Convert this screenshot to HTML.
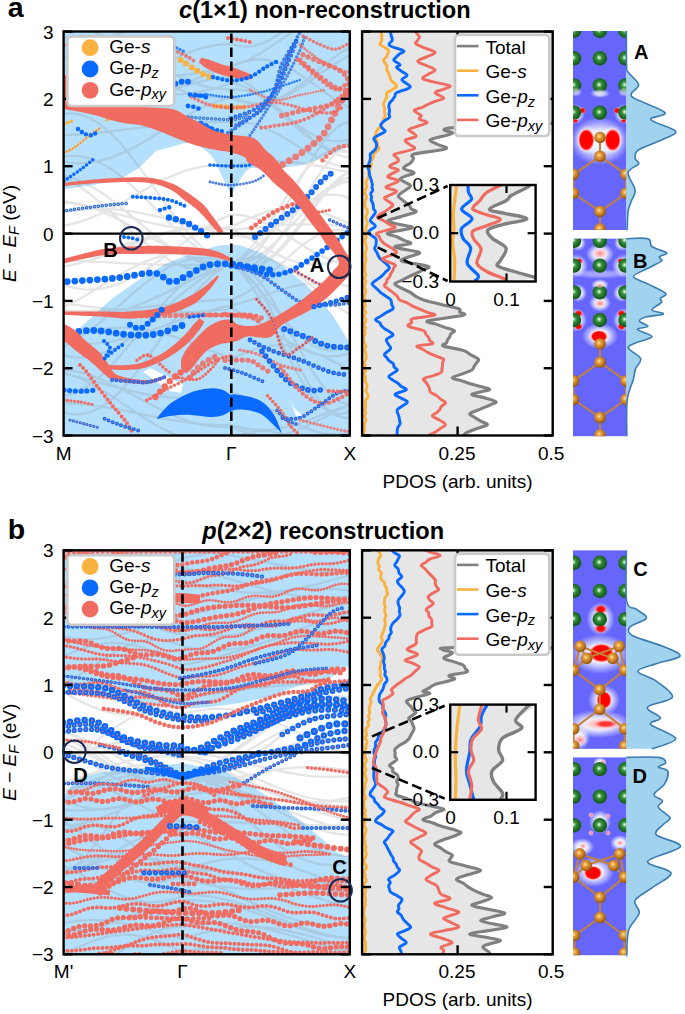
<!DOCTYPE html><html><head><meta charset="utf-8"><style>html,body{margin:0;padding:0;background:#fff;}body{width:685px;height:1014px;overflow:hidden;}svg{display:block;}</style></head><body><svg width="685" height="1014" viewBox="0 0 685 1014" font-family='"Liberation Sans", sans-serif'><defs><radialGradient id="gG" cx="0.45" cy="0.45" r="0.55"><stop offset="0" stop-color="#f0fff0"/><stop offset="0.18" stop-color="#8fd08f"/><stop offset="0.35" stop-color="#3a8f40"/><stop offset="0.7" stop-color="#1f6e25"/><stop offset="1" stop-color="#14531a"/></radialGradient><radialGradient id="gO" cx="0.42" cy="0.4" r="0.6"><stop offset="0" stop-color="#ffe6a8"/><stop offset="0.3" stop-color="#e8a23c"/><stop offset="0.75" stop-color="#b8701c"/><stop offset="1" stop-color="#8a5210"/></radialGradient><radialGradient id="gW"><stop offset="0" stop-color="#fff" stop-opacity="1"/><stop offset="0.45" stop-color="#fff" stop-opacity="0.85"/><stop offset="1" stop-color="#fff" stop-opacity="0"/></radialGradient><radialGradient id="gR"><stop offset="0" stop-color="#ff0000"/><stop offset="0.5" stop-color="#ff0a0a"/><stop offset="0.8" stop-color="#ff6060" stop-opacity="0.6"/><stop offset="1" stop-color="#ffb0b0" stop-opacity="0"/></radialGradient><radialGradient id="gR2"><stop offset="0" stop-color="#ff0000"/><stop offset="0.72" stop-color="#ff0505"/><stop offset="0.88" stop-color="#ffb0b0"/><stop offset="1" stop-color="#ffffff" stop-opacity="0"/></radialGradient><radialGradient id="gP"><stop offset="0" stop-color="#ff8080"/><stop offset="0.6" stop-color="#ffc0c0" stop-opacity="0.7"/><stop offset="1" stop-color="#ffe0e0" stop-opacity="0"/></radialGradient><clipPath id="clipBa"><rect x="63.6" y="31.5" width="286.2" height="404"/></clipPath><clipPath id="clipPa"><rect x="362.1" y="31.5" width="190.6" height="404"/></clipPath><clipPath id="clipBb"><rect x="63.6" y="550.3" width="286.2" height="404"/></clipPath><clipPath id="clipPb"><rect x="362.1" y="550.3" width="190.6" height="404"/></clipPath></defs><rect width="685" height="1014" fill="#fff"/><text x="7.8" y="16.6" font-size="28.5" font-weight="bold">a</text><text x="7.8" y="538.7" font-size="28.5" font-weight="bold">b</text><text x="179" y="17.5" font-size="23.6" font-weight="bold"><tspan font-style="italic">c</tspan>(1×1) non-reconstruction</text><text x="202.3" y="539.1" font-size="23.6" font-weight="bold"><tspan font-style="italic">p</tspan>(2×2) reconstruction</text><g clip-path="url(#clipBa)"><path d="M60,28 L353,28 L353,143 L340,150 L325,157 L302,165 L280,168 L262,168 L250,168 L245,172 L231,195 L214,159 L209,153 L195,143 L185,143 L165,148.5 L156,151 L139,168 L117,181 L86,186 L60,190Z" fill="#b4e0fe"/><path d="M60,347 L86.3,322 L112.5,298.3 L138.8,280 L165,264 L191.4,253.6 L217.6,245.8 L231,244.5 L240.7,245.5 L261.4,252.8 L282,265.2 L302.8,281.8 L319.4,298.3 L333.9,317 L346.3,337.7 L353,348 L353,440 L60,440Z" fill="#b4e0fe"/><path d="M143,372 L150,368 L183,384 L181,393 L170,391Z" fill="#fff"/><path d="M290,400 L294,408 L303,416 L296,416Z" fill="#fff"/><path d="M63,309.3 L70,311.1 L77,312.4 L84,313.3 L91,313.7 L98.1,313.6 L105.1,313.1 L112.1,312.2 L119.1,310.8 L126.1,309 L133.1,306.8 L140.1,304.3 L147.2,301.4 L154.2,298.3 L161.2,295.1 L168.2,291.6 L175.2,288.1 L182.2,284.6 L189.2,281.1 L196.2,277.7 L203.3,274.4 L210.3,271.4 L217.3,268.6 L224.3,266.1 L231.3,264 L236.2,267.2 L241.2,271.1 L246.1,275.5 L251.1,280.5 L256,285.8 L261,291.5 L265.9,297.4 L270.9,303.4 L275.8,309.4 L280.8,315.3 L285.7,321.1 L290.6,326.5 L295.6,331.6 L300.5,336.2 L305.5,340.3 L310.4,343.8 L315.4,346.5 L320.3,348.6 L325.3,349.9 L330.2,350.4 L335.2,350.2 L340.1,349.1 L345.1,347.3 L350,344.8 M63,346.8 L70,343.3 L77,339.3 L84,334.6 L91,329.4 L98.1,323.9 L105.1,318 L112.1,311.9 L119.1,305.7 L126.1,299.5 L133.1,293.3 L140.1,287.4 L147.2,281.8 L154.2,276.6 L161.2,271.9 L168.2,267.8 L175.2,264.3 L182.2,261.5 L189.2,259.5 L196.2,258.2 L203.3,257.8 L210.3,258.1 L217.3,259.3 L224.3,261.3 L231.3,264 L236.2,264.4 L241.2,265.9 L246.1,268.7 L251.1,272.5 L256,277.5 L261,283.3 L265.9,290.1 L270.9,297.6 L275.8,305.7 L280.8,314.4 L285.7,323.3 L290.6,332.5 L295.6,341.6 L300.5,350.7 L305.5,359.5 L310.4,367.8 L315.4,375.5 L320.3,382.6 L325.3,388.8 L330.2,394.1 L335.2,398.4 L340.1,401.5 L345.1,403.5 L350,404.4 M63,411.9 L70,413.9 L77,414.5 L84,413.9 L91,412 L98.1,408.8 L105.1,404.4 L112.1,398.8 L119.1,392.3 L126.1,384.8 L133.1,376.4 L140.1,367.5 L147.2,358 L154.2,348.2 L161.2,338.2 L168.2,328.2 L175.2,318.3 L182.2,308.8 L189.2,299.8 L196.2,291.5 L203.3,283.9 L210.3,277.3 L217.3,271.7 L224.3,267.2 L231.3,264 L236.2,261.7 L241.2,259.8 L246.1,258.5 L251.1,257.7 L256,257.4 L261,257.7 L265.9,258.5 L270.9,259.8 L275.8,261.6 L280.8,263.9 L285.7,266.6 L290.6,269.7 L295.6,273.2 L300.5,276.9 L305.5,280.8 L310.4,284.9 L315.4,289 L320.3,293.1 L325.3,297.2 L330.2,301.1 L335.2,304.9 L340.1,308.3 L345.1,311.4 L350,314.2 M63,260.1 L70,260.4 L77,260.7 L84,261.1 L91,261.5 L98.1,261.8 L105.1,262.2 L112.1,262.6 L119.1,263 L126.1,263.3 L133.1,263.7 L140.1,264 L147.2,264.2 L154.2,264.5 L161.2,264.7 L168.2,264.8 L175.2,264.9 L182.2,265 L189.2,265 L196.2,264.9 L203.3,264.8 L210.3,264.7 L217.3,264.5 L224.3,264.3 L231.3,264 L236.2,264.1 L241.2,263.5 L246.1,262.3 L251.1,260.3 L256,257.7 L261,254.5 L265.9,250.8 L270.9,246.5 L275.8,241.9 L280.8,236.9 L285.7,231.7 L290.6,226.4 L295.6,221 L300.5,215.6 L305.5,210.3 L310.4,205.2 L315.4,200.5 L320.3,196.1 L325.3,192.2 L330.2,188.8 L335.2,185.9 L340.1,183.7 L345.1,182.2 L350,181.4 M63,114.2 L70,113.4 L77,113.9 L84,115.7 L91,118.7 L98.1,123 L105.1,128.3 L112.1,134.8 L119.1,142.1 L126.1,150.2 L133.1,159.1 L140.1,168.4 L147.2,178.1 L154.2,187.9 L161.2,197.8 L168.2,207.6 L175.2,217 L182.2,225.9 L189.2,234.3 L196.2,241.8 L203.3,248.5 L210.3,254.1 L217.3,258.6 L224.3,261.9 L231.3,264 L236.2,266.3 L241.2,267.8 L246.1,268.4 L251.1,268.2 L256,267.1 L261,265.2 L265.9,262.4 L270.9,258.9 L275.8,254.7 L280.8,249.8 L285.7,244.4 L290.6,238.6 L295.6,232.4 L300.5,225.9 L305.5,219.3 L310.4,212.7 L315.4,206.1 L320.3,199.8 L325.3,193.7 L330.2,188.1 L335.2,183 L340.1,178.5 L345.1,174.6 L350,171.5 M63,355 L70,356.6 L77,357.3 L84,357.3 L91,356.4 L98.1,354.7 L105.1,352.2 L112.1,349 L119.1,345.1 L126.1,340.7 L133.1,335.6 L140.1,330.2 L147.2,324.4 L154.2,318.3 L161.2,312.1 L168.2,305.8 L175.2,299.6 L182.2,293.6 L189.2,287.8 L196.2,282.5 L203.3,277.5 L210.3,273.2 L217.3,269.4 L224.3,266.3 L231.3,264 L236.2,261.2 L241.2,257.4 L246.1,252.9 L251.1,247.5 L256,241.5 L261,234.9 L265.9,227.9 L270.9,220.5 L275.8,213 L280.8,205.3 L285.7,197.7 L290.6,190.3 L295.6,183.2 L300.5,176.5 L305.5,170.3 L310.4,164.9 L315.4,160.1 L320.3,156.2 L325.3,153.2 L330.2,151.1 L335.2,150 L340.1,149.9 L345.1,150.8 L350,152.7 M63,307.6 L70,304.1 L77,300.4 L84,296.4 L91,292.2 L98.1,287.9 L105.1,283.6 L112.1,279.3 L119.1,275.1 L126.1,271.1 L133.1,267.4 L140.1,263.9 L147.2,260.9 L154.2,258.2 L161.2,256.1 L168.2,254.4 L175.2,253.3 L182.2,252.8 L189.2,252.8 L196.2,253.3 L203.3,254.5 L210.3,256.1 L217.3,258.3 L224.3,260.9 L231.3,264 L236.2,265.9 L241.2,266.7 L246.1,266.5 L251.1,265.1 L256,262.7 L261,259.2 L265.9,254.8 L270.9,249.5 L275.8,243.4 L280.8,236.7 L285.7,229.3 L290.6,221.5 L295.6,213.3 L300.5,205 L305.5,196.7 L310.4,188.4 L315.4,180.4 L320.3,172.8 L325.3,165.7 L330.2,159.3 L335.2,153.6 L340.1,148.7 L345.1,144.8 L350,141.8 M63,177 L70,180.5 L77,184.8 L84,189.6 L91,194.9 L98.1,200.7 L105.1,206.8 L112.1,213.2 L119.1,219.7 L126.1,226.2 L133.1,232.6 L140.1,238.8 L147.2,244.6 L154.2,250.1 L161.2,255.1 L168.2,259.4 L175.2,263.1 L182.2,266.1 L189.2,268.3 L196.2,269.7 L203.3,270.2 L210.3,269.9 L217.3,268.8 L224.3,266.8 L231.3,264 L236.2,266 L241.2,267.2 L246.1,267.6 L251.1,267.1 L256,265.7 L261,263.6 L265.9,260.6 L270.9,256.9 L275.8,252.5 L280.8,247.6 L285.7,242.1 L290.6,236.2 L295.6,230 L300.5,223.5 L305.5,217 L310.4,210.5 L315.4,204.1 L320.3,197.9 L325.3,192 L330.2,186.6 L335.2,181.8 L340.1,177.5 L345.1,173.9 L350,171.1 M63,202.6 L70,203.1 L77,204.1 L84,205.7 L91,207.7 L98.1,210.1 L105.1,213 L112.1,216.1 L119.1,219.6 L126.1,223.3 L133.1,227.2 L140.1,231.2 L147.2,235.3 L154.2,239.2 L161.2,243.1 L168.2,246.9 L175.2,250.3 L182.2,253.5 L189.2,256.4 L196.2,258.8 L203.3,260.9 L210.3,262.4 L217.3,263.5 L224.3,264 L231.3,264 L236.2,265.8 L241.2,268.9 L246.1,273.2 L251.1,278.7 L256,285.3 L261,292.7 L265.9,301 L270.9,310 L275.8,319.5 L280.8,329.4 L285.7,339.5 L290.6,349.5 L295.6,359.5 L300.5,369.1 L305.5,378.2 L310.4,386.7 L315.4,394.4 L320.3,401.1 L325.3,406.9 L330.2,411.5 L335.2,414.9 L340.1,417 L345.1,417.8 L350,417.3 M63,175.5 L70,177.2 L77,179.5 L84,182.5 L91,186.2 L98.1,190.5 L105.1,195.2 L112.1,200.4 L119.1,205.9 L126.1,211.6 L133.1,217.5 L140.1,223.4 L147.2,229.3 L154.2,235 L161.2,240.4 L168.2,245.5 L175.2,250.1 L182.2,254.3 L189.2,257.8 L196.2,260.7 L203.3,262.8 L210.3,264.3 L217.3,265 L224.3,264.9 L231.3,264 L236.2,267.7 L241.2,272.5 L246.1,278.5 L251.1,285.5 L256,293.3 L261,302 L265.9,311.2 L270.9,320.8 L275.8,330.8 L280.8,340.8 L285.7,350.8 L290.6,360.6 L295.6,370 L300.5,378.8 L305.5,386.8 L310.4,394.1 L315.4,400.4 L320.3,405.6 L325.3,409.6 L330.2,412.4 L335.2,413.9 L340.1,414.1 L345.1,412.9 L350,410.5 M63,396 L70,394.5 L77,392 L84,388.3 L91,383.7 L98.1,378.1 L105.1,371.8 L112.1,364.7 L119.1,357 L126.1,348.8 L133.1,340.4 L140.1,331.7 L147.2,323.1 L154.2,314.5 L161.2,306.2 L168.2,298.3 L175.2,291 L182.2,284.3 L189.2,278.4 L196.2,273.4 L203.3,269.4 L210.3,266.4 L217.3,264.5 L224.3,263.7 L231.3,264 L236.2,261.5 L241.2,258.6 L246.1,255.1 L251.1,251.3 L256,247.1 L261,242.6 L265.9,238 L270.9,233.2 L275.8,228.4 L280.8,223.6 L285.7,219 L290.6,214.6 L295.6,210.5 L300.5,206.7 L305.5,203.4 L310.4,200.5 L315.4,198.1 L320.3,196.4 L325.3,195.2 L330.2,194.6 L335.2,194.7 L340.1,195.4 L345.1,196.7 L350,198.6 M63,156.6 L70,155.8 L77,155.9 L84,156.9 L91,158.9 L98.1,161.7 L105.1,165.3 L112.1,169.7 L119.1,174.9 L126.1,180.6 L133.1,186.8 L140.1,193.5 L147.2,200.4 L154.2,207.5 L161.2,214.6 L168.2,221.7 L175.2,228.6 L182.2,235.1 L189.2,241.3 L196.2,246.9 L203.3,251.8 L210.3,256.1 L217.3,259.6 L224.3,262.2 L231.3,264 L236.2,264.1 L241.2,262.9 L246.1,260.5 L251.1,257 L256,252.4 L261,246.8 L265.9,240.2 L270.9,232.8 L275.8,224.8 L280.8,216.2 L285.7,207.2 L290.6,197.9 L295.6,188.6 L300.5,179.3 L305.5,170.2 L310.4,161.6 L315.4,153.5 L320.3,146 L325.3,139.4 L330.2,133.6 L335.2,128.9 L340.1,125.3 L345.1,122.8 L350,121.5 M63,46.4 L70,45.3 L77,44 L84,42.5 L91,40.9 L98.1,39.2 L105.1,37.3 L112.1,35.5 L119.1,33.6 L126.1,31.7 L133.1,29.8 L140.1,28 L147.2,26.3 L154.2,24.7 L161.2,23.3 L168.2,22.1 L175.2,21.1 L182.2,20.3 L189.2,19.7 L196.2,19.4 L203.3,19.3 L210.3,19.5 L217.3,19.9 L224.3,20.6 L231.3,21.5 L236.2,23 L241.2,24.4 L246.1,25.5 L251.1,26.3 L256,26.9 L261,27.1 L265.9,27.1 L270.9,26.8 L275.8,26.2 L280.8,25.4 L285.7,24.2 L290.6,22.8 L295.6,21.3 L300.5,19.5 L305.5,17.5 L310.4,15.5 L315.4,13.3 L320.3,11.1 L325.3,8.9 L330.2,6.7 L335.2,4.5 L340.1,2.4 L345.1,0.5 L350,-1.2 M63,200.9 L70,202.1 L77,203.5 L84,205 L91,206.8 L98.1,208.6 L105.1,210.5 L112.1,212.5 L119.1,214.5 L126.1,216.5 L133.1,218.4 L140.1,220.3 L147.2,222 L154.2,223.6 L161.2,225.1 L168.2,226.3 L175.2,227.4 L182.2,228.2 L189.2,228.7 L196.2,229 L203.3,229.1 L210.3,228.9 L217.3,228.4 L224.3,227.7 L231.3,226.7 L236.2,224.4 L241.2,222.1 L246.1,219.8 L251.1,217.7 L256,215.7 L261,213.8 L265.9,212.1 L270.9,210.7 L275.8,209.5 L280.8,208.6 L285.7,208 L290.6,207.7 L295.6,207.7 L300.5,207.9 L305.5,208.5 L310.4,209.4 L315.4,210.5 L320.3,211.9 L325.3,213.6 L330.2,215.4 L335.2,217.4 L340.1,219.5 L345.1,221.8 L350,224.1 M63,372.5 L70,374.6 L77,377.2 L84,380.3 L91,383.9 L98.1,387.8 L105.1,392 L112.1,396.5 L119.1,401.1 L126.1,405.9 L133.1,410.6 L140.1,415.2 L147.2,419.7 L154.2,423.9 L161.2,427.9 L168.2,431.4 L175.2,434.5 L182.2,437.2 L189.2,439.3 L196.2,440.8 L203.3,441.7 L210.3,442 L217.3,441.7 L224.3,440.8 L231.3,439.3 L236.2,436.9 L241.2,434.9 L246.1,433.2 L251.1,432 L256,431.2 L261,430.8 L265.9,430.8 L270.9,431.3 L275.8,432.3 L280.8,433.6 L285.7,435.4 L290.6,437.5 L295.6,439.9 L300.5,442.7 L305.5,445.7 L310.4,448.8 L315.4,452.1 L320.3,455.5 L325.3,458.9 L330.2,462.3 L335.2,465.6 L340.1,468.7 L345.1,471.6 L350,474.3 M63,340 L70,337.5 L77,335.2 L84,333.2 L91,331.4 L98.1,330 L105.1,328.9 L112.1,328.1 L119.1,327.7 L126.1,327.6 L133.1,328 L140.1,328.7 L147.2,329.7 L154.2,331.1 L161.2,332.8 L168.2,334.8 L175.2,337 L182.2,339.5 L189.2,342.1 L196.2,344.8 L203.3,347.7 L210.3,350.5 L217.3,353.3 L224.3,356.1 L231.3,358.7 L236.2,356.4 L241.2,354.2 L246.1,352.2 L251.1,350.4 L256,348.8 L261,347.5 L265.9,346.5 L270.9,345.8 L275.8,345.4 L280.8,345.3 L285.7,345.5 L290.6,346.1 L295.6,347 L300.5,348.1 L305.5,349.6 L310.4,351.3 L315.4,353.2 L320.3,355.3 L325.3,357.5 L330.2,359.9 L335.2,362.4 L340.1,364.8 L345.1,367.3 L350,369.7 M63,161.5 L70,162.6 L77,163.1 L84,163 L91,162.4 L98.1,161.2 L105.1,159.4 L112.1,157.2 L119.1,154.4 L126.1,151.3 L133.1,147.8 L140.1,144 L147.2,139.9 L154.2,135.6 L161.2,131.3 L168.2,126.9 L175.2,122.6 L182.2,118.4 L189.2,114.4 L196.2,110.6 L203.3,107.2 L210.3,104.1 L217.3,101.5 L224.3,99.4 L231.3,97.8 L236.2,99.9 L241.2,101.5 L246.1,102.8 L251.1,103.5 L256,103.9 L261,103.7 L265.9,103.1 L270.9,102.1 L275.8,100.6 L280.8,98.7 L285.7,96.4 L290.6,93.7 L295.6,90.8 L300.5,87.7 L305.5,84.3 L310.4,80.8 L315.4,77.3 L320.3,73.7 L325.3,70.2 L330.2,66.7 L335.2,63.5 L340.1,60.5 L345.1,57.7 L350,55.3 M63,403.3 L70,403.5 L77,403.9 L84,404.5 L91,405.2 L98.1,406.1 L105.1,407.2 L112.1,408.3 L119.1,409.6 L126.1,410.9 L133.1,412.3 L140.1,413.7 L147.2,415.2 L154.2,416.6 L161.2,418 L168.2,419.3 L175.2,420.5 L182.2,421.6 L189.2,422.6 L196.2,423.4 L203.3,424.1 L210.3,424.6 L217.3,425 L224.3,425.1 L231.3,425.1 L236.2,426.4 L241.2,427.6 L246.1,428.5 L251.1,429.2 L256,429.7 L261,429.9 L265.9,429.8 L270.9,429.5 L275.8,429 L280.8,428.2 L285.7,427.2 L290.6,425.9 L295.6,424.5 L300.5,422.9 L305.5,421.2 L310.4,419.4 L315.4,417.5 L320.3,415.5 L325.3,413.6 L330.2,411.6 L335.2,409.7 L340.1,407.9 L345.1,406.3 L350,404.7 M63,101.2 L70,103 L77,104.4 L84,105.4 L91,106.1 L98.1,106.4 L105.1,106.3 L112.1,105.9 L119.1,105 L126.1,103.8 L133.1,102.2 L140.1,100.4 L147.2,98.2 L154.2,95.8 L161.2,93.2 L168.2,90.5 L175.2,87.6 L182.2,84.7 L189.2,81.7 L196.2,78.8 L203.3,76 L210.3,73.3 L217.3,70.8 L224.3,68.5 L231.3,66.5 L236.2,64.2 L241.2,62.4 L246.1,61 L251.1,60 L256,59.5 L261,59.5 L265.9,59.9 L270.9,60.8 L275.8,62.2 L280.8,64 L285.7,66.2 L290.6,68.7 L295.6,71.6 L300.5,74.8 L305.5,78.1 L310.4,81.6 L315.4,85.2 L320.3,88.9 L325.3,92.5 L330.2,96 L335.2,99.4 L340.1,102.6 L345.1,105.5 L350,108.1 M63,369.5 L70,370.3 L77,371.6 L84,373.3 L91,375.5 L98.1,378.1 L105.1,381 L112.1,384.2 L119.1,387.6 L126.1,391.2 L133.1,395 L140.1,398.7 L147.2,402.5 L154.2,406.2 L161.2,409.8 L168.2,413.1 L175.2,416.2 L182.2,419 L189.2,421.4 L196.2,423.5 L203.3,425.1 L210.3,426.2 L217.3,426.9 L224.3,427 L231.3,426.7 L236.2,428.8 L241.2,430.6 L246.1,432.2 L251.1,433.6 L256,434.6 L261,435.3 L265.9,435.6 L270.9,435.6 L275.8,435.3 L280.8,434.6 L285.7,433.6 L290.6,432.3 L295.6,430.7 L300.5,428.8 L305.5,426.7 L310.4,424.5 L315.4,422 L320.3,419.5 L325.3,416.9 L330.2,414.3 L335.2,411.6 L340.1,409.1 L345.1,406.7 L350,404.4 M63,225.6 L70,224.3 L77,222.6 L84,220.4 L91,217.8 L98.1,214.9 L105.1,211.6 L112.1,208 L119.1,204.2 L126.1,200.3 L133.1,196.3 L140.1,192.3 L147.2,188.4 L154.2,184.6 L161.2,180.9 L168.2,177.6 L175.2,174.5 L182.2,171.8 L189.2,169.6 L196.2,167.8 L203.3,166.4 L210.3,165.6 L217.3,165.3 L224.3,165.5 L231.3,166.2 L236.2,165.3 L241.2,164.4 L246.1,163.6 L251.1,162.9 L256,162.4 L261,161.9 L265.9,161.6 L270.9,161.4 L275.8,161.4 L280.8,161.4 L285.7,161.7 L290.6,162 L295.6,162.5 L300.5,163.1 L305.5,163.8 L310.4,164.6 L315.4,165.5 L320.3,166.4 L325.3,167.4 L330.2,168.4 L335.2,169.5 L340.1,170.5 L345.1,171.5 L350,172.5 M63,37.3 L70,38.5 L77,40.2 L84,42.4 L91,45 L98.1,48 L105.1,51.3 L112.1,54.8 L119.1,58.6 L126.1,62.5 L133.1,66.5 L140.1,70.4 L147.2,74.4 L154.2,78.1 L161.2,81.7 L168.2,85.1 L175.2,88.1 L182.2,90.8 L189.2,93 L196.2,94.8 L203.3,96.1 L210.3,97 L217.3,97.3 L224.3,97.1 L231.3,96.3 L236.2,98.7 L241.2,100.6 L246.1,102 L251.1,103 L256,103.3 L261,103.2 L265.9,102.5 L270.9,101.2 L275.8,99.5 L280.8,97.3 L285.7,94.6 L290.6,91.6 L295.6,88.2 L300.5,84.6 L305.5,80.7 L310.4,76.7 L315.4,72.5 L320.3,68.4 L325.3,64.3 L330.2,60.4 L335.2,56.6 L340.1,53.1 L345.1,50 L350,47.2 M63,26.3 L70,26.7 L77,27.7 L84,29.2 L91,31.2 L98.1,33.6 L105.1,36.5 L112.1,39.7 L119.1,43.2 L126.1,47 L133.1,51 L140.1,55.1 L147.2,59.2 L154.2,63.3 L161.2,67.3 L168.2,71.2 L175.2,74.8 L182.2,78.2 L189.2,81.2 L196.2,83.7 L203.3,85.9 L210.3,87.6 L217.3,88.7 L224.3,89.4 L231.3,89.5 L236.2,89.3 L241.2,89.6 L246.1,90.6 L251.1,92.1 L256,94.2 L261,96.8 L265.9,99.8 L270.9,103.2 L275.8,107 L280.8,111.1 L285.7,115.3 L290.6,119.8 L295.6,124.2 L300.5,128.7 L305.5,133.1 L310.4,137.3 L315.4,141.3 L320.3,145 L325.3,148.3 L330.2,151.1 L335.2,153.6 L340.1,155.5 L345.1,156.8 L350,157.6 M63,135.2 L70,134.9 L77,134.5 L84,134 L91,133.4 L98.1,132.8 L105.1,132 L112.1,131.2 L119.1,130.4 L126.1,129.5 L133.1,128.6 L140.1,127.7 L147.2,126.9 L154.2,126 L161.2,125.2 L168.2,124.5 L175.2,123.8 L182.2,123.2 L189.2,122.7 L196.2,122.3 L203.3,122 L210.3,121.9 L217.3,121.8 L224.3,121.9 L231.3,122.1 L236.2,121.8 L241.2,122 L246.1,122.6 L251.1,123.5 L256,124.9 L261,126.5 L265.9,128.5 L270.9,130.8 L275.8,133.3 L280.8,136 L285.7,138.8 L290.6,141.8 L295.6,144.8 L300.5,147.8 L305.5,150.7 L310.4,153.6 L315.4,156.3 L320.3,158.8 L325.3,161.1 L330.2,163.1 L335.2,164.8 L340.1,166.1 L345.1,167.1 L350,167.7 M63,102.2 L70,101.9 L77,101.1 L84,99.9 L91,98.2 L98.1,96 L105.1,93.5 L112.1,90.6 L119.1,87.4 L126.1,84 L133.1,80.4 L140.1,76.6 L147.2,72.8 L154.2,69 L161.2,65.3 L168.2,61.7 L175.2,58.3 L182.2,55.1 L189.2,52.3 L196.2,49.8 L203.3,47.7 L210.3,46.1 L217.3,44.9 L224.3,44.2 L231.3,44 L236.2,45.4 L241.2,46.3 L246.1,46.6 L251.1,46.3 L256,45.4 L261,43.9 L265.9,41.9 L270.9,39.3 L275.8,36.3 L280.8,32.8 L285.7,28.9 L290.6,24.8 L295.6,20.4 L300.5,15.9 L305.5,11.2 L310.4,6.6 L315.4,2.1 L320.3,-2.3 L325.3,-6.5 L330.2,-10.3 L335.2,-13.8 L340.1,-16.8 L345.1,-19.4 L350,-21.5 M63,108.6 L70,109.1 L77,109.4 L84,109.3 L91,109 L98.1,108.4 L105.1,107.5 L112.1,106.4 L119.1,105 L126.1,103.4 L133.1,101.6 L140.1,99.7 L147.2,97.6 L154.2,95.4 L161.2,93.2 L168.2,91 L175.2,88.8 L182.2,86.6 L189.2,84.6 L196.2,82.7 L203.3,80.9 L210.3,79.4 L217.3,78 L224.3,77 L231.3,76.1 L236.2,77.9 L241.2,80.2 L246.1,83 L251.1,86.1 L256,89.7 L261,93.5 L265.9,97.6 L270.9,101.9 L275.8,106.2 L280.8,110.6 L285.7,114.9 L290.6,119.2 L295.6,123.2 L300.5,126.9 L305.5,130.3 L310.4,133.4 L315.4,135.9 L320.3,138 L325.3,139.6 L330.2,140.7 L335.2,141.1 L340.1,141 L345.1,140.4 L350,139.1 M63,56.7 L70,58.5 L77,60.4 L84,62.3 L91,64.2 L98.1,66 L105.1,67.8 L112.1,69.4 L119.1,70.9 L126.1,72.3 L133.1,73.4 L140.1,74.3 L147.2,75.1 L154.2,75.5 L161.2,75.8 L168.2,75.8 L175.2,75.5 L182.2,75 L189.2,74.3 L196.2,73.3 L203.3,72.1 L210.3,70.8 L217.3,69.3 L224.3,67.6 L231.3,65.9 L236.2,64.6 L241.2,62.9 L246.1,60.8 L251.1,58.5 L256,55.8 L261,52.9 L265.9,49.7 L270.9,46.5 L275.8,43.1 L280.8,39.7 L285.7,36.4 L290.6,33.1 L295.6,30 L300.5,27 L305.5,24.3 L310.4,21.9 L315.4,19.8 L320.3,18.1 L325.3,16.8 L330.2,15.9 L335.2,15.5 L340.1,15.5 L345.1,15.9 L350,16.7 M63,284.8 L70,286.9 L77,288.5 L84,289.4 L91,289.6 L98.1,289.1 L105.1,288 L112.1,286.2 L119.1,283.8 L126.1,280.8 L133.1,277.2 L140.1,273.2 L147.2,268.8 L154.2,264.1 L161.2,259.2 L168.2,254 L175.2,248.8 L182.2,243.6 L189.2,238.6 L196.2,233.7 L203.3,229.1 L210.3,224.8 L217.3,221 L224.3,217.6 L231.3,214.9 L236.2,214.8 L241.2,215.2 L246.1,216 L251.1,217.2 L256,218.8 L261,220.8 L265.9,223 L270.9,225.6 L275.8,228.4 L280.8,231.3 L285.7,234.5 L290.6,237.7 L295.6,240.9 L300.5,244.1 L305.5,247.2 L310.4,250.2 L315.4,253.1 L320.3,255.6 L325.3,257.9 L330.2,259.9 L335.2,261.6 L340.1,262.9 L345.1,263.7 L350,264.2 M63,262 L70,260.8 L77,259.3 L84,257.6 L91,255.7 L98.1,253.6 L105.1,251.4 L112.1,249.1 L119.1,246.8 L126.1,244.4 L133.1,242.1 L140.1,239.8 L147.2,237.6 L154.2,235.6 L161.2,233.7 L168.2,232.1 L175.2,230.7 L182.2,229.6 L189.2,228.7 L196.2,228.1 L203.3,227.9 L210.3,227.9 L217.3,228.3 L224.3,229 L231.3,229.9 L236.2,229.4 L241.2,228.9 L246.1,228.3 L251.1,227.8 L256,227.3 L261,226.8 L265.9,226.3 L270.9,225.8 L275.8,225.4 L280.8,225.1 L285.7,224.8 L290.6,224.6 L295.6,224.4 L300.5,224.3 L305.5,224.3 L310.4,224.4 L315.4,224.5 L320.3,224.7 L325.3,224.9 L330.2,225.2 L335.2,225.6 L340.1,226 L345.1,226.5 L350,227 M63,65.8 L70,68.3 L77,70.8 L84,73.5 L91,76.1 L98.1,78.8 L105.1,81.3 L112.1,83.7 L119.1,86 L126.1,88.1 L133.1,89.9 L140.1,91.5 L147.2,92.8 L154.2,93.7 L161.2,94.4 L168.2,94.7 L175.2,94.6 L182.2,94.2 L189.2,93.5 L196.2,92.4 L203.3,91 L210.3,89.4 L217.3,87.5 L224.3,85.3 L231.3,83 L236.2,84 L241.2,85.5 L246.1,87.5 L251.1,90.1 L256,93.2 L261,96.6 L265.9,100.4 L270.9,104.5 L275.8,108.8 L280.8,113.2 L285.7,117.8 L290.6,122.3 L295.6,126.7 L300.5,130.9 L305.5,135 L310.4,138.7 L315.4,142 L320.3,144.9 L325.3,147.4 L330.2,149.3 L335.2,150.7 L340.1,151.5 L345.1,151.7 L350,151.4 M63,212.1 L70,211 L77,210.1 L84,209.5 L91,209.1 L98.1,208.9 L105.1,209 L112.1,209.3 L119.1,209.9 L126.1,210.7 L133.1,211.7 L140.1,212.9 L147.2,214.3 L154.2,215.8 L161.2,217.5 L168.2,219.3 L175.2,221.2 L182.2,223.1 L189.2,225 L196.2,226.8 L203.3,228.6 L210.3,230.4 L217.3,232 L224.3,233.4 L231.3,234.7 L236.2,235.9 L241.2,236.6 L246.1,236.8 L251.1,236.5 L256,235.6 L261,234.3 L265.9,232.4 L270.9,230.1 L275.8,227.4 L280.8,224.3 L285.7,220.9 L290.6,217.2 L295.6,213.4 L300.5,209.4 L305.5,205.4 L310.4,201.3 L315.4,197.4 L320.3,193.6 L325.3,190 L330.2,186.7 L335.2,183.7 L340.1,181.1 L345.1,178.9 L350,177.2 M63,373.6 L70,375.1 L77,376.7 L84,378.5 L91,380.4 L98.1,382.3 L105.1,384.2 L112.1,386.1 L119.1,387.9 L126.1,389.7 L133.1,391.4 L140.1,392.9 L147.2,394.3 L154.2,395.4 L161.2,396.4 L168.2,397.1 L175.2,397.6 L182.2,397.9 L189.2,397.9 L196.2,397.7 L203.3,397.2 L210.3,396.4 L217.3,395.5 L224.3,394.3 L231.3,393 L236.2,394.2 L241.2,395.7 L246.1,397.5 L251.1,399.6 L256,401.9 L261,404.3 L265.9,407 L270.9,409.7 L275.8,412.5 L280.8,415.3 L285.7,418.1 L290.6,420.8 L295.6,423.3 L300.5,425.7 L305.5,427.9 L310.4,429.7 L315.4,431.4 L320.3,432.7 L325.3,433.6 L330.2,434.2 L335.2,434.5 L340.1,434.4 L345.1,433.9 L350,433 M63,341.9 L70,342.8 L77,343.4 L84,343.6 L91,343.5 L98.1,343.1 L105.1,342.3 L112.1,341.3 L119.1,339.9 L126.1,338.2 L133.1,336.3 L140.1,334.2 L147.2,331.9 L154.2,329.4 L161.2,326.9 L168.2,324.3 L175.2,321.7 L182.2,319.1 L189.2,316.6 L196.2,314.3 L203.3,312.1 L210.3,310 L217.3,308.3 L224.3,306.8 L231.3,305.5 L236.2,304.3 L241.2,302.9 L246.1,301.4 L251.1,299.9 L256,298.2 L261,296.5 L265.9,294.8 L270.9,293.2 L275.8,291.5 L280.8,290 L285.7,288.5 L290.6,287.2 L295.6,286 L300.5,285 L305.5,284.2 L310.4,283.6 L315.4,283.2 L320.3,283 L325.3,283 L330.2,283.3 L335.2,283.8 L340.1,284.5 L345.1,285.3 L350,286.4 M63,266.6 L70,265.4 L77,263.8 L84,262 L91,260 L98.1,257.7 L105.1,255.2 L112.1,252.7 L119.1,250 L126.1,247.3 L133.1,244.6 L140.1,242 L147.2,239.5 L154.2,237.1 L161.2,234.9 L168.2,232.9 L175.2,231.1 L182.2,229.7 L189.2,228.5 L196.2,227.7 L203.3,227.3 L210.3,227.1 L217.3,227.4 L224.3,227.9 L231.3,228.8 L236.2,231.3 L241.2,233.9 L246.1,236.7 L251.1,239.5 L256,242.5 L261,245.4 L265.9,248.2 L270.9,251 L275.8,253.6 L280.8,256 L285.7,258.1 L290.6,260 L295.6,261.6 L300.5,262.9 L305.5,263.8 L310.4,264.3 L315.4,264.5 L320.3,264.3 L325.3,263.7 L330.2,262.7 L335.2,261.4 L340.1,259.7 L345.1,257.8 L350,255.6 M63,310.7 L70,310.9 L77,311 L84,310.9 L91,310.8 L98.1,310.6 L105.1,310.3 L112.1,309.9 L119.1,309.5 L126.1,308.9 L133.1,308.3 L140.1,307.6 L147.2,306.9 L154.2,306.1 L161.2,305.4 L168.2,304.6 L175.2,303.8 L182.2,303.1 L189.2,302.4 L196.2,301.7 L203.3,301.1 L210.3,300.5 L217.3,300 L224.3,299.7 L231.3,299.4 L236.2,297.8 L241.2,295.6 L246.1,292.9 L251.1,289.8 L256,286.2 L261,282.3 L265.9,278.1 L270.9,273.6 L275.8,269 L280.8,264.4 L285.7,259.8 L290.6,255.2 L295.6,250.8 L300.5,246.7 L305.5,242.9 L310.4,239.4 L315.4,236.5 L320.3,234 L325.3,232 L330.2,230.6 L335.2,229.8 L340.1,229.6 L345.1,230 L350,231 M63,303.6 L70,304.4 L77,305.2 L84,306.1 L91,306.9 L98.1,307.7 L105.1,308.5 L112.1,309.3 L119.1,310 L126.1,310.7 L133.1,311.2 L140.1,311.7 L147.2,312.1 L154.2,312.4 L161.2,312.6 L168.2,312.7 L175.2,312.6 L182.2,312.5 L189.2,312.2 L196.2,311.9 L203.3,311.4 L210.3,310.9 L217.3,310.2 L224.3,309.6 L231.3,308.8 L236.2,310.6 L241.2,312.6 L246.1,315 L251.1,317.7 L256,320.6 L261,323.7 L265.9,326.9 L270.9,330.2 L275.8,333.5 L280.8,336.7 L285.7,339.9 L290.6,342.9 L295.6,345.7 L300.5,348.2 L305.5,350.5 L310.4,352.4 L315.4,353.9 L320.3,355.1 L325.3,355.8 L330.2,356.1 L335.2,356 L340.1,355.5 L345.1,354.5 L350,353.1" fill="none" stroke="#8a8a8a" stroke-opacity="0.22" stroke-width="2.3" stroke-linejoin="round"/><path d="M180.6,59.9C183.3,61.7 191.7,67.6 196.6,70.5C201.5,73.4 207.7,76 209.9,77.1" fill="none" stroke="#f9b23f" stroke-width="6" stroke-linecap="round" stroke-dasharray="0 6.6"/><path d="M64,124L75,120" fill="none" stroke="#f9b23f" stroke-width="3.6" stroke-linecap="round" stroke-dasharray="0 3.96"/><path d="M107,120C110,119 119.5,115.7 125,114C130.5,112.3 137.5,110.7 140,110" fill="none" stroke="#f9b23f" stroke-width="3" stroke-linecap="round" stroke-dasharray="0 3.3"/><path d="M64,153C65.8,152 70.7,150 75,147C79.3,144 85.8,138.2 90,135C94.2,131.8 98.3,129.2 100,128" fill="none" stroke="#f9b23f" stroke-width="3" stroke-linecap="round" stroke-dasharray="0 3.3"/><path d="M64,153C65.8,152 70.7,150 75,147C79.3,144 85.8,138.2 90,135C94.2,131.8 98.3,129.2 100,128" fill="none" stroke="#f06b60" stroke-width="1.2" stroke-linecap="round" stroke-dasharray="0 3.3"/><path d="M64,181C66.7,179.2 74.8,173.8 80,170C85.2,166.2 92.5,160 95,158" fill="none" stroke="#0a6aff" stroke-width="3.6" stroke-linecap="round" stroke-dasharray="0 3.96"/><path d="M78,129C79.2,129.8 82.5,133 85,134C87.5,135 91,135.5 93,135C95,134.5 96.3,131.7 97,131" fill="none" stroke="#0a6aff" stroke-width="4.4" stroke-linecap="round" stroke-dasharray="0 4.84"/><path d="M198.9,62.2 L199.3,62.7 L200,63.4 L200.7,64 L201.7,64.8 L202.7,65.6 L203.8,66.4 L204.9,67.3 L206.1,68.1 L207.5,68.8 L208.9,69.5 L210.4,70.2 L212,70.9 L213.6,71.7 L215.2,72.4 L216.8,73.1 L218.4,73.7 L219.9,74.2 L221.4,74.7 L222.8,75.1 L224.2,75.4 L225.5,75.8 L226.9,76.1 L228.2,76.4 L229.7,76.8 L231.3,77.1 L233,77.5 L234.8,77.9 L236.6,78.3 L238.5,78.7 L240.3,79.1 L241.9,79.4 L243.5,79.7 L244.9,79.8 L246.3,79.8 L247.5,79.7 L248.6,79.6 L249.6,79.5 L250.5,79.3 L251.2,79.2 L251.7,79 L252.3,75 L251.7,74.7 L251.1,74.4 L250.3,74 L249.4,73.7 L248.5,73.3 L247.5,72.9 L246.4,72.4 L245.3,71.9 L244,71.5 L242.5,70.9 L240.9,70.3 L239.2,69.7 L237.4,69 L235.7,68.4 L233.9,67.8 L232.3,67.2 L230.8,66.8 L229.3,66.4 L227.9,66.1 L226.6,65.7 L225.4,65.4 L224.1,65.1 L222.9,64.7 L221.6,64.3 L220.3,63.8 L218.8,63.3 L217.2,62.8 L215.7,62.2 L214.1,61.6 L212.6,61 L211.2,60.4 L209.9,59.9 L208.6,59.6 L207.3,59.2 L206,58.9 L204.8,58.6 L203.7,58.3 L202.7,58 L201.9,57.9 L201.1,57.8Z" fill="#f06b60"/><path d="M213,77C216,77.6 224.8,80.5 231,80.5C237.2,80.5 244.2,79.2 250,77C255.8,74.8 261,69.8 266,67C271,64.2 277.7,61.2 280,60" fill="none" stroke="#0a6aff" stroke-width="4.4" stroke-linecap="round" stroke-dasharray="0 4.84"/><path d="M175,119C178.3,119.7 188.7,121.3 195,123C201.3,124.7 208,127.5 213,129C218,130.5 223,131.5 225,132" fill="none" stroke="#0a6aff" stroke-width="4.4" stroke-linecap="round" stroke-dasharray="0 4.84"/><path d="M215,106C217.7,106.2 225.7,106.8 231,107C236.3,107.2 244.3,107 247,107" fill="none" stroke="#f9b23f" stroke-width="5.2" stroke-linecap="round" stroke-dasharray="0 5.72"/><path d="M205,94C209.3,94.5 221.5,97.3 231,97C240.5,96.7 250.5,94.8 262,92C273.5,89.2 293.7,82 300,80" fill="none" stroke="#0a6aff" stroke-width="2.6" stroke-linecap="round" stroke-dasharray="0 2.86" stroke-opacity="0.8"/><path d="M210,165C213.5,165.2 224.3,166 231,166C237.7,166 244.3,166.3 250,165C255.7,163.7 262.5,159.2 265,158" fill="none" stroke="#0a6aff" stroke-width="3.6" stroke-linecap="round" stroke-dasharray="0 3.96"/><path d="M210,182C213.3,182.5 222.8,185.3 230,185.2C237.2,185.1 247.3,183.4 253.2,181.6C259.1,179.8 263.5,175.7 265.6,174.5" fill="none" stroke="#0a6aff" stroke-width="2.8" stroke-linecap="round" stroke-dasharray="0 3.08" stroke-opacity="0.9"/><path d="M210,182C213.3,182.5 222.8,185.3 230,185.2C237.2,185.1 247.3,183.4 253.2,181.6C259.1,179.8 263.5,175.7 265.6,174.5" fill="none" stroke="#f06b60" stroke-width="1.2" stroke-linecap="round" stroke-dasharray="0 3.08" stroke-opacity="0.9"/><path d="M228,133C231.7,130.5 244,122.2 250,118C256,113.8 259.8,112.6 264,107.6C268.2,102.6 272,95.3 275,88C278,80.7 278.3,72.2 282,64C285.7,55.8 294.5,43.2 297,39" fill="none" stroke="#0a6aff" stroke-width="4" stroke-linecap="round" stroke-dasharray="0 4.4" stroke-opacity="0.9"/><path d="M228,133C231.7,130.5 244,122.2 250,118C256,113.8 259.8,112.6 264,107.6C268.2,102.6 272,95.3 275,88C278,80.7 278.3,72.2 282,64C285.7,55.8 294.5,43.2 297,39" fill="none" stroke="#f06b60" stroke-width="1.6" stroke-linecap="round" stroke-dasharray="0 4.4" stroke-opacity="0.9"/><path d="M240,150C242.5,146.3 250,135.5 255,128C260,120.5 265,113 270,105C275,97 280,89.2 285,80C290,70.8 296.7,57.5 300,50C303.3,42.5 304.2,37.5 305,35" fill="none" stroke="#0a6aff" stroke-width="3.2" stroke-linecap="round" stroke-dasharray="0 3.52" stroke-opacity="0.8"/><path d="M240,150C242.5,146.3 250,135.5 255,128C260,120.5 265,113 270,105C275,97 280,89.2 285,80C290,70.8 296.7,57.5 300,50C303.3,42.5 304.2,37.5 305,35" fill="none" stroke="#f06b60" stroke-width="1.4" stroke-linecap="round" stroke-dasharray="0 3.52" stroke-opacity="0.8"/><path d="M228,38C230,38.3 236.3,39.3 240,40C243.7,40.7 248.3,41.7 250,42" fill="none" stroke="#f06b60" stroke-width="4" stroke-linecap="round" stroke-dasharray="0 4.4"/><path d="M300,60C303,62.5 311.8,70.3 318,75C324.2,79.7 332,85.5 337,88C342,90.5 346.2,89.7 348,90" fill="none" stroke="#f06b60" stroke-width="5" stroke-linecap="round" stroke-dasharray="0 5.5" stroke-opacity="0.85"/><path d="M348,90C346,91.7 341,96.2 336,100C331,103.8 324.5,109.3 318,113C311.5,116.7 303.3,120 297,122C290.7,124 286.2,124 280,125C273.8,126 263.3,127.5 260,128" fill="none" stroke="#f06b60" stroke-width="4" stroke-linecap="round" stroke-dasharray="0 4.4" stroke-opacity="0.85"/><path d="M276.3,168.3C280.4,165.8 294.1,158.1 301.2,153.2C308.3,148.3 314.8,142.8 319,138.9C323.2,135 323.7,134 326.2,130C328.7,126 331.4,120 334,115C336.6,110 339.5,104.2 342,100C344.5,95.8 347.8,91.7 349,90" fill="none" stroke="#f06b60" stroke-width="6.8" stroke-linecap="round" stroke-dasharray="0 7.48" stroke-opacity="0.85"/><path d="M322.6,160.3C325,158.2 332,150.2 336.9,147.8C341.8,145.4 349.5,146.3 352,146" fill="none" stroke="#f06b60" stroke-width="4.8" stroke-linecap="round" stroke-dasharray="0 5.28" stroke-opacity="0.85"/><path d="M300,45C303.3,47.5 313.3,55.8 320,60C326.7,64.2 335,68 340,70C345,72 348.3,71.7 350,72" fill="none" stroke="#f06b60" stroke-width="2.8" stroke-linecap="round" stroke-dasharray="0 3.08" stroke-opacity="0.8"/><path d="M250,90C254.2,91.7 266.7,99.2 275,100C283.3,100.8 291.7,96.7 300,95C308.3,93.3 320.8,90.8 325,90" fill="none" stroke="#f06b60" stroke-width="2.4" stroke-linecap="round" stroke-dasharray="0 2.64" stroke-opacity="0.8"/><path d="M175.3,83.8C177.1,83.3 183.3,80.9 186,81.1C188.7,81.3 190.4,84.4 191.3,85.1" fill="none" stroke="#0a6aff" stroke-width="6" stroke-linecap="round" stroke-dasharray="0 6.6"/><path d="M178,52C179.7,52.8 184.9,55.2 188,57C191.1,58.8 195.2,61.6 196.6,62.5" fill="none" stroke="#f06b60" stroke-width="4" stroke-linecap="round" stroke-dasharray="0 4.4" stroke-opacity="0.85"/><path d="M191.3,97C194.4,98.3 203.3,103.2 209.9,105C216.5,106.8 224.4,107.5 231,107.7C237.6,107.9 243,107.3 249.7,106.4C256.4,105.5 264.4,102.6 271,102.4C277.6,102.2 283.4,103.7 289.6,105C295.8,106.3 301.4,109.1 308,110.4C314.6,111.7 323.6,113.5 329.4,113C335.2,112.5 340.5,108.6 342.7,107.7" fill="none" stroke="#f06b60" stroke-width="3.6" stroke-linecap="round" stroke-dasharray="0 3.96" stroke-opacity="0.85"/><path d="M194,95.7L207,95.7" fill="none" stroke="#0a6aff" stroke-width="4" stroke-linecap="round" stroke-dasharray="0 4.4"/><path d="M236,125C239.2,123.2 249.3,118.5 255,114C260.7,109.5 265.8,104 270,98C274.2,92 276.7,85.7 280,78C283.3,70.3 286.7,59.7 290,52C293.3,44.3 298.3,35.3 300,32" fill="none" stroke="#0a6aff" stroke-width="3.6" stroke-linecap="round" stroke-dasharray="0 3.96" stroke-opacity="0.85"/><path d="M236,125C239.2,123.2 249.3,118.5 255,114C260.7,109.5 265.8,104 270,98C274.2,92 276.7,85.7 280,78C283.3,70.3 286.7,59.7 290,52C293.3,44.3 298.3,35.3 300,32" fill="none" stroke="#f06b60" stroke-width="1.4" stroke-linecap="round" stroke-dasharray="0 3.96" stroke-opacity="0.85"/><path d="M231,118.3C235.4,116.5 250.1,112.6 257.7,107.7C265.2,102.8 271.4,96.2 276.3,89.1C281.2,82 283.4,73.6 286.9,65.2C290.4,56.8 295.7,43 297.5,38.6" fill="none" stroke="#0a6aff" stroke-width="4.4" stroke-linecap="round" stroke-dasharray="0 4.84" stroke-opacity="0.9"/><path d="M231,118.3C235.4,116.5 250.1,112.6 257.7,107.7C265.2,102.8 271.4,96.2 276.3,89.1C281.2,82 283.4,73.6 286.9,65.2C290.4,56.8 295.7,43 297.5,38.6" fill="none" stroke="#f06b60" stroke-width="1.6" stroke-linecap="round" stroke-dasharray="0 4.84" stroke-opacity="0.9"/><path d="M297.5,59.9C300.6,62.5 309.8,70.9 316,75.8C322.2,80.7 329.6,87.8 334.7,89.1C339.8,90.4 344.7,84.7 346.7,83.8" fill="none" stroke="#f06b60" stroke-width="4.4" stroke-linecap="round" stroke-dasharray="0 4.84" stroke-opacity="0.85"/><path d="M302.8,36C305.5,37.3 313.5,41.8 318.8,44C324.1,46.2 329.8,49.3 334.7,49.3C339.6,49.3 345.8,44.9 348,44" fill="none" stroke="#f06b60" stroke-width="3.6" stroke-linecap="round" stroke-dasharray="0 3.96" stroke-opacity="0.85"/><path d="M281.6,115.7C285.1,114.8 294.8,112.2 302.8,110.4C310.8,108.6 322.3,107.2 329.4,105C336.5,102.8 342.2,101 345.3,97C348.4,93 348.9,85.5 348,81.1C347.1,76.7 344.4,73.6 340,70.5C335.6,67.4 327.6,65.2 321.4,62.5C315.2,59.9 305.9,55.9 302.8,54.6" fill="none" stroke="#f06b60" stroke-width="5.2" stroke-linecap="round" stroke-dasharray="0 5.72" stroke-opacity="0.85"/><path d="M64,45C68.3,45.5 80.7,46.3 90,48C99.3,49.7 110,52.7 120,55C130,57.3 140.8,60.2 150,62C159.2,63.8 170.8,65.3 175,66" fill="none" stroke="#f06b60" stroke-width="2.8" stroke-linecap="round" stroke-dasharray="0 3.08" stroke-opacity="0.8"/><path d="M150,40C153.3,40.8 164.2,43 170,45C175.8,47 182.5,50.8 185,52" fill="none" stroke="#0a6aff" stroke-width="3.2" stroke-linecap="round" stroke-dasharray="0 3.52" stroke-opacity="0.8"/><path d="M201,123C202.5,123.8 207.2,126.2 210,128C212.8,129.8 215.8,132.1 218,134C220.2,135.9 222.6,138.7 223.5,139.6" fill="none" stroke="#0a6aff" stroke-width="5.2" stroke-linecap="round" stroke-dasharray="0 5.72" stroke-opacity="0.9"/><path d="M188,117C190,117.2 195.5,117.7 200,118C204.5,118.3 209.8,118.8 215,119C220.2,119.2 226.5,119.8 231.5,119.5C236.5,119.2 241.9,118.2 245,117C248.1,115.8 249.2,112.8 250,112" fill="none" stroke="#0a6aff" stroke-width="3.6" stroke-linecap="round" stroke-dasharray="0 3.96" stroke-opacity="0.85"/><path d="M188,117C190,117.2 195.5,117.7 200,118C204.5,118.3 209.8,118.8 215,119C220.2,119.2 226.5,119.8 231.5,119.5C236.5,119.2 241.9,118.2 245,117C248.1,115.8 249.2,112.8 250,112" fill="none" stroke="#f9b23f" stroke-width="1.6" stroke-linecap="round" stroke-dasharray="0 3.96" stroke-opacity="0.85"/><path d="M190,94.6C191.7,94.8 197.1,95 200,95.5C202.9,96 206.2,97.4 207.5,97.8" fill="none" stroke="#0a6aff" stroke-width="4.8" stroke-linecap="round" stroke-dasharray="0 5.28"/><path d="M188,106C189,106.2 192.1,106.5 194,107C195.9,107.5 198.5,108.7 199.4,109" fill="none" stroke="#0a6aff" stroke-width="4.8" stroke-linecap="round" stroke-dasharray="0 5.28"/><path d="M60.2,186.5 L63.2,186.2 L67.3,185.8 L72,185.3 L77.4,184.8 L83.1,184.3 L88.9,183.7 L94.6,183.3 L100.1,183 L105.6,182.7 L111.5,182.5 L117.5,182.3 L123.5,182.1 L129.4,182 L135,182.1 L140.2,182.2 L144.8,182.5 L148.8,182.9 L152.4,183.5 L155.6,184.1 L158.5,184.9 L161.2,185.8 L163.8,186.7 L166.3,187.7 L168.8,188.8 L171.2,189.9 L173.3,191.2 L175.3,192.6 L177.2,194.1 L179.1,195.6 L181,197.2 L182.8,198.8 L184.7,200.3 L186.5,201.6 L188.3,202.8 L190,204.1 L191.6,205.3 L193.2,206.5 L194.7,207.7 L196,208.8 L197.3,210 L198.5,211 L199.5,212 L200.5,212.9 L201.4,213.9 L202.4,214.9 L203.3,216 L204.3,217.1 L205.3,218.2 L206.4,219.4 L207.4,220.6 L208.5,221.9 L209.6,223.1 L210.6,224.4 L211.7,225.6 L212.7,226.8 L213.7,227.9 L214.7,228.9 L215.7,229.9 L216.7,230.9 L217.6,231.8 L218.5,232.6 L219.3,233.3 L219.9,233.9 L220.5,234.3 L223.5,231.7 L223.2,231.1 L222.7,230.3 L222.1,229.5 L221.4,228.5 L220.7,227.4 L219.9,226.3 L219.1,225.2 L218.3,224.1 L217.5,223 L216.6,221.7 L215.7,220.5 L214.7,219.1 L213.7,217.8 L212.7,216.4 L211.7,215 L210.7,213.8 L209.8,212.6 L208.9,211.4 L208.1,210.3 L207.2,209.1 L206.2,207.9 L205.2,206.6 L204,205.3 L202.7,204 L201.2,202.8 L199.7,201.5 L198.1,200.2 L196.5,198.9 L194.8,197.7 L193,196.4 L191.2,195 L189.3,193.7 L187.4,192.5 L185.5,191.2 L183.4,189.8 L181.3,188.4 L179,187 L176.5,185.6 L173.9,184.3 L171.2,183.2 L168.5,182.2 L165.7,181.3 L162.9,180.4 L160,179.6 L156.7,178.9 L153.3,178.3 L149.4,177.8 L145.2,177.5 L140.4,177.3 L135,177.3 L129.3,177.4 L123.4,177.6 L117.3,177.9 L111.3,178.3 L105.4,178.6 L99.9,179 L94.3,179.5 L88.5,180 L82.7,180.7 L77,181.3 L71.7,182 L66.9,182.6 L62.9,183.1 L59.8,183.5Z" fill="#f06b60"/><path d="M63,211C69.2,210.2 89.2,207.3 100,206C110.8,204.7 123,203.8 127.6,203.3" fill="none" stroke="#0a6aff" stroke-width="3.6" stroke-linecap="round" stroke-dasharray="0 3.96"/><path d="M63,211C69.2,210.2 89.2,207.3 100,206C110.8,204.7 123,203.8 127.6,203.3" fill="none" stroke="#f9b23f" stroke-width="1.6" stroke-linecap="round" stroke-dasharray="0 3.96"/><path d="M132.8,196.8C138.4,197.2 157.8,197.9 166.4,199.4C175,200.9 181.4,204.7 184.4,205.8" fill="none" stroke="#0a6aff" stroke-width="4" stroke-linecap="round" stroke-dasharray="0 4.4"/><path d="M160,210L170,207" fill="none" stroke="#0a6aff" stroke-width="4.4" stroke-linecap="round" stroke-dasharray="0 4.84"/><path d="M169,217.5C171.7,218.2 180.3,220.1 185,222C189.7,223.9 193.6,226.7 197.4,229C201.2,231.3 206,234.5 207.7,235.6" fill="none" stroke="#0a6aff" stroke-width="6.4" stroke-linecap="round" stroke-dasharray="0 7.04"/><path d="M255,236.9C258.2,234.5 267.4,227.7 274.5,222.6C281.6,217.5 291.8,211.3 297.7,206.6C303.6,201.8 305.9,198.5 310,194.1C314.1,189.7 318.9,183.5 322.6,179.9C326.3,176.3 330.8,173.9 332.4,172.7" fill="none" stroke="#0a6aff" stroke-width="6" stroke-linecap="round" stroke-dasharray="0 6.6"/><path d="M255,236.9C258.2,234.5 267.4,227.7 274.5,222.6C281.6,217.5 291.8,211.3 297.7,206.6C303.6,201.8 305.9,198.5 310,194.1C314.1,189.7 318.9,183.5 322.6,179.9C326.3,176.3 330.8,173.9 332.4,172.7" fill="none" stroke="#f06b60" stroke-width="1.4" stroke-linecap="round" stroke-dasharray="0 6.6"/><path d="M251.4,228C255.2,225.3 266.2,216.4 274.5,211.9C282.8,207.4 296.8,203 301.2,201.2" fill="none" stroke="#f06b60" stroke-width="4.8" stroke-linecap="round" stroke-dasharray="0 5.28"/><path d="M315.5,212.8L329.7,210.1" fill="none" stroke="#f06b60" stroke-width="3.2" stroke-linecap="round" stroke-dasharray="0 3.52"/><path d="M329.7,220L352,229.7" fill="none" stroke="#0a6aff" stroke-width="3.6" stroke-linecap="round" stroke-dasharray="0 3.96"/><path d="M329.7,220L352,229.7" fill="none" stroke="#f06b60" stroke-width="1.6" stroke-linecap="round" stroke-dasharray="0 3.96"/><path d="M60.5,263.9 L64,263.2 L68.6,262.2 L74.2,260.9 L80.3,259.6 L86.7,258.2 L93.1,256.9 L99.1,255.8 L104.5,255 L109.3,254.5 L114.1,254.1 L118.7,253.9 L123.3,253.9 L127.7,253.9 L132,253.9 L136.1,254 L140.1,254 L143.7,253.9 L146.9,253.8 L149.8,253.7 L152.6,253.7 L155.5,253.7 L158.5,253.8 L161.9,253.9 L165.9,254 L170.5,254.1 L175.7,254.2 L181.4,254.4 L187.2,254.6 L192.9,254.9 L198.4,255.2 L203.3,255.5 L207.5,256 L211,256.4 L214.1,256.9 L216.9,257.5 L219.4,258.2 L221.7,258.9 L223.7,259.5 L225.6,260.1 L227.2,260.6 L228.5,261.1 L229.3,261.4 L229.8,261.6 L230.1,261.7 L230.3,261.9 L230.5,262.1 L230.9,262.4 L231.3,262.7 L232.7,261.3 L232.7,261.1 L232.8,260.9 L232.7,260.5 L232.4,259.9 L231.9,259.1 L231.2,258.4 L230.1,257.7 L228.8,257 L227.3,256.1 L225.6,255.2 L223.6,254.1 L221.3,253 L218.7,251.9 L215.7,250.9 L212.3,249.9 L208.5,249 L204.1,248.4 L199,247.9 L193.4,247.5 L187.6,247.1 L181.7,246.8 L176,246.5 L170.8,246.2 L166.1,246 L162.2,245.9 L158.7,245.8 L155.6,245.7 L152.6,245.7 L149.7,245.7 L146.7,245.8 L143.5,245.9 L139.9,246 L136,246.2 L131.8,246.4 L127.5,246.6 L123,246.9 L118.3,247.2 L113.5,247.7 L108.6,248.2 L103.5,249 L98,250.1 L92,251.5 L85.6,253 L79.2,254.7 L73.1,256.3 L67.5,257.8 L62.9,259.1 L59.5,260.1Z" fill="#f06b60"/><path d="M124,237C125.3,237.2 129.5,237.5 132,238C134.5,238.5 137.8,239.7 139,240" fill="none" stroke="#0a6aff" stroke-width="4" stroke-linecap="round" stroke-dasharray="0 4.4"/><path d="M60,282C69.1,281.4 99.1,279.7 114.7,278.2C130.3,276.7 143.9,272.4 153.4,273C162.9,273.6 165.9,281.6 171.5,282C177.1,282.4 181,278.4 187,275.6C193,272.8 200.4,267.2 207.7,265.3C215,263.4 223.9,263.7 231,264C238.1,264.3 243.5,266 250,267C256.5,268 266.7,269.5 270,270" fill="none" stroke="#0a6aff" stroke-width="6.8" stroke-linecap="round" stroke-dasharray="0 7.48"/><path d="M231,266C234.2,266.3 244.3,266.7 250,268C255.7,269.3 260,273 265,274C270,275 275,274.9 280,274C285,273.1 289.2,271.5 295,268.5C300.8,265.5 308.8,260.1 315,256C321.2,251.9 326.6,247.9 332,244C337.4,240.1 345,234.5 347.6,232.6" fill="none" stroke="#0a6aff" stroke-width="5.6" stroke-linecap="round" stroke-dasharray="0 6.16"/><path d="M295,271C298.3,272.8 309,278.8 315,282C321,285.2 328.3,288.7 331,290" fill="none" stroke="#f06b60" stroke-width="3.6" stroke-linecap="round" stroke-dasharray="0 3.96"/><path d="M295,271C298.3,272.8 309,278.8 315,282C321,285.2 328.3,288.7 331,290" fill="none" stroke="#0a6aff" stroke-width="1.6" stroke-linecap="round" stroke-dasharray="0 3.96"/><path d="M231,265C235.8,266.7 251.5,270.8 260,275C268.5,279.2 274.8,285.3 282,290C289.2,294.7 295,300.5 303,303C311,305.5 322.3,305 330,305C337.7,305 345.8,303.3 349,303" fill="none" stroke="#0a6aff" stroke-width="4" stroke-linecap="round" stroke-dasharray="0 4.4" stroke-opacity="0.9"/><path d="M231,265C235.8,266.7 251.5,270.8 260,275C268.5,279.2 274.8,285.3 282,290C289.2,294.7 295,300.5 303,303C311,305.5 322.3,305 330,305C337.7,305 345.8,303.3 349,303" fill="none" stroke="#f06b60" stroke-width="1.6" stroke-linecap="round" stroke-dasharray="0 4.4" stroke-opacity="0.9"/><path d="M60,314.5 L63.1,314.7 L67.4,314.9 L72.5,315.2 L78.1,315.4 L83.9,315.7 L89.7,316 L95.1,316.2 L99.9,316.5 L104.1,316.8 L107.9,317.1 L111.6,317.5 L115.1,317.8 L118.7,318.1 L122.3,318.4 L126.1,318.5 L130.2,318.5 L134.4,318.3 L138.9,318.1 L143.5,317.8 L148.1,317.3 L152.8,316.8 L157.4,316.2 L161.8,315.5 L165.9,314.7 L169.9,313.7 L173.8,312.5 L177.6,311.2 L181.1,309.8 L184.5,308.4 L187.7,307 L190.7,305.6 L193.4,304.3 L195.9,302.7 L198.1,301.1 L200,299.4 L201.7,297.8 L203.2,296.3 L204.6,294.9 L205.8,293.5 L207,292.3 L208.1,291.1 L209.2,290 L210.1,288.9 L210.9,287.9 L211.7,287 L212.4,286 L213.1,285.1 L213.8,284.1 L214.5,283.1 L215.3,282 L216.1,281 L216.8,279.9 L217.4,278.9 L218,278 L218.4,277.2 L218.8,276.6 L217.2,275.4 L216.7,275.8 L216,276.4 L215.3,277.2 L214.4,278 L213.6,278.9 L212.6,279.8 L211.7,280.6 L210.8,281.5 L209.9,282.2 L209.1,283 L208.2,283.7 L207.4,284.4 L206.4,285.2 L205.4,286 L204.3,286.8 L203,287.7 L201.6,288.7 L200.1,289.8 L198.5,290.9 L197,292 L195.3,293.1 L193.4,294.2 L191.4,295.3 L189.2,296.3 L186.7,297.7 L183.9,299.1 L181,300.6 L177.8,302 L174.6,303.4 L171.2,304.7 L167.7,305.9 L164.1,306.9 L160.3,307.8 L156.1,308.6 L151.8,309.3 L147.3,309.9 L142.8,310.4 L138.3,310.8 L134,311.2 L129.8,311.5 L126,311.7 L122.4,311.9 L119,311.9 L115.5,311.8 L111.9,311.7 L108.2,311.6 L104.3,311.5 L100.1,311.5 L95.3,311.5 L89.8,311.5 L84,311.5 L78.2,311.4 L72.6,311.4 L67.5,311.4 L63.2,311.5 L60,311.5Z" fill="#f06b60"/><path d="M130,316C136.7,315.9 158.3,315.7 170,315.5C181.7,315.3 189.8,315.1 200,315C210.2,314.9 222.7,315 231,315C239.3,315 244.8,314.7 250,315.2C255.2,315.7 260,317.5 262,318" fill="none" stroke="#f06b60" stroke-width="5.2" stroke-linecap="round" stroke-dasharray="0 5.72" stroke-opacity="0.85"/><path d="M198,315C203.5,315 220.7,314.8 231,315C241.3,315.2 255.2,315.8 260,316" fill="none" stroke="#f06b60" stroke-width="4.4" stroke-linecap="round" stroke-dasharray="0 4.84" stroke-opacity="0.8"/><path d="M64,333C69.2,332.6 84,330.2 95,330.5C106,330.8 119.8,334.3 130,334.9C140.2,335.5 147.5,335.6 156.3,334C165.1,332.4 178.2,326.8 182.6,325.3" fill="none" stroke="#0a6aff" stroke-width="6.8" stroke-linecap="round" stroke-dasharray="0 7.48"/><path d="M130,324.8C131.8,325.4 136.4,329.5 140.5,328.3C144.6,327.1 150.4,321.6 154.5,317.8C158.6,314 163.2,307.6 165,305.5" fill="none" stroke="#0a6aff" stroke-width="6" stroke-linecap="round" stroke-dasharray="0 6.6"/><path d="M189.6,317L203.6,315.2" fill="none" stroke="#0a6aff" stroke-width="4" stroke-linecap="round" stroke-dasharray="0 4.4"/><path d="M250,340C253.3,341.7 261.7,346.7 270,350C278.3,353.3 290,356.3 300,360C310,363.7 321.8,369.5 330,372C338.2,374.5 345.8,374.5 349,375" fill="none" stroke="#0a6aff" stroke-width="4.8" stroke-linecap="round" stroke-dasharray="0 5.28"/><path d="M250,340C253.3,341.7 261.7,346.7 270,350C278.3,353.3 290,356.3 300,360C310,363.7 321.8,369.5 330,372C338.2,374.5 345.8,374.5 349,375" fill="none" stroke="#f06b60" stroke-width="1.6" stroke-linecap="round" stroke-dasharray="0 5.28"/><path d="M240,350C243.3,350.8 253.3,352.5 260,355C266.7,357.5 273.3,362.5 280,365C286.7,367.5 296.7,369.2 300,370" fill="none" stroke="#f06b60" stroke-width="3.6" stroke-linecap="round" stroke-dasharray="0 3.96" stroke-opacity="0.8"/><path d="M60,73C64.7,74.8 79.7,80.5 88,84C96.3,87.5 101.3,90.3 110,94C118.7,97.7 129.7,103.4 140,105.9C150.3,108.4 164.1,107.2 172.1,109.1C180.1,111 183.4,114.7 188.2,117.1C193,119.5 197,121.3 201,123.5C205,125.7 208.6,128.4 212.3,130C216.1,131.6 220.3,132.4 223.5,133.2C226.7,134 227.1,134.2 231.5,134.8C235.9,135.4 245.6,136 250,137C254.4,138 255.4,138.8 258,141C260.6,143.2 262.8,147.2 265.6,150C268.4,152.8 271.7,154.7 274.7,158C277.7,161.3 280.8,166.8 283.4,170C286,173.2 287.4,173.7 290.5,177C293.6,180.3 298.6,186 301.8,190C305.1,194 307.4,197.5 310,201C312.6,204.5 314.7,207 317.7,211C320.7,215 324.8,220.5 328,225C331.2,229.5 334.2,233.7 337,238C339.8,242.3 342.7,247 345,251C347.3,255 350,258.5 351,262C352,265.5 352.7,268.3 351,272C349.3,275.7 344.5,280.2 341,284C337.5,287.8 333.8,291.5 330,295C326.2,298.5 322.5,301.8 318,305C313.5,308.2 309,310.7 303,314C297,317.3 287.5,321.1 282,325C276.5,328.9 275.7,335.4 270,337.3C264.3,339.2 253.4,335.8 248,336.4C242.6,337 240.5,339.8 237.6,340.8C234.7,341.8 233.5,342 230.6,342.6C227.7,343.2 223.8,343.1 220,344.3C216.2,345.5 211.1,347.7 207.8,350C204.5,352.3 202.5,355.2 200,358C197.5,360.8 195.3,364.5 193,367C190.7,369.5 188,372.8 186,373C184,373.2 181.8,368.8 181,368 L181,360C181.8,358.3 183.6,353.5 186,350C188.4,346.5 191.9,342.8 195.5,339C199.1,335.2 203.7,330.1 207.8,327C211.9,323.9 216.2,321.9 220,320.7C223.8,319.5 227.7,319.2 230.6,319.8C233.5,320.4 234.7,323.2 237.6,324.2C240.5,325.2 244.1,326 248,326C251.9,326 255.3,326.2 261,324C266.7,321.8 275,317.2 282,313C289,308.8 296.2,304.2 303,299C309.8,293.8 318,286.7 323,282C328,277.3 330.3,274.2 333,271C335.7,267.8 338.8,266 339,263C339.2,260 336.2,256.2 334,253C331.8,249.8 328.5,247.3 326,244C323.5,240.7 322,237.5 319,233.3C316,229.1 311.6,223.8 308,219C304.4,214.2 301.4,209.1 297.7,204.8C294,200.5 289.9,196.6 286,193C282.1,189.4 278.5,187.1 274.5,183.4C270.5,179.7 266.4,174.6 262,171C257.6,167.4 250.7,164.3 247.8,162C244.9,159.7 247.1,158.6 244.4,157C241.7,155.4 235.5,153.4 231.5,152.4C227.5,151.4 224.9,151.6 220.3,150.8C215.8,150 209.5,148.9 204.2,147.6C198.8,146.3 193.5,144.7 188.2,142.8C182.8,140.9 177.5,138.5 172.1,136.4C166.7,134.3 161.3,131.9 156,130C150.7,128.1 145.8,126.3 140,125.1C134.2,123.8 129.3,124.3 121,122.5C112.7,120.7 100.2,116.4 90,114C79.8,111.6 65,109.2 60,108.2Z" fill="#f06b60"/><path d="M54.3,335.5 L55.3,336.1 L56.6,336.8 L58.1,337.6 L59.7,338.5 L61.4,339.4 L63,340.4 L64.4,341.3 L65.6,342.1 L66.6,342.8 L67.6,343.6 L68.7,344.4 L69.8,345.4 L71,346.5 L72.3,347.7 L73.8,349 L75.5,350.4 L77.3,351.8 L79.3,353.2 L81.3,354.7 L83.4,356.2 L85.4,357.7 L87.3,359.1 L89.1,360.5 L90.6,361.8 L92.1,362.9 L93.5,364.1 L94.8,365.3 L96.1,366.5 L97.4,367.7 L98.7,369 L100,370.2 L101.3,371.3 L102.3,372.3 L103.3,373.2 L104.3,374.1 L105.3,375.1 L106.4,376.2 L107.7,377.2 L109.1,378.1 L110.7,379 L112.2,379.7 L113.7,380.3 L115.3,380.8 L116.9,381.2 L118.6,381.6 L120.4,381.9 L122.4,382.2 L124.6,382.5 L127,382.8 L129.7,383.2 L132.7,383.5 L135.8,383.8 L138.9,384 L142,384.2 L145,384.2 L147.8,384 L150.5,383.6 L153.2,382.9 L155.8,382.2 L158.3,381.3 L160.6,380.4 L162.6,379.6 L164.2,378.9 L165.5,378.4 L164.5,375.6 L163.2,376 L161.4,376.5 L159.4,377.2 L157.1,378 L154.7,378.7 L152.3,379.3 L149.8,379.8 L147.4,380 L144.9,380 L142.2,379.9 L139.2,379.7 L136.2,379.3 L133.3,378.9 L130.4,378.5 L127.8,378 L125.4,377.5 L123.4,377 L121.7,376.6 L120.1,376 L118.7,375.5 L117.5,375 L116.4,374.4 L115.3,373.7 L114.3,373 L113.6,372.3 L113,371.5 L112.4,370.7 L111.9,369.8 L111.3,368.7 L110.6,367.4 L109.7,366.1 L108.7,364.7 L107.8,363.4 L106.9,362 L105.9,360.5 L104.8,359 L103.7,357.4 L102.4,355.7 L101,354 L99.4,352.2 L97.6,350.5 L95.7,348.9 L93.6,347.2 L91.6,345.5 L89.6,343.9 L87.7,342.4 L86,340.9 L84.5,339.6 L83.2,338.5 L82.1,337.3 L81,336.2 L79.9,335 L78.7,333.8 L77.4,332.5 L76,331.2 L74.4,329.9 L72.6,328.7 L70.8,327.5 L68.9,326.4 L67,325.4 L65.3,324.4 L63.8,323.6 L62.6,323 L61.7,322.5Z" fill="#f06b60"/><path d="M186,368C185,368.8 182.3,371.2 180,373C177.7,374.8 175.1,376.2 172,379C168.9,381.8 164.8,386.5 161.6,390C158.4,393.5 154.3,398.3 152.8,400" fill="none" stroke="#f06b60" stroke-width="6.4" stroke-linecap="round" stroke-dasharray="0 7.04"/><path d="M105.5,369.3 L107.4,369.4 L110,369.5 L113.2,369.6 L116.6,369.8 L120.2,369.9 L123.8,369.9 L127.2,369.9 L130.2,369.8 L132.8,369.6 L135.1,369.4 L137.4,369.2 L139.5,368.9 L141.7,368.5 L143.9,368 L146.2,367.4 L148.6,366.6 L151.2,365.7 L153.9,364.6 L156.7,363.4 L159.6,362.1 L162.4,360.7 L165.2,359.3 L167.9,357.8 L170.5,356.2 L173,354.6 L175.5,352.9 L178,351.1 L180.3,349.3 L182.6,347.5 L184.8,345.7 L186.8,343.9 L188.8,342.2 L190.5,340.4 L192.2,338.7 L193.7,336.9 L195.1,335.2 L196.4,333.6 L197.6,332.1 L198.7,330.8 L199.7,329.5 L200.6,328.3 L201.4,327 L202.1,325.9 L202.8,324.8 L203.3,323.9 L203.8,323.1 L204.1,322.4 L204.4,321.8 L199.6,318.2 L199.1,318.6 L198.5,319.2 L197.9,319.9 L197.2,320.6 L196.4,321.5 L195.5,322.4 L194.5,323.4 L193.5,324.5 L192.4,325.8 L191.3,327.2 L190.2,328.7 L189,330.2 L187.7,331.7 L186.3,333.3 L184.8,334.8 L183.2,336.4 L181.5,338.1 L179.6,339.9 L177.7,341.7 L175.6,343.5 L173.4,345.3 L171.2,347.1 L169,348.8 L166.7,350.4 L164.4,351.9 L161.9,353.4 L159.3,354.9 L156.7,356.3 L154,357.6 L151.4,358.9 L148.9,360 L146.6,361 L144.4,361.8 L142.3,362.5 L140.4,363 L138.5,363.5 L136.6,363.9 L134.5,364.2 L132.3,364.5 L129.8,364.8 L127,365 L123.8,365.2 L120.3,365.2 L116.7,365.3 L113.2,365.3 L110.1,365.3 L107.5,365.3 L105.5,365.3Z" fill="#f06b60"/><path d="M189.6,377.8C191.3,375.8 195.8,369 200,365.5C204.2,362 212.5,358.2 215,356.8" fill="none" stroke="#f06b60" stroke-width="6" stroke-linecap="round" stroke-dasharray="0 6.6" stroke-opacity="0.85"/><path d="M137,360.3C138.5,359.4 143.2,355.4 145.8,355C148.4,354.6 149.6,355.4 152.8,357.7C156,360 162.1,366.5 165,369C167.9,371.5 169.4,372 170.3,372.6" fill="none" stroke="#f06b60" stroke-width="3.6" stroke-linecap="round" stroke-dasharray="0 3.96"/><path d="M104,341C105,342.2 109.8,345.4 110,348C110.2,350.6 106.2,355.3 105.5,356.8" fill="none" stroke="#0a6aff" stroke-width="4" stroke-linecap="round" stroke-dasharray="0 4.4"/><path d="M104.7,358.4C106.4,357 111.5,352.6 115,350C118.5,347.4 123.9,343.8 125.7,342.6" fill="none" stroke="#0a6aff" stroke-width="4" stroke-linecap="round" stroke-dasharray="0 4.4"/><path d="M64,390C65.8,390.2 71.3,390.8 75,391C78.7,391.2 83,391.2 86.3,391C89.6,390.8 93.5,390.2 95,390" fill="none" stroke="#0a6aff" stroke-width="5.2" stroke-linecap="round" stroke-dasharray="0 5.72"/><path d="M112,380C115,380.2 124.1,380.9 130,381.3C135.9,381.7 141.8,382.9 147.6,382.2C153.4,381.5 162.1,377.9 165,377" fill="none" stroke="#0a6aff" stroke-width="4" stroke-linecap="round" stroke-dasharray="0 4.4"/><path d="M112,380C115,380.2 124.1,380.9 130,381.3C135.9,381.7 141.8,382.9 147.6,382.2C153.4,381.5 162.1,377.9 165,377" fill="none" stroke="#f06b60" stroke-width="1.4" stroke-linecap="round" stroke-dasharray="0 4.4"/><path d="M80,365C81,366.1 83,367.3 86.3,371.5C89.6,375.7 95.6,384.3 100,390C104.4,395.7 108.2,400.4 112.5,405.7C116.8,410.9 122.5,417.1 125.7,421.5C128.9,425.9 130.9,430.2 132,432" fill="none" stroke="#f06b60" stroke-width="4" stroke-linecap="round" stroke-dasharray="0 4.4"/><path d="M104.7,418.8C107.2,419.8 114.3,423 120,425C125.7,427 135.7,429.7 138.8,430.6" fill="none" stroke="#0a6aff" stroke-width="4" stroke-linecap="round" stroke-dasharray="0 4.4"/><path d="M104.7,418.8C107.2,419.8 114.3,423 120,425C125.7,427 135.7,429.7 138.8,430.6" fill="none" stroke="#f06b60" stroke-width="1.6" stroke-linecap="round" stroke-dasharray="0 4.4"/><path d="M146.7,400.4C149.8,398.7 158.4,393.5 165,390C171.6,386.5 180.2,382.7 186,379.4C191.8,376.1 194.7,373.3 200,370C205.3,366.7 212.5,362.1 217.6,359.7C222.7,357.3 228.6,356.4 230.8,355.8" fill="none" stroke="#f06b60" stroke-width="3.6" stroke-linecap="round" stroke-dasharray="0 3.96"/><path d="M175.6,376.8C179.1,377.2 190.9,380.5 196.6,379.4C202.3,378.3 206.5,373.1 210,370C213.5,366.9 216.3,362.5 217.6,361" fill="none" stroke="#f06b60" stroke-width="3.2" stroke-linecap="round" stroke-dasharray="0 3.52"/><path d="M160,416C162.5,414.2 170,408.3 175,405C180,401.7 185,398.5 190,396C195,393.5 202.5,391 205,390" fill="none" stroke="#f06b60" stroke-width="2.8" stroke-linecap="round" stroke-dasharray="0 3.08"/><path d="M160,416C162.5,414.2 170,408.3 175,405C180,401.7 185,398.5 190,396C195,393.5 202.5,391 205,390" fill="none" stroke="#0a6aff" stroke-width="1.2" stroke-linecap="round" stroke-dasharray="0 3.08"/><path d="M64,400C66.7,400.3 74.8,401.2 80,402C85.2,402.8 92.5,404.5 95,405" fill="none" stroke="#f06b60" stroke-width="3.2" stroke-linecap="round" stroke-dasharray="0 3.52"/><path d="M70,420C72.5,420.7 80,422.7 85,424C90,425.3 97.5,427.3 100,428" fill="none" stroke="#0a6aff" stroke-width="3.2" stroke-linecap="round" stroke-dasharray="0 3.52"/><path d="M70,420C72.5,420.7 80,422.7 85,424C90,425.3 97.5,427.3 100,428" fill="none" stroke="#f06b60" stroke-width="1.6" stroke-linecap="round" stroke-dasharray="0 3.52"/><path d="M225,314C229.6,314.6 246.9,316.2 252.8,317.8C258.7,319.4 259,322.5 260.2,323.4" fill="none" stroke="#f06b60" stroke-width="5.2" stroke-linecap="round" stroke-dasharray="0 5.72" stroke-opacity="0.85"/><path d="M284.3,329C288.3,330.5 301.3,335.4 308.4,338.2C315.5,341 320.8,344.1 327,345.6C333.2,347.2 341.3,347.3 345.5,347.5C349.7,347.7 350.9,347.1 352,347" fill="none" stroke="#0a6aff" stroke-width="6" stroke-linecap="round" stroke-dasharray="0 6.6"/><path d="M284.3,329C288.3,330.5 301.3,335.4 308.4,338.2C315.5,341 320.8,344.1 327,345.6C333.2,347.2 341.3,347.3 345.5,347.5C349.7,347.7 350.9,347.1 352,347" fill="none" stroke="#f06b60" stroke-width="1.6" stroke-linecap="round" stroke-dasharray="0 6.6"/><path d="M256.5,299.3C259,302.4 266.7,308.9 271.3,317.8C275.9,326.8 279.7,348.1 284.3,353C288.9,357.9 294.2,350.3 299.2,347.5C304.1,344.7 311.5,338.2 314,336.3" fill="none" stroke="#f06b60" stroke-width="3.6" stroke-linecap="round" stroke-dasharray="0 3.96"/><path d="M256.5,299.3C259,302.4 266.7,308.9 271.3,317.8C275.9,326.8 279.7,348.1 284.3,353C288.9,357.9 294.2,350.3 299.2,347.5C304.1,344.7 311.5,338.2 314,336.3" fill="none" stroke="#0a6aff" stroke-width="1.2" stroke-linecap="round" stroke-dasharray="0 3.96"/><path d="M225,360.4C229,360.4 243.2,359.5 249,360.4C254.8,361.3 256.3,363.8 260,366C263.7,368.2 269.4,372.2 271.3,373.4" fill="none" stroke="#f06b60" stroke-width="5.2" stroke-linecap="round" stroke-dasharray="0 5.72" stroke-opacity="0.85"/><path d="M225,367.9C228.1,368.8 236.7,370.9 243.5,373.4C250.3,375.9 262.1,381.1 265.8,382.7" fill="none" stroke="#0a6aff" stroke-width="4" stroke-linecap="round" stroke-dasharray="0 4.4"/><path d="M225,367.9C228.1,368.8 236.7,370.9 243.5,373.4C250.3,375.9 262.1,381.1 265.8,382.7" fill="none" stroke="#f06b60" stroke-width="1.6" stroke-linecap="round" stroke-dasharray="0 4.4"/><path d="M262,351.2C264.2,354 270.4,362.6 275,367.9C279.6,373.1 284.3,379 289.9,382.7C295.5,386.4 303.1,388.8 308.4,390C313.6,391.2 319.2,390 321.4,390" fill="none" stroke="#0a6aff" stroke-width="5.6" stroke-linecap="round" stroke-dasharray="0 6.16"/><path d="M262,351.2C264.2,354 270.4,362.6 275,367.9C279.6,373.1 284.3,379 289.9,382.7C295.5,386.4 303.1,388.8 308.4,390C313.6,391.2 319.2,390 321.4,390" fill="none" stroke="#f06b60" stroke-width="1.6" stroke-linecap="round" stroke-dasharray="0 6.16"/><path d="M280.6,367.9C283.7,371.6 293.6,384.4 299.2,390C304.8,395.6 309.4,399 314,401.2C318.6,403.4 322.7,403.5 327,403C331.3,402.5 335.8,400 340,398C344.2,396 350,392.2 352,391" fill="none" stroke="#f06b60" stroke-width="4.4" stroke-linecap="round" stroke-dasharray="0 4.84" stroke-opacity="0.9"/><path d="M282.5,418C285.3,418 293.3,419.9 299.2,418C305.1,416.1 311.5,410.8 317.7,406.8C323.9,402.8 330.5,396.6 336.2,393.8C341.9,391 349.4,390.6 352,390" fill="none" stroke="#0a6aff" stroke-width="4" stroke-linecap="round" stroke-dasharray="0 4.4"/><path d="M282.5,418C285.3,418 293.3,419.9 299.2,418C305.1,416.1 311.5,410.8 317.7,406.8C323.9,402.8 330.5,396.6 336.2,393.8C341.9,391 349.4,390.6 352,390" fill="none" stroke="#f06b60" stroke-width="1.6" stroke-linecap="round" stroke-dasharray="0 4.4"/><path d="M328.8,391L352,392" fill="none" stroke="#f06b60" stroke-width="4" stroke-linecap="round" stroke-dasharray="0 4.4"/><path d="M267.6,395.7C269.8,398.2 276.9,405.6 280.6,410.5C284.3,415.4 286.8,421.3 289.9,425.3C293,429.3 297.6,433.1 299.2,434.6" fill="none" stroke="#f06b60" stroke-width="3.6" stroke-linecap="round" stroke-dasharray="0 3.96"/><path d="M277,410.5C278.5,412.1 282.5,417.3 286.2,419.8C289.9,422.3 297,424.4 299.2,425.3" fill="none" stroke="#0a6aff" stroke-width="3.6" stroke-linecap="round" stroke-dasharray="0 3.96"/><path d="M277,410.5C278.5,412.1 282.5,417.3 286.2,419.8C289.9,422.3 297,424.4 299.2,425.3" fill="none" stroke="#f06b60" stroke-width="1.6" stroke-linecap="round" stroke-dasharray="0 3.96"/><path d="M314,306.7C317.7,305.8 329.9,302.9 336.2,301C342.5,299.1 349.4,296.5 352,295.6" fill="none" stroke="#0a6aff" stroke-width="5.2" stroke-linecap="round" stroke-dasharray="0 5.72"/><path d="M314,306.7C317.7,305.8 329.9,302.9 336.2,301C342.5,299.1 349.4,296.5 352,295.6" fill="none" stroke="#f06b60" stroke-width="1.4" stroke-linecap="round" stroke-dasharray="0 5.72"/><path d="M300,420C303.3,420.8 313.3,423.3 320,425C326.7,426.7 334.7,428.8 340,430C345.3,431.2 350,431.7 352,432" fill="none" stroke="#f06b60" stroke-width="3.2" stroke-linecap="round" stroke-dasharray="0 3.52" stroke-opacity="0.8"/><path d="M157.2,417.9C159.4,415.5 164.8,407.9 170.4,403.6C176,399.4 184.1,394.9 190.9,392.4C197.7,389.8 205.9,388.6 211.3,388.3C216.8,388 220.5,389.3 223.6,390.3C226.7,391.3 227.7,393.7 229.7,394.4C231.7,395.1 232.1,393.9 235.8,394.4C239.6,394.9 247.4,396 252.2,397.5C257,399 260.6,400.5 264.4,403.6C268.1,406.7 272,411.5 274.7,415.9C277.4,420.3 279.6,427.3 280.8,430.2C282,433.1 281.8,432.5 282,433 L282,433C281.8,432.9 282.4,433.7 280.8,432.2C279.2,430.7 276,427.1 272.6,424C269.2,420.9 265.2,416.2 260.4,413.8C255.6,411.4 248.8,410.2 244,409.7C239.2,409.2 235.1,409.9 231.7,410.8C228.3,411.7 227,413.9 223.6,414.9C220.2,415.9 216.8,416.9 211.3,416.9C205.9,416.9 197.7,415.1 190.9,414.9C184.1,414.7 176,415.2 170.4,415.9C164.8,416.6 159.4,418.4 157.2,418.9Z" fill="#0a6aff"/></g><line x1="63.6" y1="233.6" x2="349.8" y2="233.6" stroke="#000" stroke-width="2.2"/><line x1="231.3" y1="33.5" x2="231.3" y2="435.5" stroke="#000" stroke-width="2.6" stroke-dasharray="9.5,4.5"/><rect x="63.6" y="31.5" width="286.2" height="404" fill="none" stroke="#000" stroke-width="2.4"/><g stroke="#000" stroke-width="2.4"><line x1="63.6" y1="435.5" x2="72.6" y2="435.5"/><line x1="349.8" y1="435.5" x2="340.8" y2="435.5"/><line x1="63.6" y1="368.2" x2="72.6" y2="368.2"/><line x1="349.8" y1="368.2" x2="340.8" y2="368.2"/><line x1="63.6" y1="300.9" x2="72.6" y2="300.9"/><line x1="349.8" y1="300.9" x2="340.8" y2="300.9"/><line x1="63.6" y1="233.6" x2="72.6" y2="233.6"/><line x1="349.8" y1="233.6" x2="340.8" y2="233.6"/><line x1="63.6" y1="166.2" x2="72.6" y2="166.2"/><line x1="349.8" y1="166.2" x2="340.8" y2="166.2"/><line x1="63.6" y1="98.9" x2="72.6" y2="98.9"/><line x1="349.8" y1="98.9" x2="340.8" y2="98.9"/><line x1="63.6" y1="31.6" x2="72.6" y2="31.6"/><line x1="349.8" y1="31.6" x2="340.8" y2="31.6"/></g><circle cx="131.3" cy="238.3" r="11.3" fill="none" stroke="#1b2b55" stroke-width="2"/><text x="110.4" y="257.4" font-size="20" font-weight="bold" text-anchor="middle">B</text><circle cx="339.2" cy="266.8" r="11.3" fill="none" stroke="#1b2b55" stroke-width="2"/><text x="316.9" y="271.6" font-size="20" font-weight="bold" text-anchor="middle">A</text><rect x="67.4" y="36.4" width="106.8" height="69.6" rx="4" fill="#fff" stroke="#c9c9c9" stroke-width="2.6"/><circle cx="90.1" cy="47.7" r="8.4" fill="#f9b23f"/><text x="109.2" y="53" font-size="19">Ge-<tspan font-style="italic">s</tspan></text><circle cx="90.1" cy="69" r="8.4" fill="#0a6aff"/><text x="109.2" y="74.3" font-size="19">Ge-<tspan font-style="italic">p</tspan><tspan font-style="italic" font-size="14.5" dy="3.8">z</tspan></text><circle cx="90.1" cy="90.3" r="8.4" fill="#f06b60"/><text x="109.2" y="95.6" font-size="19">Ge-<tspan font-style="italic">p</tspan><tspan font-style="italic" font-size="14.5" dy="3.8">xy</tspan></text><g font-size="19"><text x="53.6" y="442.5" text-anchor="end">−3</text><text x="53.6" y="375.2" text-anchor="end">−2</text><text x="53.6" y="307.9" text-anchor="end">−1</text><text x="53.6" y="240.6" text-anchor="end">0</text><text x="53.6" y="173.2" text-anchor="end">1</text><text x="53.6" y="105.9" text-anchor="end">2</text><text x="53.6" y="38.6" text-anchor="end">3</text></g><g font-size="19"><text x="63.6" y="459.5" text-anchor="middle">M</text><text x="231.3" y="459.5" text-anchor="middle">Γ</text><text x="349.8" y="459.5" text-anchor="middle">X</text><text x="457" y="459.5" text-anchor="middle">0.25</text><text x="551.2" y="459.5" text-anchor="middle">0.5</text><text x="457.5" y="487.6" text-anchor="middle">PDOS (arb. units)</text></g><text transform="translate(15.6,233.4) rotate(-90)" font-size="19" text-anchor="middle"><tspan font-style="italic">E</tspan> − <tspan font-style="italic">E</tspan><tspan font-style="italic" font-size="14.5" dy="3.8">F</tspan><tspan dy="-3.8"> (eV)</tspan></text><g clip-path="url(#clipPa)"><path d="M360.1,28.5 L556,28C556,43.3 573.5,103.3 556,120C538.5,136.7 468.1,125.7 450.9,127.9C433.7,130.1 454.2,131.7 452.6,133.1C451,134.5 444.9,135.4 441.1,136.6C437.3,137.8 430.3,138.8 429.8,140.1C429.3,141.4 435.2,143 437.9,144.5C440.5,146 449.6,147.3 445.6,148.9C441.6,150.5 419.4,152.5 414.1,154.1C408.8,155.7 414.1,157 413.5,158.5C413,160 412.3,161.3 410.6,162.9C408.9,164.5 402.9,166.6 403.5,168.2C404.1,169.8 413.5,171.3 414.1,172.6C414.7,173.8 409.3,174.7 407,175.7C404.6,176.7 400.3,177.7 400,178.8C399.7,179.9 403.6,181.1 405.3,182.3C407.1,183.5 410.4,184.6 410.6,185.8C410.8,187 408.3,188.1 406.7,189.3C405.2,190.5 402.9,191.6 401.5,192.8C400.1,194 398.2,195.2 398.3,196.3C398.4,197.4 400.6,198.4 401.8,199.4C403.1,200.5 404.4,201.5 405.7,202.6C407,203.6 408.7,204.7 409.6,205.7C410.5,206.8 410.1,207.8 411.2,208.9C412.2,209.9 417.5,210.7 415.8,212C414.1,213.3 405.9,214.9 401.2,216.4C396.6,217.9 388.2,219.5 387.8,220.8C387.4,222.1 394.8,223.1 398.9,224.3C403,225.5 414.2,226.4 412.3,227.8C410.4,229.2 390.5,231.5 387.8,233C385.1,234.5 393.6,235.4 396.3,236.5C398.9,237.7 401.2,238.9 403.5,240.1C405.9,241.2 412.1,242.4 410.6,243.6C409.1,244.8 393.4,245.6 394.8,247.1C396.2,248.6 416.9,250.7 419.3,252.3C421.7,253.9 412.2,255.2 409.3,256.7C406.4,258.2 398.7,259.5 401.8,261.1C404.9,262.7 424.6,264.9 428.1,266.4C431.6,267.9 424.8,268.7 422.8,269.9C420.8,271.1 418.5,272.2 416.1,273.4C413.7,274.6 410.9,275.7 408.6,276.9C406.2,278.1 404.1,279.2 401.8,280.4C399.5,281.6 394.8,282.6 394.8,283.9C394.8,285.2 399.1,286.8 401.7,288.2C404.4,289.7 408.3,291.3 410.6,292.6C412.9,293.9 413.6,295.1 415.8,296.3C418,297.5 419.5,298.6 423.7,300C427.9,301.4 435.4,302.9 441.3,304.4C447.1,305.9 455.6,307.5 458.7,308.8C461.8,310.1 458.9,311 459.7,312.1C460.4,313.1 468.4,313.8 463.1,315.3C457.8,316.8 432.6,319.3 428.1,320.8C423.6,322.3 433.2,323 436,324.1C438.8,325.2 441.8,326.3 444.8,327.4C447.9,328.5 453.3,329.6 454.3,330.7C455.3,331.8 451.5,332.7 450.8,333.8C450.1,334.8 450.4,335.8 449.8,336.8C449.3,337.8 448.1,338.9 447.6,339.9C447,340.9 447.2,341.9 446.5,342.9C445.8,344 440.6,344.8 443.4,346C446.2,347.2 458.5,348.9 463.1,350.4C467.7,351.9 468.3,353.3 470.8,354.8C473.4,356.2 477.4,357.8 478.4,359.1C479.4,360.4 477.3,361.5 476.6,362.7C475.9,363.9 474.9,365.2 474.1,366.4C473.3,367.6 473.8,368.8 471.9,370C470,371.2 465.8,372.6 462.5,373.9C459.2,375.1 452.4,376.6 452.2,377.7C452,378.8 458.4,379.7 461.4,380.7C464.4,381.7 466.8,382.7 470.2,383.8C473.5,384.8 478.3,385.8 481.5,386.8C484.7,387.8 491,388.6 489.4,389.8C487.8,391 472.6,392.8 471.9,394.2C471.2,395.6 481.3,396.7 485.3,398C489.4,399.3 495.2,400.7 496,401.8C496.8,402.9 492.5,403.8 490.4,404.8C488.3,405.8 485.9,406.8 483.4,407.9C481,408.9 478,409.9 475.8,410.9C473.5,411.9 469.9,412.8 469.7,413.9C469.5,415 472.9,416.3 474.8,417.5C476.6,418.7 478.7,420 480.8,421.2C482.8,422.4 488.2,423.5 487.2,424.8C486.2,426.1 478.7,427.7 475,429.2C471.4,430.7 467.3,432.1 465.3,433.6C463.3,435.1 463.4,437.3 463,438 L360.1,438.5Z" fill="#e6e6e6"/><path d="M556,28C556,43.3 573.5,103.3 556,120C538.5,136.7 468.1,125.7 450.9,127.9C433.7,130.1 454.2,131.7 452.6,133.1C451,134.5 444.9,135.4 441.1,136.6C437.3,137.8 430.3,138.8 429.8,140.1C429.3,141.4 435.2,143 437.9,144.5C440.5,146 449.6,147.3 445.6,148.9C441.6,150.5 419.4,152.5 414.1,154.1C408.8,155.7 414.1,157 413.5,158.5C413,160 412.3,161.3 410.6,162.9C408.9,164.5 402.9,166.6 403.5,168.2C404.1,169.8 413.5,171.3 414.1,172.6C414.7,173.8 409.3,174.7 407,175.7C404.6,176.7 400.3,177.7 400,178.8C399.7,179.9 403.6,181.1 405.3,182.3C407.1,183.5 410.4,184.6 410.6,185.8C410.8,187 408.3,188.1 406.7,189.3C405.2,190.5 402.9,191.6 401.5,192.8C400.1,194 398.2,195.2 398.3,196.3C398.4,197.4 400.6,198.4 401.8,199.4C403.1,200.5 404.4,201.5 405.7,202.6C407,203.6 408.7,204.7 409.6,205.7C410.5,206.8 410.1,207.8 411.2,208.9C412.2,209.9 417.5,210.7 415.8,212C414.1,213.3 405.9,214.9 401.2,216.4C396.6,217.9 388.2,219.5 387.8,220.8C387.4,222.1 394.8,223.1 398.9,224.3C403,225.5 414.2,226.4 412.3,227.8C410.4,229.2 390.5,231.5 387.8,233C385.1,234.5 393.6,235.4 396.3,236.5C398.9,237.7 401.2,238.9 403.5,240.1C405.9,241.2 412.1,242.4 410.6,243.6C409.1,244.8 393.4,245.6 394.8,247.1C396.2,248.6 416.9,250.7 419.3,252.3C421.7,253.9 412.2,255.2 409.3,256.7C406.4,258.2 398.7,259.5 401.8,261.1C404.9,262.7 424.6,264.9 428.1,266.4C431.6,267.9 424.8,268.7 422.8,269.9C420.8,271.1 418.5,272.2 416.1,273.4C413.7,274.6 410.9,275.7 408.6,276.9C406.2,278.1 404.1,279.2 401.8,280.4C399.5,281.6 394.8,282.6 394.8,283.9C394.8,285.2 399.1,286.8 401.7,288.2C404.4,289.7 408.3,291.3 410.6,292.6C412.9,293.9 413.6,295.1 415.8,296.3C418,297.5 419.5,298.6 423.7,300C427.9,301.4 435.4,302.9 441.3,304.4C447.1,305.9 455.6,307.5 458.7,308.8C461.8,310.1 458.9,311 459.7,312.1C460.4,313.1 468.4,313.8 463.1,315.3C457.8,316.8 432.6,319.3 428.1,320.8C423.6,322.3 433.2,323 436,324.1C438.8,325.2 441.8,326.3 444.8,327.4C447.9,328.5 453.3,329.6 454.3,330.7C455.3,331.8 451.5,332.7 450.8,333.8C450.1,334.8 450.4,335.8 449.8,336.8C449.3,337.8 448.1,338.9 447.6,339.9C447,340.9 447.2,341.9 446.5,342.9C445.8,344 440.6,344.8 443.4,346C446.2,347.2 458.5,348.9 463.1,350.4C467.7,351.9 468.3,353.3 470.8,354.8C473.4,356.2 477.4,357.8 478.4,359.1C479.4,360.4 477.3,361.5 476.6,362.7C475.9,363.9 474.9,365.2 474.1,366.4C473.3,367.6 473.8,368.8 471.9,370C470,371.2 465.8,372.6 462.5,373.9C459.2,375.1 452.4,376.6 452.2,377.7C452,378.8 458.4,379.7 461.4,380.7C464.4,381.7 466.8,382.7 470.2,383.8C473.5,384.8 478.3,385.8 481.5,386.8C484.7,387.8 491,388.6 489.4,389.8C487.8,391 472.6,392.8 471.9,394.2C471.2,395.6 481.3,396.7 485.3,398C489.4,399.3 495.2,400.7 496,401.8C496.8,402.9 492.5,403.8 490.4,404.8C488.3,405.8 485.9,406.8 483.4,407.9C481,408.9 478,409.9 475.8,410.9C473.5,411.9 469.9,412.8 469.7,413.9C469.5,415 472.9,416.3 474.8,417.5C476.6,418.7 478.7,420 480.8,421.2C482.8,422.4 488.2,423.5 487.2,424.8C486.2,426.1 478.7,427.7 475,429.2C471.4,430.7 467.3,432.1 465.3,433.6C463.3,435.1 463.4,437.3 463,438" fill="none" stroke="#808080" stroke-width="3.1" stroke-linejoin="round"/><path d="M379.9,28C380,28.6 380.5,30.3 380.8,31.5C381.1,32.7 381.5,33.8 381.7,35C381.8,36.2 381.7,37.4 381.7,38.5C381.7,39.6 381.8,40.5 381.5,41.5C381.2,42.6 379.3,43.6 379.9,44.6C380.5,45.6 383.9,46.7 385.4,47.7C386.8,48.7 388.3,49.8 388.7,50.8C389.1,51.8 387.9,52.9 387.5,54C387.1,55.1 386.9,56.1 386.2,57.2C385.5,58.3 383.3,59 383.4,60.4C383.5,61.8 386.4,64.2 386.9,65.7C387.4,67.2 386.4,68.3 386.7,69.6C387,70.9 388.2,72.3 388.7,73.5C389.2,74.7 389.5,75.9 389.9,77C390.4,78.2 390.5,79.5 391.3,80.6C392.1,81.7 394.1,82.6 395,83.7C395.8,84.7 397,85.7 396.5,86.7C396,87.7 393.7,88.7 392.1,89.8C390.5,90.8 387.8,91.6 386.9,92.8C386,94 387,95.7 386.6,97.2C386.1,98.7 384.8,100.3 384.3,101.6C383.8,102.9 383.5,103.9 383.6,105.1C383.7,106.3 384.5,107.4 384.7,108.6C384.8,109.8 384.3,110.9 384.4,112.1C384.5,113.3 385.3,114.4 385.2,115.6C385.1,116.8 384.3,117.9 383.8,119.1C383.4,120.3 383,121.4 382.4,122.6C381.9,123.8 381.7,124.8 380.8,126.1C379.9,127.4 377.9,129 377,130.5C376.1,132 375.7,133.6 375.5,134.9C375.3,136.2 375.4,137.2 375.7,138.4C376,139.6 377,140.7 377.3,141.9C377.6,143.1 377.3,144.2 377.6,145.4C377.9,146.6 379.6,147.5 379,148.9C378.4,150.3 374.7,152.7 373.8,154.1C372.9,155.5 373.9,156.4 373.4,157.6C373,158.8 371.5,159.9 371.1,161.1C370.7,162.3 371.5,163.5 371.3,164.6C371.2,165.8 370.8,167 370.3,168.2C369.8,169.4 368.6,170.8 368.4,172.1C368.1,173.4 369,174.8 368.8,176.1C368.6,177.4 367.5,178.8 367,180C366.5,181.2 365.9,182.2 365.9,183.3C365.8,184.4 366.9,185.6 366.8,186.7C366.7,187.8 365.7,188.9 365.4,190C365,191.1 364.6,192.2 364.8,193.3C365,194.4 366.5,195.6 366.6,196.7C366.8,197.8 365.8,198.9 365.5,200C365.2,201.1 365,202.2 365,203.3C364.9,204.4 364.8,205.6 365.2,206.7C365.5,207.8 366.8,208.9 367.2,210C367.5,211.1 367.3,212.2 367.1,213.3C366.8,214.4 365.9,215.6 365.8,216.7C365.7,217.8 366.3,218.9 366.5,220C366.7,221.1 367.4,222.2 367.3,223.3C367.2,224.4 366.2,225.6 366,226.7C365.8,227.8 366.3,228.9 366.1,230C365.8,231.1 364.6,232.2 364.7,233.3C364.7,234.4 366.1,235.6 366.1,236.7C366.2,237.8 364.9,238.9 364.8,240C364.7,241.1 365.2,242.2 365.5,243.3C365.7,244.4 366.2,245.6 366.3,246.7C366.5,247.8 366.5,248.9 366.3,250C366.1,251.1 365.3,252.2 365.1,253.3C365,254.4 365.3,255.6 365.5,256.7C365.6,257.8 366.1,258.9 366,260C365.9,261.1 365.3,262.1 365.1,263.1C364.9,264.1 365,265.1 365,266.2C364.9,267.2 364.6,268.2 364.7,269.2C364.7,270.3 365,271.3 365.2,272.3C365.3,273.3 365.9,274.4 365.8,275.4C365.6,276.4 364.3,277.4 364.3,278.5C364.3,279.5 365.7,280.5 365.8,281.5C365.9,282.6 365.1,283.6 364.9,284.6C364.7,285.6 364.6,286.7 364.7,287.7C364.9,288.7 365.8,289.7 365.8,290.8C365.9,291.8 365.2,292.8 364.9,293.8C364.7,294.9 364.5,295.9 364.5,296.9C364.4,297.9 364.7,299 364.8,300C364.9,301 364.7,302.1 364.8,303.1C364.8,304.1 365.5,305.1 365.3,306.2C365.1,307.2 363.6,308.2 363.8,309.2C363.9,310.3 366,311.3 366,312.3C366,313.3 363.8,314.4 363.7,315.4C363.6,316.4 365.1,317.4 365.4,318.5C365.8,319.5 366,320.5 365.7,321.5C365.4,322.6 363.7,323.6 363.7,324.6C363.7,325.6 365.4,326.7 365.6,327.7C365.7,328.7 364.6,329.7 364.6,330.8C364.5,331.8 365.2,332.8 365.1,333.8C364.9,334.9 363.9,335.9 363.7,336.9C363.5,337.9 363.7,339 363.8,340C363.9,341 363.8,342.1 364.1,343.1C364.5,344.1 366,345.1 366,346.2C366,347.2 364.3,348.2 364.2,349.2C364.1,350.3 365.2,351.3 365.5,352.3C365.8,353.3 365.9,354.4 366,355.4C366,356.4 366.2,357.4 366,358.5C365.8,359.5 364.8,360.5 364.6,361.5C364.3,362.6 364.5,363.6 364.6,364.6C364.7,365.6 364.9,366.7 365,367.7C365.2,368.7 365.8,369.7 365.6,370.8C365.5,371.8 364.1,372.8 364,373.8C364,374.9 365.4,375.9 365.6,376.9C365.7,377.9 364.9,378.9 365,380C365.1,381.1 366,382.3 366.3,383.5C366.7,384.7 367.2,385.8 367.1,387C367,388.2 365.7,389.3 365.8,390.5C365.8,391.7 367.1,392.9 367.5,394C367.9,395.1 368.4,396.1 368,397.2C367.7,398.3 365.9,399.3 365.4,400.4C365,401.5 365.5,402.5 365.5,403.6C365.5,404.7 365.7,405.7 365.6,406.8C365.5,407.9 364.8,408.9 364.8,410C364.8,411.1 365.9,412.1 365.8,413.1C365.7,414.1 364.4,415.2 364.4,416.2C364.4,417.3 365.7,418.3 365.8,419.3C365.9,420.4 365.2,421.4 364.9,422.4C364.7,423.5 364.4,424.5 364.3,425.6C364.3,426.6 364.4,427.6 364.4,428.7C364.3,429.7 364.1,430.7 364,431.8C363.9,432.8 363.7,433.9 363.8,434.9C363.9,435.9 364.6,437.5 364.8,438" fill="none" stroke="#f9b23f" stroke-width="2.9" stroke-linejoin="round"/><path d="M391.3,28C391.2,28.5 391,30.1 390.9,31.1C390.8,32.1 390.7,33.1 390.8,34.1C390.9,35.2 391.5,36.2 391.7,37.2C392,38.2 392.6,38.9 392.2,40.3C391.8,41.7 387.6,43.8 389.5,45.5C391.4,47.2 401.8,49.4 403.5,50.8C405.2,52.2 400.7,52.9 399.5,54C398.2,55.1 397,56.1 396.1,57.2C395.1,58.3 393.2,59.1 393.9,60.4C394.6,61.7 399.6,63.6 400,64.8C400.4,66 396.2,66.3 396.5,67.4C396.8,68.5 399.8,70 401.6,71.3C403.3,72.7 407.1,73.9 407.1,75.3C407.1,76.7 401.9,78.3 401.8,79.7C401.7,81.1 405.4,82.3 406.8,83.7C408.1,85 411.4,86.1 409.7,87.6C408,89.1 399,91.3 396.5,92.8C394,94.2 395.6,95.1 394.9,96.3C394.2,97.5 393.4,98.6 392.5,99.8C391.6,101 390.1,102.1 389.5,103.3C388.9,104.5 388.8,105.6 388.8,106.8C388.8,108 389.6,109.1 389.6,110.3C389.6,111.5 389,112.6 389,113.8C388.9,115 390.3,116.1 389.5,117.3C388.7,118.5 385.8,119.7 384.4,120.8C382.9,122 381.2,123.2 380.8,124.4C380.4,125.6 381.3,126.7 382.1,127.9C382.8,129.1 385.7,130.2 385.2,131.4C384.7,132.6 380.7,133.7 378.8,134.9C376.9,136.1 374.2,137.1 373.8,138.4C373.4,139.7 375.7,141.3 376.1,142.8C376.6,144.2 376.7,145.8 376.4,147.1C376.1,148.4 375.2,149.4 374.1,150.6C373.1,151.8 370.9,152.9 370.3,154.1C369.7,155.3 370.5,156.4 370.4,157.6C370.4,158.8 370.1,159.9 369.8,161.1C369.5,162.3 368.8,163.4 368.5,164.6C368.2,165.8 368.1,167.1 368.2,168.3C368.4,169.5 369.2,170.9 369.4,172C369.6,173.1 369.2,174.1 369.5,175.1C369.7,176.1 370.4,177.2 370.7,178.2C371.1,179.2 371.3,180.3 371.5,181.3C371.8,182.3 372.3,183.4 372.3,184.4C372.4,185.4 371.9,186.5 372,187.5C372.1,188.5 372.9,189.5 372.7,190.6C372.4,191.6 370.7,192.6 370.6,193.7C370.4,194.7 371.5,195.7 371.6,196.7C371.7,197.8 370.9,198.8 371.1,199.8C371.3,200.8 372.2,201.8 372.6,202.9C373,203.9 373.1,204.9 373.3,205.9C373.5,206.9 373.3,207.9 373.6,208.9C374,210 375.6,210.8 375.5,212C375.4,213.2 373.7,214.9 372.8,216.4C372,217.9 369.9,219.2 370.3,220.8C370.7,222.4 375.4,224.6 375.5,226C375.6,227.4 372.2,228.3 371,229.5C369.8,230.7 367.8,231.5 368.5,233C369.2,234.5 374.2,236.8 375.5,238.3C376.8,239.8 376.2,240.6 376.2,241.8C376.3,243 376.1,244.1 375.8,245.3C375.5,246.5 374.4,247.6 374.6,248.8C374.8,250 376.2,251.1 376.8,252.3C377.4,253.5 377.6,254.6 378.3,255.8C378.9,257 379.5,258 380.8,259.3C382.1,260.6 384.7,262.2 386.1,263.7C387.6,265.2 389.5,266.8 389.5,268.1C389.5,269.4 387.2,270.2 386.2,271.3C385.2,272.3 384.5,273.4 383.4,274.4C382.4,275.5 381.2,276.5 379.8,277.6C378.5,278.6 376.8,279.7 375.5,280.7C374.2,281.8 371.9,282.6 372,283.9C372.1,285.2 374.7,286.8 376.2,288.2C377.7,289.7 379.2,291.3 380.8,292.6C382.4,293.9 384.4,295.1 386,296.3C387.7,297.5 389.9,298.6 390.8,300C391.7,301.4 391.4,302.9 391.7,304.4C392.1,305.9 393.9,307.5 393,308.8C392.1,310.1 388.4,311.2 386.4,312.4C384.3,313.6 382.7,314.9 380.9,316.1C379.1,317.3 375.7,318.6 375.5,319.7C375.3,320.8 378.8,321.7 379.8,322.8C380.7,323.8 380.5,324.8 381.4,325.8C382.3,326.8 383.5,327.9 384.9,328.9C386.3,329.9 388.5,330.9 389.8,331.9C391.2,333 393.6,333.8 393,335C392.4,336.2 387.3,337.9 386.5,339.4C385.7,340.9 387.4,342.3 388.1,343.8C388.8,345.3 390.9,346.9 390.8,348.2C390.7,349.5 388.7,350.4 387.6,351.4C386.5,352.5 384.4,353.6 384.3,354.7C384.2,355.8 386,356.7 386.9,357.8C387.7,358.8 388.1,359.8 389.2,360.8C390.2,361.8 392.5,362.9 393.4,363.9C394.2,364.9 393.4,365.9 394,366.9C394.7,368 397.6,368.9 397.4,370C397.2,371.1 394.3,372.2 392.8,373.3C391.4,374.4 388.8,375.5 388.7,376.6C388.6,377.7 390.9,378.8 392.4,379.9C393.9,381 396.3,382.1 397.8,383.2C399.3,384.3 399.9,385.4 401.3,386.5C402.7,387.6 407.2,388.5 406.2,389.8C405.2,391.1 396.1,392.8 395.2,394.2C394.3,395.6 398.9,396.7 400.9,398C402.9,399.3 407,400.5 407.3,401.8C407.6,403.1 404.6,404.4 402.9,405.6C401.3,406.9 398.3,408.3 397.4,409.5C396.5,410.7 397.4,411.9 397.7,413.1C398,414.3 398.7,415.6 399,416.8C399.3,418 399.4,419.2 399.6,420.4C399.8,421.6 400.4,422.7 400.1,423.9C399.8,425.1 398.2,426.3 397.8,427.4C397.3,428.6 397.3,429.8 397.2,431C397.1,432.1 397.2,433.3 397.2,434.5C397.2,435.7 397.4,437.4 397.4,438" fill="none" stroke="#0a6aff" stroke-width="2.9" stroke-linejoin="round"/><path d="M414.1,28C414.4,28.7 415.2,30.9 416.1,32.4C416.9,33.9 419,35.5 419.3,36.8C419.6,38.1 418.2,39.1 417.7,40.3C417.1,41.5 414.6,42.5 415.8,43.8C417,45.1 421.9,46.7 425.1,48.1C428.4,49.6 434.9,51 435.1,52.5C435.3,54 429.5,55.4 426.6,56.9C423.7,58.4 417.6,59.8 417.6,61.3C417.6,62.8 423.7,64.2 426.7,65.7C429.6,67.1 434.9,68.5 435.1,70C435.3,71.5 430,72.9 427.9,74.4C425.9,75.9 421.6,77.5 422.8,78.8C424,80.1 430.7,81.1 435.2,82.3C439.8,83.5 448.6,84.6 450,85.8C451.4,87 445.8,88.1 443.4,89.3C440.9,90.5 435,91.3 435.1,92.8C435.2,94.3 443.7,96.7 443.8,98.1C443.9,99.5 438.4,100.1 435.8,101.1C433.2,102.2 430.5,103.2 428.3,104.2C426.1,105.2 425.1,106.2 422.7,107.2C420.3,108.3 414.4,108.9 414.1,110.3C413.8,111.7 420.2,114.1 421.1,115.6C422,117.1 418.3,117.9 419.3,119.1C420.3,120.3 427.4,121.4 427.2,122.6C427,123.8 421,124.9 417.9,126.1C414.9,127.3 409.6,128.4 408.8,129.6C408,130.8 411.9,131.9 413.1,133.1C414.3,134.3 417.1,135.4 415.8,136.6C414.5,137.8 406.3,138.8 405.3,140.1C404.3,141.4 408.2,143 409.6,144.5C411.1,146 416.6,147.3 414.1,148.9C411.6,150.5 397.7,152.7 394.8,154.1C391.9,155.5 396.3,156.4 396.9,157.6C397.5,158.8 399.5,159.6 398.3,161.1C397.1,162.6 389.5,164.9 389.5,166.4C389.5,167.9 397.8,168.8 398.3,170C398.8,171.2 394,172.3 392.2,173.5C390.5,174.7 386.8,175.8 387.8,177C388.8,178.2 397.5,179.3 398.3,180.5C399.1,181.7 394.5,182.8 392.5,184C390.4,185.2 385.3,186.3 386,187.5C386.7,188.7 395.6,189.8 396.5,191C397.4,192.2 393.3,193.3 391.3,194.5C389.2,195.7 384.7,196.8 384.3,198C383.9,199.2 387.3,200.3 388.7,201.5C390.2,202.7 392.8,203.9 393,205C393.2,206.1 390.9,207 389.7,208.1C388.4,209.1 387.1,210.1 385.6,211.2C384,212.2 381.6,213.2 380.2,214.2C378.8,215.3 376.7,216.2 377.3,217.3C377.9,218.4 381.8,219.6 383.8,220.8C385.7,222 387.3,223.1 389.2,224.3C391,225.5 396.8,226.4 394.8,227.8C392.8,229.2 379.9,231.5 377.3,233C374.7,234.5 378.6,235.4 379.2,236.5C379.7,237.7 380,238.9 380.8,240.1C381.7,241.2 382.6,242.3 384.3,243.6C386,244.9 389.2,246.5 391.3,247.9C393.3,249.4 396.8,251 396.5,252.3C396.2,253.6 391.8,254.6 389.4,255.8C387.1,257 381.6,257.8 382.5,259.3C383.4,260.8 392.9,263.2 394.8,264.6C396.7,266 394.2,266.6 393.8,267.6C393.5,268.6 393.2,269.6 392.7,270.6C392.2,271.6 391.3,272.6 390.8,273.6C390.3,274.6 390.4,275.6 389.8,276.6C389.2,277.6 387.6,278.6 387,279.6C386.5,280.6 387,281.6 386.5,282.6C386.1,283.6 384,284.5 384.3,285.6C384.6,286.7 387.1,287.9 388.5,289.1C390,290.3 391.5,291.4 393,292.6C394.5,293.8 396.2,295.1 397.3,296.3C398.4,297.5 397.9,298.9 399.6,300C401.3,301.1 405.3,302 407.5,303.1C409.7,304.1 410.6,305.1 412.6,306.1C414.7,307.1 417.3,308.2 419.7,309.2C422.1,310.2 424.4,311.2 426.9,312.2C429.4,313.3 437,314.2 434.6,315.3C432.2,316.4 416.5,317.4 412.7,318.6C408.9,319.8 412.4,321.2 411.7,322.5C411,323.7 406.4,324.9 408.4,326.3C410.4,327.7 420.8,329.4 423.7,330.7C426.6,332 424.9,332.9 425.7,334C426.5,335.1 427.7,336.2 428.4,337.2C429,338.3 429.1,339.4 429.7,340.5C430.4,341.6 434.5,342.9 432.4,343.8C430.3,344.7 418.7,345.1 417.1,346C415.5,346.9 420.8,348.2 422.6,349.3C424.5,350.4 426,351.5 428.1,352.6C430.2,353.7 432.9,354.8 435.5,355.9C438,356.9 442.2,358 443.4,359.1C444.6,360.2 442.6,361.3 442.5,362.4C442.3,363.5 442.6,364.6 442.5,365.7C442.4,366.8 442.2,367.9 442,369C441.7,370.1 442.6,371.2 441.2,372.3C439.8,373.4 436.3,374.5 433.4,375.6C430.5,376.6 425,377.7 423.7,378.8C422.4,379.9 425.1,381 425.8,382.1C426.5,383.2 427.4,384.3 428,385.4C428.6,386.5 429.1,387.6 429.5,388.7C429.9,389.8 429.1,390.8 430.3,392C431.5,393.2 434.8,394.4 436.6,395.6C438.3,396.8 439.4,398.1 440.9,399.3C442.4,400.5 445.5,401.7 445.6,402.9C445.7,404.1 442.4,405.1 441.5,406.2C440.5,407.3 440.6,408.4 439.9,409.4C439.1,410.5 438.1,411.6 436.8,412.7C435.6,413.8 431.9,414.7 432.4,416C432.9,417.3 437.8,418.9 440,420.4C442.2,421.9 445.5,423.5 445.6,424.8C445.7,426.1 442.4,427 440.8,428.1C439.3,429.2 438,430.3 436.3,431.4C434.5,432.5 431.9,433.6 430.1,434.7C428.4,435.8 426.6,437.4 425.9,438" fill="none" stroke="#f06b60" stroke-width="2.9" stroke-linejoin="round"/></g><rect x="362.1" y="31.5" width="190.6" height="404" fill="none" stroke="#000" stroke-width="2.4"/><g stroke="#000" stroke-width="2.4"><line x1="362.1" y1="435.5" x2="371.1" y2="435.5"/><line x1="552.7" y1="435.5" x2="543.7" y2="435.5"/><line x1="362.1" y1="368.2" x2="371.1" y2="368.2"/><line x1="552.7" y1="368.2" x2="543.7" y2="368.2"/><line x1="362.1" y1="300.9" x2="371.1" y2="300.9"/><line x1="552.7" y1="300.9" x2="543.7" y2="300.9"/><line x1="362.1" y1="233.6" x2="371.1" y2="233.6"/><line x1="552.7" y1="233.6" x2="543.7" y2="233.6"/><line x1="362.1" y1="166.2" x2="371.1" y2="166.2"/><line x1="552.7" y1="166.2" x2="543.7" y2="166.2"/><line x1="362.1" y1="98.9" x2="371.1" y2="98.9"/><line x1="552.7" y1="98.9" x2="543.7" y2="98.9"/><line x1="362.1" y1="31.6" x2="371.1" y2="31.6"/><line x1="552.7" y1="31.6" x2="543.7" y2="31.6"/><line x1="457.6" y1="435.5" x2="457.6" y2="426.5"/><line x1="457.6" y1="31.5" x2="457.6" y2="40.5"/></g><rect x="455" y="35" width="94.2" height="101" rx="4" fill="#fff" stroke="#c9c9c9" stroke-width="2.6"/><line x1="457" y1="46.1" x2="478.5" y2="46.1" stroke="#808080" stroke-width="2.6"/><text x="485.5" y="53.5" font-size="19">Total</text><line x1="457" y1="70.7" x2="478.5" y2="70.7" stroke="#f9b23f" stroke-width="2.6"/><text x="485.5" y="78.1" font-size="19">Ge-<tspan font-style="italic">s</tspan></text><line x1="457" y1="95.3" x2="478.5" y2="95.3" stroke="#0a6aff" stroke-width="2.6"/><text x="485.5" y="102.7" font-size="19">Ge-<tspan font-style="italic">p</tspan><tspan font-style="italic" font-size="14.5" dy="3.8">z</tspan></text><line x1="457" y1="119.9" x2="478.5" y2="119.9" stroke="#f06b60" stroke-width="2.6"/><text x="485.5" y="127.3" font-size="19">Ge-<tspan font-style="italic">p</tspan><tspan font-style="italic" font-size="14.5" dy="3.8">xy</tspan></text><clipPath id="clipIa"><rect x="450.2" y="185" width="85.4" height="96.5"/></clipPath><rect x="450.2" y="185" width="85.4" height="96.5" fill="#fff"/><g clip-path="url(#clipIa)"><path d="M447.2,182C461,182.3 516.5,183.2 530,184C543.5,184.8 531.3,185 528.2,186.9C525.1,188.8 515.3,193 511.6,195.3C507.9,197.6 509.7,198.5 506,200.8C502.3,203.1 489.6,207 489.4,209.1C489.2,211.2 498.4,211.7 504.6,213.3C510.8,214.9 527,217 526.8,218.8C526.6,220.7 509.8,222.6 503.3,224.4C496.8,226.2 489.9,227.6 488,229.9C486.1,232.2 489.2,235.3 492.2,238.3C495.2,241.3 504.6,244.3 506,248C507.4,251.7 501.9,257.4 500.5,260.4C499.1,263.4 495.4,264.1 497.7,266C500,267.9 508.3,269.6 514.3,271.5C520.3,273.4 530,275.9 533.8,277.1C537.6,278.4 551.4,277.8 537,279C522.6,280.2 462.2,283.6 447.2,284.5Z" fill="#e6e6e6"/><path d="M530,184C529.7,184.5 531.3,185 528.2,186.9C525.1,188.8 515.3,193 511.6,195.3C507.9,197.6 509.7,198.5 506,200.8C502.3,203.1 489.6,207 489.4,209.1C489.2,211.2 498.4,211.7 504.6,213.3C510.8,214.9 527,217 526.8,218.8C526.6,220.7 509.8,222.6 503.3,224.4C496.8,226.2 489.9,227.6 488,229.9C486.1,232.2 489.2,235.3 492.2,238.3C495.2,241.3 504.6,244.3 506,248C507.4,251.7 501.9,257.4 500.5,260.4C499.1,263.4 495.4,264.1 497.7,266C500,267.9 508.3,269.6 514.3,271.5C520.3,273.4 530,275.9 533.8,277.1C537.6,278.4 536.5,278.7 537,279" fill="none" stroke="#808080" stroke-width="3.4"/><path d="M456.8,184C456.4,186.8 455.3,195.7 454.7,200.8C454.1,205.9 453.4,210.1 453.3,214.7C453.2,219.3 454.1,223.9 454,228.5C453.9,233.1 452.5,237.1 452.6,242.4C452.7,247.7 454.5,254 454.7,260.4C454.9,266.8 454.1,277.6 454,281" fill="none" stroke="#f9b23f" stroke-width="3.2"/><path d="M467.9,184C468,185.4 468,189.9 468.6,192.5C469.2,195.1 472.6,196.6 471.4,199.4C470.2,202.2 461.5,205.9 461.6,209.1C461.7,212.3 472,215.6 472,218.8C472,222 463.1,225.2 461.6,228.5C460.1,231.8 461.5,235.1 463,238.3C464.5,241.6 470,243.8 470.7,248C471.4,252.2 465.9,258.6 467.2,263.2C468.5,267.8 477,272.7 478.3,275.7C479.6,278.7 475.4,280.1 474.8,281" fill="none" stroke="#0a6aff" stroke-width="3.2"/><path d="M503.3,184C500.5,185.4 490.5,189.7 486.6,192.5C482.7,195.3 482,198 479.7,200.8C477.4,203.6 471.5,206.8 472.7,209.1C473.9,211.4 482,213 486.6,214.7C491.2,216.4 500.5,217.7 500.5,219.5C500.5,221.3 491.2,223.8 486.6,225.8C482,227.8 474.8,229 472.7,231.3C470.6,233.6 472.7,236.6 474.1,239.6C475.5,242.6 480.6,245.4 481.1,249.3C481.6,253.2 476,259.5 476.9,263.2C477.8,266.9 482.2,268.9 486.6,271.5C491,274.1 500.2,276.9 503.3,278.5C506.4,280.1 504.7,280.6 505,281" fill="none" stroke="#f06b60" stroke-width="3.2"/></g><rect x="450.2" y="185" width="85.4" height="96.5" fill="none" stroke="#000" stroke-width="2.4"/><g stroke="#000" stroke-width="2.2"><line x1="506.5" y1="185" x2="506.5" y2="193"/><line x1="506.5" y1="281.5" x2="506.5" y2="273.5"/><line x1="450.2" y1="233.2" x2="458.2" y2="233.2"/><line x1="535.6" y1="233.2" x2="527.6" y2="233.2"/></g><line x1="377.5" y1="218.2" x2="447.6" y2="186" stroke="#000" stroke-width="2.6" stroke-dasharray="10,4.5"/><line x1="377.5" y1="247.4" x2="447.6" y2="281" stroke="#000" stroke-width="2.6" stroke-dasharray="10,4.5"/><g font-size="19" text-anchor="end"><text x="439" y="191.2">0.3</text><text x="439" y="239.4">0.0</text><text x="439" y="287.7">−0.3</text></g><g font-size="19" text-anchor="middle"><text x="450.5" y="306">0</text><text x="506.5" y="306">0.1</text></g><clipPath id="clipSA"><rect x="573" y="31" width="53.4" height="199"/></clipPath><rect x="573" y="31" width="53.4" height="199" fill="#6666fc"/><g clip-path="url(#clipSA)"><circle cx="574" cy="31" r="7.2" fill="url(#gG)"/><circle cx="599.8" cy="31" r="7.2" fill="url(#gG)"/><circle cx="625.4" cy="31" r="7.2" fill="url(#gG)"/><circle cx="574" cy="58.3" r="7.2" fill="url(#gG)"/><circle cx="599.8" cy="58.3" r="7.2" fill="url(#gG)"/><circle cx="625.4" cy="58.3" r="7.2" fill="url(#gG)"/><circle cx="574" cy="85.4" r="7.2" fill="url(#gG)"/><circle cx="599.8" cy="85.4" r="7.2" fill="url(#gG)"/><circle cx="625.4" cy="85.4" r="7.2" fill="url(#gG)"/><ellipse cx="600" cy="93.5" rx="10" ry="4.5" fill="url(#gW)" opacity="0.8"/><ellipse cx="576" cy="92" rx="6" ry="5" fill="url(#gW)" opacity="0.6"/><ellipse cx="624" cy="92" rx="6" ry="5" fill="url(#gW)" opacity="0.6"/><ellipse cx="575" cy="114" rx="10" ry="10" fill="url(#gW)"/><ellipse cx="624" cy="114" rx="10" ry="10" fill="url(#gW)"/><ellipse cx="582.5" cy="110.5" rx="3.5" ry="3.5" fill="url(#gR)"/><ellipse cx="617" cy="110.5" rx="3.5" ry="3.5" fill="url(#gR)"/><ellipse cx="599.5" cy="141" rx="30" ry="24" fill="url(#gW)"/><ellipse cx="586.8" cy="139.5" rx="12" ry="15" fill="url(#gW)"/><ellipse cx="612.2" cy="139.5" rx="12" ry="15" fill="url(#gW)"/><ellipse cx="586.3" cy="140" rx="8.5" ry="12" fill="url(#gR2)"/><ellipse cx="612.7" cy="140" rx="8.5" ry="12" fill="url(#gR2)"/><circle cx="574" cy="112.6" r="7.2" fill="url(#gG)"/><circle cx="599.8" cy="112.6" r="7.2" fill="url(#gG)"/><circle cx="625.4" cy="112.6" r="7.2" fill="url(#gG)"/><ellipse cx="575.5" cy="121" rx="3.2" ry="2.2" fill="url(#gR)"/><ellipse cx="623.5" cy="121" rx="3.2" ry="2.2" fill="url(#gR)"/><g stroke="#c58038" stroke-width="2.0" stroke-linecap="round"><line x1="600" y1="137.5" x2="600" y2="156.4"/><line x1="600" y1="156.4" x2="573.5" y2="174.3"/><line x1="600" y1="156.4" x2="626" y2="174.3"/><line x1="573.5" y1="174.3" x2="573.5" y2="193.2"/><line x1="626" y1="174.3" x2="626" y2="193.2"/><line x1="573.5" y1="193.2" x2="600" y2="211.5"/><line x1="626" y1="193.2" x2="600" y2="211.5"/><line x1="600" y1="211.5" x2="600" y2="229"/></g><circle cx="600" cy="137.5" r="5.8" fill="url(#gO)"/><circle cx="600" cy="156.4" r="5.8" fill="url(#gO)"/><circle cx="573.5" cy="174.3" r="5.8" fill="url(#gO)"/><circle cx="626" cy="174.3" r="5.8" fill="url(#gO)"/><circle cx="573.5" cy="193.2" r="5.8" fill="url(#gO)"/><circle cx="626" cy="193.2" r="5.8" fill="url(#gO)"/><circle cx="600" cy="211.5" r="5.8" fill="url(#gO)"/><circle cx="600" cy="229" r="5.8" fill="url(#gO)"/></g><path d="M626.4,31C626.4,36.8 626.3,59.2 626.6,66C626.9,72.8 626,68.9 628,72C630,75.1 638,81 638.6,84.6C639.2,88.1 632.2,91 631.6,93.3C631,95.6 629.5,95.4 635,98.6C640.5,101.8 662.3,109.1 664.9,112.6C667.5,116.1 649,116.5 650.8,119.6C652.5,122.7 673.3,127.7 675.4,131C677.5,134.3 669.2,136.2 663.1,139.3C657,142.4 643.3,146.6 638.6,149.8C633.9,153 635.1,156.2 635.1,158.5C635.1,160.8 639.8,161.5 638.6,163.8C637.4,166.2 628.7,168.2 628.1,172.6C627.5,177 634.5,185.3 635.1,190C635.7,194.7 632.8,197.1 631.6,200.6C630.4,204.1 628.8,206.4 628.1,211.1C627.4,215.8 627.4,225.4 627.2,228.6C627,231.8 627,229.8 627,230 L626.4,230 L626.4,31Z" fill="#a2d3ee"/><path d="M626.4,31C626.4,36.8 626.3,59.2 626.6,66C626.9,72.8 626,68.9 628,72C630,75.1 638,81 638.6,84.6C639.2,88.1 632.2,91 631.6,93.3C631,95.6 629.5,95.4 635,98.6C640.5,101.8 662.3,109.1 664.9,112.6C667.5,116.1 649,116.5 650.8,119.6C652.5,122.7 673.3,127.7 675.4,131C677.5,134.3 669.2,136.2 663.1,139.3C657,142.4 643.3,146.6 638.6,149.8C633.9,153 635.1,156.2 635.1,158.5C635.1,160.8 639.8,161.5 638.6,163.8C637.4,166.2 628.7,168.2 628.1,172.6C627.5,177 634.5,185.3 635.1,190C635.7,194.7 632.8,197.1 631.6,200.6C630.4,204.1 628.8,206.4 628.1,211.1C627.4,215.8 627.4,225.4 627.2,228.6C627,231.8 627,229.8 627,230" fill="none" stroke="#3a7bb0" stroke-width="1.6"/><text x="641.2" y="59.2" font-size="20" font-weight="bold" text-anchor="middle">A</text><clipPath id="clipSB"><rect x="573" y="238.7" width="53.4" height="197.5"/></clipPath><rect x="573" y="238.7" width="53.4" height="197.5" fill="#6666fc"/><g clip-path="url(#clipSB)"><ellipse cx="600" cy="254" rx="14" ry="11" fill="url(#gW)"/><ellipse cx="600" cy="253.5" rx="8" ry="5.5" fill="url(#gP)"/><ellipse cx="578" cy="243" rx="8" ry="8" fill="url(#gW)"/><ellipse cx="622" cy="243" rx="8" ry="8" fill="url(#gW)"/><ellipse cx="576" cy="266" rx="12" ry="12" fill="url(#gW)"/><ellipse cx="624" cy="266" rx="12" ry="12" fill="url(#gW)"/><ellipse cx="600" cy="274" rx="30" ry="5" fill="url(#gW)" opacity="0.45"/><ellipse cx="578" cy="293" rx="9" ry="9" fill="url(#gW)"/><ellipse cx="622" cy="293" rx="9" ry="9" fill="url(#gW)"/><ellipse cx="600" cy="303" rx="11" ry="9" fill="url(#gW)"/><ellipse cx="600" cy="303.5" rx="6" ry="4.5" fill="url(#gP)"/><ellipse cx="600" cy="285" rx="9" ry="6" fill="url(#gW)"/><ellipse cx="576" cy="320" rx="11" ry="12" fill="url(#gW)"/><ellipse cx="624" cy="320" rx="11" ry="12" fill="url(#gW)"/><ellipse cx="600" cy="336" rx="18" ry="13" fill="url(#gW)"/><ellipse cx="599" cy="336.5" rx="9" ry="6.5" fill="url(#gR2)"/><ellipse cx="579.5" cy="261" rx="3.5" ry="3" fill="url(#gR)"/><ellipse cx="620.5" cy="261" rx="3.5" ry="3" fill="url(#gR)"/><circle cx="574" cy="240.8" r="7.2" fill="url(#gG)"/><circle cx="599.8" cy="240.8" r="7.2" fill="url(#gG)"/><circle cx="625.4" cy="240.8" r="7.2" fill="url(#gG)"/><circle cx="574" cy="265.6" r="7.2" fill="url(#gG)"/><circle cx="599.8" cy="265.6" r="7.2" fill="url(#gG)"/><circle cx="625.4" cy="265.6" r="7.2" fill="url(#gG)"/><circle cx="574" cy="292.4" r="7.2" fill="url(#gG)"/><circle cx="599.8" cy="292.4" r="7.2" fill="url(#gG)"/><circle cx="625.4" cy="292.4" r="7.2" fill="url(#gG)"/><ellipse cx="600" cy="285.5" rx="5" ry="2.5" fill="url(#gP)"/><ellipse cx="578.5" cy="313.5" rx="4.5" ry="3.8" fill="url(#gR)"/><ellipse cx="621.5" cy="313.5" rx="4.5" ry="3.8" fill="url(#gR)"/><ellipse cx="578.5" cy="326.5" rx="4.5" ry="3.8" fill="url(#gR)"/><ellipse cx="621.5" cy="326.5" rx="4.5" ry="3.8" fill="url(#gR)"/><circle cx="574" cy="320" r="7.2" fill="url(#gG)"/><circle cx="599.8" cy="320" r="7.2" fill="url(#gG)"/><circle cx="625.4" cy="320" r="7.2" fill="url(#gG)"/><g stroke="#c58038" stroke-width="2.0" stroke-linecap="round"><line x1="600" y1="344" x2="600" y2="362.2"/><line x1="600" y1="362.2" x2="573.5" y2="380.9"/><line x1="600" y1="362.2" x2="626" y2="380.9"/><line x1="573.5" y1="380.9" x2="573.5" y2="399.5"/><line x1="626" y1="380.9" x2="626" y2="399.5"/><line x1="573.5" y1="399.5" x2="600" y2="417.6"/><line x1="626" y1="399.5" x2="600" y2="417.6"/><line x1="600" y1="417.6" x2="600" y2="435"/></g><circle cx="600" cy="344" r="5.8" fill="url(#gO)"/><circle cx="600" cy="362.2" r="5.8" fill="url(#gO)"/><circle cx="573.5" cy="380.9" r="5.8" fill="url(#gO)"/><circle cx="626" cy="380.9" r="5.8" fill="url(#gO)"/><circle cx="573.5" cy="399.5" r="5.8" fill="url(#gO)"/><circle cx="626" cy="399.5" r="5.8" fill="url(#gO)"/><circle cx="600" cy="417.6" r="5.8" fill="url(#gO)"/><circle cx="600" cy="435" r="5.8" fill="url(#gO)"/></g><path d="M626.4,238.7C630,238.7 643.6,237.4 647.9,238.7C652.2,240 648.9,244.2 652,246.6C655.1,248.9 665.4,251.1 666.6,252.8C667.8,254.5 660.2,255.6 659.3,257C658.4,258.4 663.3,259.1 661.4,261C659.5,262.9 652.6,265.7 647.9,268.3C643.2,270.9 633.4,274 633.4,276.6C633.4,279.2 642.5,281.1 647.9,283.9C653.2,286.7 663.4,290.8 665.5,293.2C667.6,295.6 661,296.8 660.3,298.4C659.6,299.9 662.8,300.6 661.4,302.5C660,304.4 651.7,307.9 652,309.8C652.3,311.7 664.4,312.7 663.4,313.9C662.4,315.1 649.8,315.8 645.8,317C641.8,318.2 639.2,319.6 639.6,321.2C640,322.8 648.2,325 647.9,326.4C647.5,327.8 636.8,327.8 637.5,329.5C638.2,331.2 652.3,334.4 652,336.7C651.7,338.9 639.5,341.1 635.5,343C631.5,344.9 627.4,345.5 628.2,348.1C629.1,350.7 639.4,355 640.6,358.5C641.8,362 636.7,365.4 635.5,368.9C634.3,372.3 634.8,374 633.4,379.2C632,384.4 628.3,390.5 627.2,400C626.1,409.5 626.9,430.2 626.8,436.2 L626.4,436.2 L626.4,238.7Z" fill="#a2d3ee"/><path d="M626.4,238.7C630,238.7 643.6,237.4 647.9,238.7C652.2,240 648.9,244.2 652,246.6C655.1,248.9 665.4,251.1 666.6,252.8C667.8,254.5 660.2,255.6 659.3,257C658.4,258.4 663.3,259.1 661.4,261C659.5,262.9 652.6,265.7 647.9,268.3C643.2,270.9 633.4,274 633.4,276.6C633.4,279.2 642.5,281.1 647.9,283.9C653.2,286.7 663.4,290.8 665.5,293.2C667.6,295.6 661,296.8 660.3,298.4C659.6,299.9 662.8,300.6 661.4,302.5C660,304.4 651.7,307.9 652,309.8C652.3,311.7 664.4,312.7 663.4,313.9C662.4,315.1 649.8,315.8 645.8,317C641.8,318.2 639.2,319.6 639.6,321.2C640,322.8 648.2,325 647.9,326.4C647.5,327.8 636.8,327.8 637.5,329.5C638.2,331.2 652.3,334.4 652,336.7C651.7,338.9 639.5,341.1 635.5,343C631.5,344.9 627.4,345.5 628.2,348.1C629.1,350.7 639.4,355 640.6,358.5C641.8,362 636.7,365.4 635.5,368.9C634.3,372.3 634.8,374 633.4,379.2C632,384.4 628.3,390.5 627.2,400C626.1,409.5 626.9,430.2 626.8,436.2" fill="none" stroke="#3a7bb0" stroke-width="1.6"/><text x="640.2" y="268.3" font-size="20" font-weight="bold" text-anchor="middle">B</text><g clip-path="url(#clipBb)"><path d="M60,548 L353,548 L353,662 L343.5,670.7 L328,678.3 L310,683 L295,687 L270,697 L240,703 L210,707 L182.5,709 L150,704 L122.9,700.7 L95,693 L64,684.8 L60,684.8Z" fill="#b4e0fe"/><path d="M60,796 L64,794.8 L77.6,779 L100.3,772.2 L145.5,767.6 L182.5,763 L225.5,772 L253.2,786.6 L281,806 L303,822.7 L322.6,839.3 L336.4,852 L345,856 L353,857 L353,958 L60,958Z" fill="#b4e0fe"/><path d="M63,733 L68,733.9 L73,735.1 L77.9,736.7 L82.9,738.6 L87.9,740.7 L92.9,743.1 L97.9,745.7 L102.8,748.4 L107.8,751.3 L112.8,754.1 L117.8,757 L122.8,759.9 L127.7,762.7 L132.7,765.3 L137.7,767.7 L142.7,769.9 L147.6,771.9 L152.6,773.5 L157.6,774.8 L162.6,775.8 L167.6,776.4 L172.5,776.7 L177.5,776.5 L182.5,776 L189.5,776.1 L196.5,776.8 L203.4,777.9 L210.4,779.5 L217.4,781.6 L224.4,784 L231.4,786.8 L238.3,790 L245.3,793.4 L252.3,797 L259.3,800.8 L266.2,804.6 L273.2,808.4 L280.2,812.2 L287.2,815.9 L294.2,819.4 L301.1,822.7 L308.1,825.6 L315.1,828.3 L322.1,830.5 L329.1,832.3 L336,833.6 L343,834.5 L350,834.9 M63,743.2 L68,745 L73,746.9 L77.9,749.2 L82.9,751.6 L87.9,754.1 L92.9,756.7 L97.9,759.4 L102.8,762.1 L107.8,764.7 L112.8,767.3 L117.8,769.7 L122.8,771.9 L127.7,774 L132.7,775.7 L137.7,777.3 L142.7,778.5 L147.6,779.4 L152.6,779.9 L157.6,780.1 L162.6,780 L167.6,779.5 L172.5,778.6 L177.5,777.5 L182.5,776 L189.5,776.4 L196.5,777.5 L203.4,779.3 L210.4,781.6 L217.4,784.6 L224.4,788.1 L231.4,792.1 L238.3,796.5 L245.3,801.3 L252.3,806.3 L259.3,811.5 L266.2,816.7 L273.2,822 L280.2,827.1 L287.2,832.1 L294.2,836.8 L301.1,841.1 L308.1,845 L315.1,848.4 L322.1,851.3 L329.1,853.6 L336,855.2 L343,856.2 L350,856.5 M63,801 L68,798.3 L73,795.4 L77.9,792.5 L82.9,789.4 L87.9,786.3 L92.9,783.3 L97.9,780.4 L102.8,777.6 L107.8,774.9 L112.8,772.6 L117.8,770.4 L122.8,768.6 L127.7,767.2 L132.7,766.1 L137.7,765.4 L142.7,765 L147.6,765.1 L152.6,765.6 L157.6,766.5 L162.6,767.7 L167.6,769.3 L172.5,771.3 L177.5,773.5 L182.5,776 L189.5,775.2 L196.5,774 L203.4,772.6 L210.4,771 L217.4,769.1 L224.4,767 L231.4,764.8 L238.3,762.4 L245.3,760 L252.3,757.5 L259.3,755 L266.2,752.6 L273.2,750.3 L280.2,748.1 L287.2,746.1 L294.2,744.2 L301.1,742.6 L308.1,741.3 L315.1,740.2 L322.1,739.4 L329.1,739 L336,738.9 L343,739.1 L350,739.6 M63,817.1 L68,818.4 L73,819.4 L77.9,820 L82.9,820.2 L87.9,820 L92.9,819.4 L97.9,818.4 L102.8,817 L107.8,815.3 L112.8,813.2 L117.8,810.9 L122.8,808.3 L127.7,805.5 L132.7,802.6 L137.7,799.5 L142.7,796.4 L147.6,793.4 L152.6,790.3 L157.6,787.4 L162.6,784.6 L167.6,782.1 L172.5,779.7 L177.5,777.7 L182.5,776 L189.5,774.3 L196.5,772 L203.4,769.2 L210.4,765.9 L217.4,762.1 L224.4,758 L231.4,753.5 L238.3,748.9 L245.3,744.1 L252.3,739.2 L259.3,734.3 L266.2,729.6 L273.2,725 L280.2,720.7 L287.2,716.7 L294.2,713.1 L301.1,710 L308.1,707.4 L315.1,705.4 L322.1,704 L329.1,703.2 L336,703 L343,703.5 L350,704.5 M63,746.5 L68,749.3 L73,752.2 L77.9,755.3 L82.9,758.5 L87.9,761.7 L92.9,764.9 L97.9,768.1 L102.8,771.1 L107.8,774 L112.8,776.7 L117.8,779.1 L122.8,781.2 L127.7,782.9 L132.7,784.3 L137.7,785.3 L142.7,785.9 L147.6,786 L152.6,785.8 L157.6,785.1 L162.6,784 L167.6,782.5 L172.5,780.6 L177.5,778.5 L182.5,776 L189.5,776.9 L196.5,777.2 L203.4,776.7 L210.4,775.6 L217.4,773.8 L224.4,771.5 L231.4,768.5 L238.3,765 L245.3,761 L252.3,756.6 L259.3,751.9 L266.2,747 L273.2,741.9 L280.2,736.7 L287.2,731.5 L294.2,726.4 L301.1,721.5 L308.1,716.9 L315.1,712.7 L322.1,708.8 L329.1,705.5 L336,702.7 L343,700.5 L350,698.9 M63,875 L68,872.2 L73,868.5 L77.9,864.1 L82.9,859.1 L87.9,853.4 L92.9,847.3 L97.9,840.9 L102.8,834.1 L107.8,827.2 L112.8,820.3 L117.8,813.5 L122.8,806.9 L127.7,800.6 L132.7,794.7 L137.7,789.3 L142.7,784.6 L147.6,780.6 L152.6,777.3 L157.6,774.9 L162.6,773.3 L167.6,772.6 L172.5,772.9 L177.5,774 L182.5,776 L189.5,775.3 L196.5,775 L203.4,775 L210.4,775.5 L217.4,776.3 L224.4,777.5 L231.4,779 L238.3,780.9 L245.3,783.1 L252.3,785.5 L259.3,788.1 L266.2,790.8 L273.2,793.7 L280.2,796.7 L287.2,799.6 L294.2,802.6 L301.1,805.4 L308.1,808.2 L315.1,810.7 L322.1,813 L329.1,815.1 L336,816.8 L343,818.3 L350,819.3 M63,799.5 L68,801.8 L73,803.8 L77.9,805.5 L82.9,807 L87.9,808.1 L92.9,808.9 L97.9,809.3 L102.8,809.3 L107.8,809 L112.8,808.3 L117.8,807.2 L122.8,805.8 L127.7,804.1 L132.7,802.2 L137.7,800 L142.7,797.5 L147.6,794.9 L152.6,792.2 L157.6,789.4 L162.6,786.6 L167.6,783.8 L172.5,781.1 L177.5,778.5 L182.5,776 L189.5,775 L196.5,773.6 L203.4,771.6 L210.4,769.2 L217.4,766.4 L224.4,763.2 L231.4,759.8 L238.3,756 L245.3,752.1 L252.3,748.1 L259.3,744 L266.2,739.9 L273.2,735.9 L280.2,732.1 L287.2,728.5 L294.2,725.2 L301.1,722.2 L308.1,719.6 L315.1,717.5 L322.1,715.8 L329.1,714.7 L336,714 L343,713.9 L350,714.3 M63,731 L68,729.2 L73,727.8 L77.9,726.9 L82.9,726.5 L87.9,726.5 L92.9,726.9 L97.9,727.9 L102.8,729.2 L107.8,731 L112.8,733.2 L117.8,735.7 L122.8,738.5 L127.7,741.5 L132.7,744.8 L137.7,748.2 L142.7,751.7 L147.6,755.3 L152.6,758.8 L157.6,762.2 L162.6,765.5 L167.6,768.5 L172.5,771.3 L177.5,773.8 L182.5,776 L189.5,778.6 L196.5,781.9 L203.4,785.8 L210.4,790.3 L217.4,795.3 L224.4,800.7 L231.4,806.3 L238.3,812.2 L245.3,818.3 L252.3,824.3 L259.3,830.2 L266.2,836 L273.2,841.4 L280.2,846.5 L287.2,851 L294.2,855.1 L301.1,858.5 L308.1,861.2 L315.1,863.2 L322.1,864.5 L329.1,865 L336,864.6 L343,863.5 L350,861.7 M63,790.6 L68,789.7 L73,788.8 L77.9,787.7 L82.9,786.5 L87.9,785.3 L92.9,784 L97.9,782.8 L102.8,781.5 L107.8,780.3 L112.8,779.1 L117.8,778 L122.8,777 L127.7,776.1 L132.7,775.4 L137.7,774.7 L142.7,774.2 L147.6,773.9 L152.6,773.7 L157.6,773.7 L162.6,773.8 L167.6,774.2 L172.5,774.6 L177.5,775.2 L182.5,776 L189.5,776 L196.5,776.4 L203.4,776.9 L210.4,777.7 L217.4,778.7 L224.4,779.9 L231.4,781.4 L238.3,783 L245.3,784.7 L252.3,786.5 L259.3,788.4 L266.2,790.3 L273.2,792.3 L280.2,794.2 L287.2,796.1 L294.2,797.9 L301.1,799.6 L308.1,801.1 L315.1,802.5 L322.1,803.6 L329.1,804.5 L336,805.3 L343,805.7 L350,805.9 M63,737.4 L68,739.5 L73,741.8 L77.9,744.5 L82.9,747.3 L87.9,750.3 L92.9,753.4 L97.9,756.5 L102.8,759.7 L107.8,762.8 L112.8,765.8 L117.8,768.7 L122.8,771.3 L127.7,773.7 L132.7,775.8 L137.7,777.6 L142.7,779 L147.6,780.1 L152.6,780.7 L157.6,780.9 L162.6,780.7 L167.6,780.1 L172.5,779.1 L177.5,777.7 L182.5,776 L189.5,774.3 L196.5,771.9 L203.4,769 L210.4,765.5 L217.4,761.5 L224.4,757 L231.4,752.3 L238.3,747.3 L245.3,742.1 L252.3,736.8 L259.3,731.5 L266.2,726.3 L273.2,721.3 L280.2,716.5 L287.2,712.1 L294.2,708.2 L301.1,704.7 L308.1,701.8 L315.1,699.4 L322.1,697.7 L329.1,696.7 L336,696.4 L343,696.7 L350,697.8 M63,846.4 L68,848.5 L73,850.9 L77.9,853.5 L82.9,856.2 L87.9,859 L92.9,861.8 L97.9,864.6 L102.8,867.3 L107.8,869.9 L112.8,872.4 L117.8,874.7 L122.8,876.7 L127.7,878.5 L132.7,879.9 L137.7,881.1 L142.7,881.9 L147.6,882.3 L152.6,882.4 L157.6,882.1 L162.6,881.4 L167.6,880.4 L172.5,879.1 L177.5,877.4 L182.5,875.5 L189.5,877 L196.5,878.9 L203.4,881.2 L210.4,883.7 L217.4,886.6 L224.4,889.6 L231.4,892.8 L238.3,896.1 L245.3,899.4 L252.3,902.7 L259.3,906 L266.2,909.1 L273.2,912.1 L280.2,914.9 L287.2,917.3 L294.2,919.5 L301.1,921.3 L308.1,922.7 L315.1,923.7 L322.1,924.3 L329.1,924.5 L336,924.2 L343,923.5 L350,922.4 M63,876.1 L68,874.1 L73,872 L77.9,870 L82.9,868 L87.9,866.1 L92.9,864.2 L97.9,862.5 L102.8,861 L107.8,859.6 L112.8,858.5 L117.8,857.6 L122.8,856.9 L127.7,856.5 L132.7,856.4 L137.7,856.5 L142.7,856.9 L147.6,857.6 L152.6,858.5 L157.6,859.6 L162.6,861 L167.6,862.5 L172.5,864.2 L177.5,866.1 L182.5,868 L189.5,868 L196.5,868.1 L203.4,868.5 L210.4,869.1 L217.4,869.8 L224.4,870.7 L231.4,871.7 L238.3,872.9 L245.3,874.2 L252.3,875.6 L259.3,877.1 L266.2,878.5 L273.2,880 L280.2,881.5 L287.2,883 L294.2,884.4 L301.1,885.7 L308.1,886.9 L315.1,888 L322.1,889 L329.1,889.7 L336,890.3 L343,890.8 L350,891 M63,865.7 L68,867.9 L73,870.2 L77.9,872.8 L82.9,875.5 L87.9,878.3 L92.9,881.1 L97.9,883.9 L102.8,886.6 L107.8,889.3 L112.8,891.8 L117.8,894.1 L122.8,896.2 L127.7,898 L132.7,899.5 L137.7,900.7 L142.7,901.6 L147.6,902.1 L152.6,902.2 L157.6,902 L162.6,901.4 L167.6,900.4 L172.5,899.1 L177.5,897.5 L182.5,895.6 L189.5,895.3 L196.5,895.4 L203.4,895.8 L210.4,896.6 L217.4,897.8 L224.4,899.3 L231.4,901 L238.3,903.1 L245.3,905.3 L252.3,907.8 L259.3,910.4 L266.2,913.2 L273.2,916 L280.2,918.8 L287.2,921.5 L294.2,924.2 L301.1,926.8 L308.1,929.2 L315.1,931.4 L322.1,933.3 L329.1,934.9 L336,936.3 L343,937.3 L350,937.9 M63,692.2 L68,694.8 L73,697.4 L77.9,699.9 L82.9,702.4 L87.9,704.7 L92.9,706.9 L97.9,708.8 L102.8,710.5 L107.8,712 L112.8,713.1 L117.8,713.9 L122.8,714.4 L127.7,714.6 L132.7,714.4 L137.7,713.8 L142.7,713 L147.6,711.8 L152.6,710.3 L157.6,708.6 L162.6,706.6 L167.6,704.4 L172.5,702.1 L177.5,699.6 L182.5,697 L189.5,696.4 L196.5,695.7 L203.4,694.9 L210.4,694 L217.4,693.1 L224.4,692.2 L231.4,691.2 L238.3,690.3 L245.3,689.3 L252.3,688.4 L259.3,687.6 L266.2,686.8 L273.2,686.1 L280.2,685.5 L287.2,685 L294.2,684.5 L301.1,684.3 L308.1,684.1 L315.1,684 L322.1,684.1 L329.1,684.3 L336,684.6 L343,685.1 L350,685.6 M63,510.9 L68,513.6 L73,516.7 L77.9,520 L82.9,523.4 L87.9,527.1 L92.9,530.8 L97.9,534.5 L102.8,538.1 L107.8,541.6 L112.8,545 L117.8,548.1 L122.8,550.9 L127.7,553.4 L132.7,555.5 L137.7,557.2 L142.7,558.4 L147.6,559.2 L152.6,559.5 L157.6,559.3 L162.6,558.7 L167.6,557.5 L172.5,555.9 L177.5,553.9 L182.5,551.5 L189.5,551.6 L196.5,551.9 L203.4,552.3 L210.4,552.9 L217.4,553.7 L224.4,554.6 L231.4,555.7 L238.3,556.9 L245.3,558.1 L252.3,559.5 L259.3,560.9 L266.2,562.3 L273.2,563.7 L280.2,565.1 L287.2,566.5 L294.2,567.8 L301.1,569 L308.1,570 L315.1,571 L322.1,571.8 L329.1,572.5 L336,572.9 L343,573.2 L350,573.3 M63,756.4 L68,754.9 L73,753.4 L77.9,752 L82.9,750.5 L87.9,749.1 L92.9,747.8 L97.9,746.6 L102.8,745.5 L107.8,744.6 L112.8,743.8 L117.8,743.2 L122.8,742.8 L127.7,742.5 L132.7,742.5 L137.7,742.6 L142.7,743 L147.6,743.5 L152.6,744.2 L157.6,745.1 L162.6,746.1 L167.6,747.3 L172.5,748.6 L177.5,749.9 L182.5,751.4 L189.5,752 L196.5,752.9 L203.4,754 L210.4,755.2 L217.4,756.6 L224.4,758.1 L231.4,759.7 L238.3,761.3 L245.3,763 L252.3,764.8 L259.3,766.5 L266.2,768.1 L273.2,769.7 L280.2,771.2 L287.2,772.5 L294.2,773.7 L301.1,774.8 L308.1,775.6 L315.1,776.3 L322.1,776.7 L329.1,776.9 L336,776.9 L343,776.6 L350,776.2 M63,791.6 L68,789.8 L73,787.9 L77.9,786 L82.9,784.1 L87.9,782.3 L92.9,780.4 L97.9,778.7 L102.8,777.1 L107.8,775.6 L112.8,774.3 L117.8,773.1 L122.8,772.2 L127.7,771.5 L132.7,771.1 L137.7,770.9 L142.7,770.9 L147.6,771.2 L152.6,771.8 L157.6,772.5 L162.6,773.5 L167.6,774.7 L172.5,776.1 L177.5,777.6 L182.5,779.3 L189.5,778.4 L196.5,777.2 L203.4,775.8 L210.4,774.1 L217.4,772.3 L224.4,770.3 L231.4,768.2 L238.3,766 L245.3,763.8 L252.3,761.6 L259.3,759.4 L266.2,757.3 L273.2,755.2 L280.2,753.3 L287.2,751.6 L294.2,750.1 L301.1,748.8 L308.1,747.7 L315.1,747 L322.1,746.5 L329.1,746.2 L336,746.3 L343,746.7 L350,747.4 M63,923.3 L68,922.4 L73,921.6 L77.9,920.9 L82.9,920.5 L87.9,920.2 L92.9,920.1 L97.9,920.2 L102.8,920.4 L107.8,920.9 L112.8,921.5 L117.8,922.3 L122.8,923.2 L127.7,924.3 L132.7,925.5 L137.7,926.8 L142.7,928.1 L147.6,929.5 L152.6,930.9 L157.6,932.3 L162.6,933.7 L167.6,935.1 L172.5,936.4 L177.5,937.6 L182.5,938.6 L189.5,936.6 L196.5,934.7 L203.4,932.9 L210.4,931.4 L217.4,930 L224.4,928.8 L231.4,928 L238.3,927.3 L245.3,927 L252.3,926.9 L259.3,927.1 L266.2,927.6 L273.2,928.4 L280.2,929.4 L287.2,930.7 L294.2,932.2 L301.1,933.9 L308.1,935.7 L315.1,937.7 L322.1,939.8 L329.1,941.9 L336,944.1 L343,946.3 L350,948.4 M63,599.6 L68,598.8 L73,597.8 L77.9,596.5 L82.9,595 L87.9,593.3 L92.9,591.5 L97.9,589.5 L102.8,587.4 L107.8,585.3 L112.8,583.1 L117.8,581 L122.8,578.9 L127.7,576.9 L132.7,575 L137.7,573.3 L142.7,571.7 L147.6,570.4 L152.6,569.3 L157.6,568.4 L162.6,567.8 L167.6,567.5 L172.5,567.5 L177.5,567.7 L182.5,568.2 L189.5,569.3 L196.5,570.6 L203.4,572.1 L210.4,573.7 L217.4,575.6 L224.4,577.5 L231.4,579.5 L238.3,581.5 L245.3,583.6 L252.3,585.6 L259.3,587.5 L266.2,589.4 L273.2,591.2 L280.2,592.7 L287.2,594.2 L294.2,595.4 L301.1,596.3 L308.1,597.1 L315.1,597.5 L322.1,597.7 L329.1,597.7 L336,597.4 L343,596.8 L350,595.9 M63,870.5 L68,869.9 L73,868.9 L77.9,867.6 L82.9,866 L87.9,864.1 L92.9,862 L97.9,859.8 L102.8,857.3 L107.8,854.8 L112.8,852.1 L117.8,849.5 L122.8,846.9 L127.7,844.3 L132.7,841.8 L137.7,839.5 L142.7,837.4 L147.6,835.5 L152.6,833.8 L157.6,832.5 L162.6,831.4 L167.6,830.7 L172.5,830.4 L177.5,830.3 L182.5,830.6 L189.5,833.4 L196.5,836.5 L203.4,839.9 L210.4,843.5 L217.4,847.3 L224.4,851.2 L231.4,855.1 L238.3,859 L245.3,862.9 L252.3,866.5 L259.3,870 L266.2,873.1 L273.2,875.9 L280.2,878.4 L287.2,880.4 L294.2,882 L301.1,883 L308.1,883.6 L315.1,883.6 L322.1,883.2 L329.1,882.2 L336,880.7 L343,878.8 L350,876.5 M63,962.5 L68,962.4 L73,962.2 L77.9,962 L82.9,961.7 L87.9,961.3 L92.9,960.9 L97.9,960.4 L102.8,959.9 L107.8,959.3 L112.8,958.8 L117.8,958.2 L122.8,957.6 L127.7,957 L132.7,956.4 L137.7,955.9 L142.7,955.4 L147.6,954.9 L152.6,954.5 L157.6,954.1 L162.6,953.8 L167.6,953.6 L172.5,953.5 L177.5,953.4 L182.5,953.4 L189.5,952.9 L196.5,952.8 L203.4,953 L210.4,953.5 L217.4,954.3 L224.4,955.5 L231.4,957 L238.3,958.7 L245.3,960.6 L252.3,962.8 L259.3,965.1 L266.2,967.6 L273.2,970.1 L280.2,972.7 L287.2,975.3 L294.2,977.8 L301.1,980.3 L308.1,982.6 L315.1,984.7 L322.1,986.7 L329.1,988.4 L336,989.8 L343,990.9 L350,991.7 M63,683.9 L68,681.5 L73,678.8 L77.9,675.9 L82.9,672.8 L87.9,669.5 L92.9,666.2 L97.9,662.9 L102.8,659.6 L107.8,656.4 L112.8,653.3 L117.8,650.5 L122.8,647.9 L127.7,645.6 L132.7,643.6 L137.7,642 L142.7,640.8 L147.6,640 L152.6,639.6 L157.6,639.7 L162.6,640.2 L167.6,641.1 L172.5,642.5 L177.5,644.2 L182.5,646.3 L189.5,647.7 L196.5,648.9 L203.4,649.7 L210.4,650.1 L217.4,650.2 L224.4,650 L231.4,649.4 L238.3,648.4 L245.3,647.2 L252.3,645.6 L259.3,643.7 L266.2,641.6 L273.2,639.3 L280.2,636.8 L287.2,634.2 L294.2,631.5 L301.1,628.8 L308.1,626.1 L315.1,623.5 L322.1,620.9 L329.1,618.5 L336,616.3 L343,614.3 L350,612.5 M63,871.1 L68,868.8 L73,866.5 L77.9,864.3 L82.9,862.3 L87.9,860.4 L92.9,858.7 L97.9,857.2 L102.8,856 L107.8,855.1 L112.8,854.4 L117.8,854.1 L122.8,854 L127.7,854.3 L132.7,854.9 L137.7,855.7 L142.7,856.9 L147.6,858.2 L152.6,859.9 L157.6,861.7 L162.6,863.7 L167.6,865.9 L172.5,868.1 L177.5,870.4 L182.5,872.8 L189.5,871.7 L196.5,870.9 L203.4,870.4 L210.4,870.2 L217.4,870.4 L224.4,870.9 L231.4,871.7 L238.3,872.8 L245.3,874.2 L252.3,875.9 L259.3,877.8 L266.2,880 L273.2,882.2 L280.2,884.6 L287.2,887.1 L294.2,889.7 L301.1,892.2 L308.1,894.7 L315.1,897.1 L322.1,899.4 L329.1,901.5 L336,903.4 L343,905.1 L350,906.5 M63,656.6 L68,654.4 L73,652.3 L77.9,650.3 L82.9,648.5 L87.9,646.9 L92.9,645.6 L97.9,644.5 L102.8,643.7 L107.8,643.2 L112.8,642.9 L117.8,643 L122.8,643.4 L127.7,644.1 L132.7,645 L137.7,646.3 L142.7,647.7 L147.6,649.4 L152.6,651.3 L157.6,653.3 L162.6,655.5 L167.6,657.7 L172.5,660.1 L177.5,662.4 L182.5,664.6 L189.5,663.7 L196.5,662.4 L203.4,660.9 L210.4,659.2 L217.4,657.3 L224.4,655.2 L231.4,653.1 L238.3,650.8 L245.3,648.5 L252.3,646.2 L259.3,643.9 L266.2,641.7 L273.2,639.6 L280.2,637.7 L287.2,635.9 L294.2,634.3 L301.1,633 L308.1,632 L315.1,631.2 L322.1,630.7 L329.1,630.5 L336,630.6 L343,631 L350,631.7 M63,975 L68,974.7 L73,973.9 L77.9,972.8 L82.9,971.3 L87.9,969.5 L92.9,967.3 L97.9,964.9 L102.8,962.2 L107.8,959.3 L112.8,956.2 L117.8,953.1 L122.8,950 L127.7,946.8 L132.7,943.7 L137.7,940.8 L142.7,938 L147.6,935.4 L152.6,933.1 L157.6,931.1 L162.6,929.5 L167.6,928.2 L172.5,927.2 L177.5,926.7 L182.5,926.6 L189.5,925.4 L196.5,924.5 L203.4,923.8 L210.4,923.3 L217.4,923.1 L224.4,923.2 L231.4,923.6 L238.3,924.2 L245.3,925.1 L252.3,926.2 L259.3,927.5 L266.2,929 L273.2,930.7 L280.2,932.5 L287.2,934.5 L294.2,936.5 L301.1,938.5 L308.1,940.6 L315.1,942.6 L322.1,944.6 L329.1,946.5 L336,948.2 L343,949.8 L350,951.2 M63,954.9 L68,952.4 L73,950 L77.9,947.6 L82.9,945.3 L87.9,943.1 L92.9,941.2 L97.9,939.4 L102.8,937.9 L107.8,936.7 L112.8,935.7 L117.8,935.1 L122.8,934.7 L127.7,934.7 L132.7,935 L137.7,935.7 L142.7,936.6 L147.6,937.8 L152.6,939.4 L157.6,941.1 L162.6,943.1 L167.6,945.2 L172.5,947.5 L177.5,949.9 L182.5,952.3 L189.5,950.9 L196.5,949.7 L203.4,948.8 L210.4,948.1 L217.4,947.7 L224.4,947.5 L231.4,947.7 L238.3,948.1 L245.3,948.7 L252.3,949.7 L259.3,950.8 L266.2,952.2 L273.2,953.8 L280.2,955.6 L287.2,957.5 L294.2,959.5 L301.1,961.6 L308.1,963.7 L315.1,965.8 L322.1,967.9 L329.1,969.9 L336,971.8 L343,973.6 L350,975.2 M63,930 L68,930.4 L73,930.5 L77.9,930.4 L82.9,930 L87.9,929.4 L92.9,928.5 L97.9,927.4 L102.8,926.1 L107.8,924.6 L112.8,923 L117.8,921.2 L122.8,919.3 L127.7,917.3 L132.7,915.3 L137.7,913.3 L142.7,911.3 L147.6,909.4 L152.6,907.6 L157.6,906 L162.6,904.5 L167.6,903.1 L172.5,902 L177.5,901.1 L182.5,900.5 L189.5,900.2 L196.5,900.3 L203.4,900.8 L210.4,901.5 L217.4,902.6 L224.4,903.9 L231.4,905.6 L238.3,907.4 L245.3,909.5 L252.3,911.7 L259.3,914.1 L266.2,916.6 L273.2,919.1 L280.2,921.6 L287.2,924.1 L294.2,926.5 L301.1,928.8 L308.1,930.9 L315.1,932.9 L322.1,934.6 L329.1,936 L336,937.2 L343,938 L350,938.6 M63,824.8 L68,824.9 L73,824.6 L77.9,824 L82.9,823.2 L87.9,822.1 L92.9,820.7 L97.9,819.1 L102.8,817.3 L107.8,815.3 L112.8,813.2 L117.8,811 L122.8,808.7 L127.7,806.4 L132.7,804.2 L137.7,801.9 L142.7,799.8 L147.6,797.8 L152.6,796 L157.6,794.3 L162.6,792.9 L167.6,791.7 L172.5,790.8 L177.5,790.2 L182.5,789.9 L189.5,788.6 L196.5,787.2 L203.4,785.7 L210.4,784.1 L217.4,782.5 L224.4,780.7 L231.4,779 L238.3,777.3 L245.3,775.7 L252.3,774.1 L259.3,772.7 L266.2,771.3 L273.2,770.2 L280.2,769.1 L287.2,768.3 L294.2,767.7 L301.1,767.3 L308.1,767.2 L315.1,767.2 L322.1,767.5 L329.1,768 L336,768.7 L343,769.6 L350,770.7 M63,821.4 L68,824 L73,826.9 L77.9,830.2 L82.9,833.7 L87.9,837.5 L92.9,841.4 L97.9,845.4 L102.8,849.3 L107.8,853.3 L112.8,857.1 L117.8,860.7 L122.8,864 L127.7,867.1 L132.7,869.7 L137.7,872 L142.7,873.8 L147.6,875.2 L152.6,876 L157.6,876.3 L162.6,876.1 L167.6,875.4 L172.5,874.2 L177.5,872.5 L182.5,870.3 L189.5,867.9 L196.5,865.7 L203.4,863.8 L210.4,862.1 L217.4,860.7 L224.4,859.6 L231.4,858.9 L238.3,858.5 L245.3,858.5 L252.3,858.8 L259.3,859.5 L266.2,860.6 L273.2,861.9 L280.2,863.6 L287.2,865.6 L294.2,867.7 L301.1,870.1 L308.1,872.7 L315.1,875.4 L322.1,878.1 L329.1,880.9 L336,883.6 L343,886.3 L350,888.9 M63,809.7 L68,810 L73,810.3 L77.9,810.4 L82.9,810.4 L87.9,810.2 L92.9,809.9 L97.9,809.5 L102.8,809 L107.8,808.3 L112.8,807.6 L117.8,806.8 L122.8,805.9 L127.7,804.9 L132.7,803.9 L137.7,802.8 L142.7,801.8 L147.6,800.8 L152.6,799.8 L157.6,798.8 L162.6,797.9 L167.6,797.1 L172.5,796.4 L177.5,795.8 L182.5,795.3 L189.5,794.2 L196.5,793.4 L203.4,792.9 L210.4,792.8 L217.4,793 L224.4,793.6 L231.4,794.5 L238.3,795.7 L245.3,797.2 L252.3,798.9 L259.3,800.9 L266.2,803.2 L273.2,805.5 L280.2,808 L287.2,810.6 L294.2,813.3 L301.1,815.9 L308.1,818.4 L315.1,820.9 L322.1,823.2 L329.1,825.4 L336,827.3 L343,829 L350,830.5 M63,760.3 L68,758.2 L73,755.7 L77.9,752.9 L82.9,749.9 L87.9,746.6 L92.9,743.2 L97.9,739.7 L102.8,736.1 L107.8,732.6 L112.8,729.1 L117.8,725.8 L122.8,722.7 L127.7,719.8 L132.7,717.3 L137.7,715 L142.7,713.2 L147.6,711.8 L152.6,710.8 L157.6,710.2 L162.6,710.2 L167.6,710.5 L172.5,711.4 L177.5,712.7 L182.5,714.4 L189.5,712.5 L196.5,710.9 L203.4,709.8 L210.4,709 L217.4,708.7 L224.4,708.9 L231.4,709.5 L238.3,710.5 L245.3,712 L252.3,713.8 L259.3,716 L266.2,718.5 L273.2,721.3 L280.2,724.3 L287.2,727.5 L294.2,730.8 L301.1,734.2 L308.1,737.6 L315.1,740.9 L322.1,744.2 L329.1,747.2 L336,750.1 L343,752.7 L350,755 M63,532.9 L68,531.3 L73,530 L77.9,529.2 L82.9,528.9 L87.9,529.1 L92.9,529.7 L97.9,530.8 L102.8,532.4 L107.8,534.3 L112.8,536.6 L117.8,539.3 L122.8,542.3 L127.7,545.5 L132.7,548.9 L137.7,552.5 L142.7,556.1 L147.6,559.7 L152.6,563.3 L157.6,566.7 L162.6,570 L167.6,573.1 L172.5,575.9 L177.5,578.3 L182.5,580.4 L189.5,582.3 L196.5,584.1 L203.4,585.8 L210.4,587.4 L217.4,588.8 L224.4,590 L231.4,591 L238.3,591.8 L245.3,592.3 L252.3,592.6 L259.3,592.7 L266.2,592.4 L273.2,592 L280.2,591.2 L287.2,590.3 L294.2,589.1 L301.1,587.8 L308.1,586.2 L315.1,584.6 L322.1,582.8 L329.1,580.9 L336,579 L343,577 L350,575.1 M63,784.4 L68,783.7 L73,783.3 L77.9,783.2 L82.9,783.4 L87.9,784 L92.9,784.9 L97.9,786.2 L102.8,787.7 L107.8,789.5 L112.8,791.5 L117.8,793.7 L122.8,796.1 L127.7,798.6 L132.7,801.2 L137.7,803.8 L142.7,806.4 L147.6,808.9 L152.6,811.3 L157.6,813.7 L162.6,815.8 L167.6,817.7 L172.5,819.3 L177.5,820.7 L182.5,821.8 L189.5,821.8 L196.5,821.8 L203.4,821.8 L210.4,821.9 L217.4,822 L224.4,822.2 L231.4,822.4 L238.3,822.5 L245.3,822.8 L252.3,823 L259.3,823.2 L266.2,823.5 L273.2,823.7 L280.2,824 L287.2,824.2 L294.2,824.5 L301.1,824.7 L308.1,824.9 L315.1,825.1 L322.1,825.3 L329.1,825.4 L336,825.5 L343,825.6 L350,825.7 M63,601 L68,600.5 L73,600.3 L77.9,600.4 L82.9,600.8 L87.9,601.5 L92.9,602.5 L97.9,603.7 L102.8,605.2 L107.8,606.8 L112.8,608.7 L117.8,610.7 L122.8,612.8 L127.7,615.1 L132.7,617.3 L137.7,619.6 L142.7,621.9 L147.6,624 L152.6,626.1 L157.6,628 L162.6,629.8 L167.6,631.3 L172.5,632.6 L177.5,633.7 L182.5,634.4 L189.5,635.4 L196.5,636.1 L203.4,636.4 L210.4,636.5 L217.4,636.3 L224.4,635.7 L231.4,634.9 L238.3,633.8 L245.3,632.4 L252.3,630.8 L259.3,629 L266.2,627 L273.2,624.9 L280.2,622.7 L287.2,620.3 L294.2,618 L301.1,615.7 L308.1,613.4 L315.1,611.2 L322.1,609.1 L329.1,607.2 L336,605.5 L343,604.1 L350,602.8 M63,731.1 L68,733.3 L73,735.8 L77.9,738.6 L82.9,741.7 L87.9,744.9 L92.9,748.4 L97.9,751.9 L102.8,755.4 L107.8,759 L112.8,762.4 L117.8,765.7 L122.8,768.8 L127.7,771.6 L132.7,774.1 L137.7,776.3 L142.7,778.1 L147.6,779.5 L152.6,780.4 L157.6,780.9 L162.6,781 L167.6,780.5 L172.5,779.6 L177.5,778.3 L182.5,776.5 L189.5,778 L196.5,779.7 L203.4,781.5 L210.4,783.4 L217.4,785.4 L224.4,787.4 L231.4,789.3 L238.3,791.3 L245.3,793.2 L252.3,794.9 L259.3,796.6 L266.2,798 L273.2,799.3 L280.2,800.4 L287.2,801.2 L294.2,801.8 L301.1,802.2 L308.1,802.3 L315.1,802.1 L322.1,801.7 L329.1,801 L336,800.1 L343,798.9 L350,797.6 M63,830.8 L68,828.7 L73,827.1 L77.9,826 L82.9,825.4 L87.9,825.3 L92.9,825.7 L97.9,826.6 L102.8,828 L107.8,829.9 L112.8,832.2 L117.8,834.9 L122.8,837.9 L127.7,841.3 L132.7,844.9 L137.7,848.7 L142.7,852.6 L147.6,856.5 L152.6,860.5 L157.6,864.3 L162.6,868 L167.6,871.5 L172.5,874.7 L177.5,877.5 L182.5,880 L189.5,881.4 L196.5,882.7 L203.4,883.9 L210.4,885 L217.4,886.1 L224.4,886.9 L231.4,887.7 L238.3,888.3 L245.3,888.7 L252.3,888.9 L259.3,888.9 L266.2,888.8 L273.2,888.4 L280.2,887.9 L287.2,887.3 L294.2,886.4 L301.1,885.5 L308.1,884.4 L315.1,883.2 L322.1,881.9 L329.1,880.6 L336,879.2 L343,877.8 L350,876.4 M63,636.5 L68,637.5 L73,638.2 L77.9,638.7 L82.9,639 L87.9,639.1 L92.9,639 L97.9,638.6 L102.8,638.1 L107.8,637.3 L112.8,636.3 L117.8,635.1 L122.8,633.8 L127.7,632.4 L132.7,630.8 L137.7,629.2 L142.7,627.5 L147.6,625.8 L152.6,624 L157.6,622.4 L162.6,620.7 L167.6,619.2 L172.5,617.8 L177.5,616.5 L182.5,615.4 L189.5,614.3 L196.5,613 L203.4,611.6 L210.4,610 L217.4,608.3 L224.4,606.5 L231.4,604.6 L238.3,602.7 L245.3,600.9 L252.3,599 L259.3,597.2 L266.2,595.6 L273.2,594 L280.2,592.6 L287.2,591.4 L294.2,590.4 L301.1,589.6 L308.1,589 L315.1,588.7 L322.1,588.6 L329.1,588.8 L336,589.2 L343,589.8 L350,590.7 M63,546.9 L68,549 L73,551.2 L77.9,553.5 L82.9,555.7 L87.9,557.8 L92.9,559.9 L97.9,561.8 L102.8,563.6 L107.8,565.1 L112.8,566.5 L117.8,567.6 L122.8,568.5 L127.7,569.1 L132.7,569.4 L137.7,569.4 L142.7,569.1 L147.6,568.6 L152.6,567.7 L157.6,566.6 L162.6,565.3 L167.6,563.7 L172.5,562 L177.5,560.1 L182.5,558 L189.5,556.9 L196.5,555.6 L203.4,554.2 L210.4,552.6 L217.4,551.1 L224.4,549.4 L231.4,547.8 L238.3,546.2 L245.3,544.6 L252.3,543 L259.3,541.6 L266.2,540.3 L273.2,539.1 L280.2,538.1 L287.2,537.3 L294.2,536.6 L301.1,536.2 L308.1,536 L315.1,535.9 L322.1,536.1 L329.1,536.6 L336,537.2 L343,538 L350,539 M63,761.3 L68,759.2 L73,757 L77.9,754.9 L82.9,752.9 L87.9,751 L92.9,749.2 L97.9,747.6 L102.8,746.1 L107.8,744.9 L112.8,743.9 L117.8,743.2 L122.8,742.8 L127.7,742.6 L132.7,742.7 L137.7,743 L142.7,743.7 L147.6,744.6 L152.6,745.7 L157.6,747.1 L162.6,748.6 L167.6,750.4 L172.5,752.3 L177.5,754.3 L182.5,756.3 L189.5,757.1 L196.5,758.2 L203.4,759.6 L210.4,761.4 L217.4,763.4 L224.4,765.8 L231.4,768.3 L238.3,771.1 L245.3,773.9 L252.3,776.9 L259.3,779.8 L266.2,782.8 L273.2,785.7 L280.2,788.5 L287.2,791.1 L294.2,793.5 L301.1,795.6 L308.1,797.5 L315.1,799 L322.1,800.2 L329.1,801 L336,801.4 L343,801.5 L350,801.2 M63,782 L68,780.9 L73,779.6 L77.9,778.2 L82.9,776.6 L87.9,774.9 L92.9,773.2 L97.9,771.4 L102.8,769.5 L107.8,767.7 L112.8,766 L117.8,764.3 L122.8,762.7 L127.7,761.2 L132.7,759.9 L137.7,758.8 L142.7,757.8 L147.6,757.1 L152.6,756.6 L157.6,756.3 L162.6,756.3 L167.6,756.5 L172.5,757 L177.5,757.6 L182.5,758.5 L189.5,759.8 L196.5,761.4 L203.4,763.4 L210.4,765.6 L217.4,768.2 L224.4,771 L231.4,774 L238.3,777.1 L245.3,780.3 L252.3,783.5 L259.3,786.7 L266.2,789.9 L273.2,792.8 L280.2,795.6 L287.2,798.2 L294.2,800.5 L301.1,802.4 L308.1,804 L315.1,805.3 L322.1,806.1 L329.1,806.5 L336,806.5 L343,806.1 L350,805.2" fill="none" stroke="#8a8a8a" stroke-opacity="0.22" stroke-width="2.3" stroke-linejoin="round"/><path d="M113.4,552.6C114.6,553 118.2,554.1 120.6,554.6C123,555 125.4,555.1 127.8,555.4C130.2,555.6 132.6,555.7 135,556.1C137.4,556.5 139.8,557 142.2,557.7C144.6,558.4 147,559.5 149.4,560.4C151.8,561.3 154.2,562.5 156.6,563.3C159,564.1 161.4,564.8 163.8,565.1C166.2,565.5 168.6,565.5 171,565.5C173.4,565.5 175.8,565.3 178.2,565C180.6,564.8 183,564.4 185.4,563.9C187.8,563.5 190.2,562.8 192.6,562.4C195,562 197.4,562 199.8,561.6C202.2,561.3 204.6,561.1 207,560.5C209.4,560 211.8,559.1 214.2,558.2C216.6,557.4 219,556.1 221.4,555.2C223.8,554.2 227.4,552.9 228.6,552.4" fill="none" stroke="#f06b60" stroke-width="4.6" stroke-linecap="round" stroke-dasharray="0 5.06"/><path d="M63,555.9C64.2,555.8 67.8,555.7 70.2,555.6C72.6,555.4 75,555.2 77.4,555C79.8,554.9 82.2,554.8 84.6,554.8C87,554.9 89.4,555.1 91.8,555.3C94.2,555.6 96.6,556 99,556.4C101.4,556.7 103.8,557 106.2,557.2C108.6,557.4 111,557.4 113.4,557.5C115.8,557.5 118.2,557.4 120.6,557.5C123,557.6 125.4,557.7 127.8,558.1C130.2,558.5 132.6,559.1 135,559.8C137.4,560.5 139.8,561.4 142.2,562.2C144.6,562.9 147,563.7 149.4,564.3C151.8,564.9 154.2,565.3 156.6,565.8C159,566.2 161.4,566.5 163.8,567.1C166.2,567.6 168.6,568.2 171,568.9C173.4,569.6 175.8,570.8 178.2,571.5C180.6,572.2 183,572.9 185.4,573.1C187.8,573.3 190.2,572.9 192.6,572.6C195,572.2 197.4,571.6 199.8,571C202.2,570.5 204.6,569.7 207,569.1C209.4,568.5 211.8,568 214.2,567.6C216.6,567.2 219,566.9 221.4,566.5C223.8,566.2 226.2,565.8 228.6,565.3C231,564.7 233.4,564 235.8,563.2C238.2,562.4 240.6,561.3 243,560.4C245.4,559.5 247.8,558.5 250.2,557.7C252.6,557 255,556.4 257.4,555.9C259.8,555.4 262.2,555.2 264.6,554.9C267,554.6 269.4,554.3 271.8,553.9C274.2,553.5 277.8,552.7 279,552.4" fill="none" stroke="#f06b60" stroke-width="5.2" stroke-linecap="round" stroke-dasharray="0 5.72"/><path d="M315,552.3C316.2,552.3 319.8,552.5 322.2,552.4C324.6,552.4 327,552.2 329.4,552.1C331.8,552.1 334.2,552 336.6,552.1C339,552.2 341.4,552.5 343.8,552.7C346.2,552.9 349.8,553.2 351,553.3" fill="none" stroke="#f06b60" stroke-width="5.2" stroke-linecap="round" stroke-dasharray="0 5.72"/><path d="M63,557.7C64.2,558 67.8,558.7 70.2,559.4C72.6,560.2 75,561.2 77.4,561.9C79.8,562.7 82.2,563.4 84.6,563.9C87,564.3 89.4,564.5 91.8,564.7C94.2,564.8 96.6,564.8 99,564.9C101.4,565.1 103.8,565.3 106.2,565.7C108.6,566 111,566.7 113.4,567.2C115.8,567.7 118.2,568.3 120.6,568.7C123,569.1 125.4,569.3 127.8,569.4C130.2,569.5 132.6,569.2 135,569.1C137.4,569 139.8,568.6 142.2,568.6C144.6,568.6 147,568.6 149.4,568.9C151.8,569.2 154.2,569.7 156.6,570.2C159,570.6 161.4,571.2 163.8,571.6C166.2,571.9 168.6,572.2 171,572.3C173.4,572.4 175.8,572.4 178.2,572.3C180.6,572.2 183,571.9 185.4,571.7C187.8,571.5 190.2,571 192.6,570.9C195,570.8 197.4,571 199.8,571.1C202.2,571.1 204.6,571.4 207,571.3C209.4,571.3 211.8,571.1 214.2,570.9C216.6,570.6 219,570.1 221.4,569.8C223.8,569.5 226.2,569.1 228.6,569C231,568.9 233.4,569.1 235.8,569.3C238.2,569.4 240.6,569.9 243,570.2C245.4,570.5 247.8,570.8 250.2,570.8C252.6,570.9 255,570.7 257.4,570.4C259.8,570.2 262.2,569.6 264.6,569.3C267,568.9 269.4,568.5 271.8,568.3C274.2,568.1 276.6,568.1 279,568.1C281.4,568.1 283.8,568.3 286.2,568.3C288.6,568.2 291,568.1 293.4,567.9C295.8,567.7 298.2,567.4 300.6,567C303,566.6 305.4,565.9 307.8,565.5C310.2,565 312.6,564.5 315,564.2C317.4,563.9 319.8,563.9 322.2,563.8C324.6,563.8 327,563.9 329.4,563.8C331.8,563.7 334.2,563.5 336.6,563.2C339,562.8 341.4,562.2 343.8,561.6C346.2,561 349.8,560 351,559.7" fill="none" stroke="#f06b60" stroke-width="3.4" stroke-linecap="round" stroke-dasharray="0 3.74"/><path d="M63,556.9C64.2,556.9 67.8,557 70.2,557C72.6,557 75,556.6 77.4,556.7C79.8,556.8 82.2,557.1 84.6,557.7C87,558.3 89.4,559.4 91.8,560.2C94.2,561 96.6,561.9 99,562.4C101.4,562.9 103.8,562.9 106.2,563.1C108.6,563.3 111,563.3 113.4,563.9C115.8,564.4 118.2,565.4 120.6,566.3C123,567.2 125.4,568.5 127.8,569.3C130.2,570 132.6,570.5 135,570.9C137.4,571.3 139.8,571.2 142.2,571.7C144.6,572.1 147,572.8 149.4,573.7C151.8,574.6 154.2,576 156.6,577C159,577.9 161.4,578.8 163.8,579.3C166.2,579.8 168.6,579.8 171,580.2C173.4,580.6 175.8,581.1 178.2,581.5C180.6,582 183,582.9 185.4,583C187.8,583.1 190.2,582.8 192.6,582.2C195,581.7 197.4,580.7 199.8,579.8C202.2,578.9 204.6,577.6 207,576.9C209.4,576.2 211.8,575.8 214.2,575.4C216.6,575.1 219,575.1 221.4,574.6C223.8,574.1 226.2,573.4 228.6,572.5C231,571.5 233.4,570.1 235.8,569.1C238.2,568.1 240.6,567.3 243,566.7C245.4,566.1 247.8,566.1 250.2,565.6C252.6,565.2 255,564.8 257.4,564C259.8,563.2 262.2,561.8 264.6,560.8C267,559.8 269.4,558.5 271.8,557.8C274.2,557.1 276.6,556.9 279,556.5C281.4,556.2 283.8,556.1 286.2,555.6C288.6,555 292.2,553.7 293.4,553.3" fill="none" stroke="#f06b60" stroke-width="3.4" stroke-linecap="round" stroke-dasharray="0 3.74"/><path d="M63,568.2C64.2,568.5 67.8,569.4 70.2,570C72.6,570.7 75,571.3 77.4,571.9C79.8,572.6 82.2,573.3 84.6,574C87,574.8 89.4,575.7 91.8,576.5C94.2,577.3 96.6,578.2 99,578.9C101.4,579.5 103.8,580.1 106.2,580.5C108.6,580.9 111,581 113.4,581.3C115.8,581.6 118.2,581.7 120.6,582C123,582.3 125.4,582.7 127.8,583C130.2,583.2 132.6,583.5 135,583.6C137.4,583.7 139.8,583.7 142.2,583.6C144.6,583.6 147,583.3 149.4,583.3C151.8,583.3 154.2,583.4 156.6,583.6C159,583.8 161.4,584.2 163.8,584.5C166.2,584.8 168.6,585.1 171,585.3C173.4,585.6 175.8,585.8 178.2,586C180.6,586.1 183,586.1 185.4,586.1C187.8,586.1 190.2,585.8 192.6,585.7C195,585.7 197.4,585.8 199.8,585.8C202.2,585.8 204.6,585.7 207,585.7C209.4,585.6 211.8,585.4 214.2,585.3C216.6,585.3 219,585.3 221.4,585.3C223.8,585.4 226.2,585.7 228.6,585.8C231,585.9 233.4,586 235.8,585.9C238.2,585.9 240.6,585.6 243,585.3C245.4,585 247.8,584.5 250.2,584.1C252.6,583.8 255,583.5 257.4,583.2C259.8,582.8 262.2,582.6 264.6,582.2C267,581.7 269.4,581.1 271.8,580.5C274.2,579.8 276.6,578.8 279,578C281.4,577.2 283.8,576.3 286.2,575.6C288.6,574.9 291,574.2 293.4,573.8C295.8,573.3 298.2,573.2 300.6,572.8C303,572.4 305.4,571.9 307.8,571.5C310.2,571 312.6,570.5 315,570.1C317.4,569.8 319.8,569.6 322.2,569.5C324.6,569.5 327,569.7 329.4,569.8C331.8,569.9 334.2,570 336.6,570.1C339,570.2 341.4,570.2 343.8,570.3C346.2,570.4 349.8,570.6 351,570.7" fill="none" stroke="#f06b60" stroke-width="3.4" stroke-linecap="round" stroke-dasharray="0 3.74"/><path d="M63,584.4C64.2,584.3 67.8,583.8 70.2,583.8C72.6,583.8 75,584 77.4,584.3C79.8,584.5 82.2,585 84.6,585.4C87,585.7 89.4,586.1 91.8,586.3C94.2,586.5 96.6,586.6 99,586.7C101.4,586.7 103.8,586.6 106.2,586.7C108.6,586.7 111,586.7 113.4,586.9C115.8,587.1 118.2,587.4 120.6,587.8C123,588.2 125.4,588.8 127.8,589.4C130.2,589.9 132.6,590.5 135,591C137.4,591.5 139.8,592 142.2,592.3C144.6,592.7 147,592.9 149.4,593.1C151.8,593.4 154.2,593.6 156.6,593.9C159,594.3 161.4,594.7 163.8,595.2C166.2,595.7 168.6,596.3 171,597C173.4,597.6 175.8,598.5 178.2,599C180.6,599.4 183,599.7 185.4,599.6C187.8,599.4 190.2,598.6 192.6,598.1C195,597.5 197.4,596.8 199.8,596.2C202.2,595.5 204.6,594.9 207,594.4C209.4,593.8 211.8,593.4 214.2,593C216.6,592.6 219,592.4 221.4,592C223.8,591.6 226.2,591.2 228.6,590.7C231,590.1 233.4,589.4 235.8,588.7C238.2,587.9 240.6,587 243,586.2C245.4,585.4 247.8,584.5 250.2,583.8C252.6,583.1 255,582.5 257.4,582C259.8,581.5 262.2,581.1 264.6,580.7C267,580.3 269.4,580 271.8,579.6C274.2,579.1 276.6,578.6 279,578.1C281.4,577.5 283.8,576.8 286.2,576.1C288.6,575.5 291,574.7 293.4,574.3C295.8,573.9 298.2,573.8 300.6,573.7C303,573.6 305.4,573.7 307.8,573.8C310.2,573.9 312.6,574.2 315,574.3C317.4,574.4 319.8,574.5 322.2,574.4C324.6,574.4 327,574.2 329.4,574C331.8,573.8 334.2,573.5 336.6,573.2C339,573 341.4,572.8 343.8,572.7C346.2,572.5 349.8,572.6 351,572.6" fill="none" stroke="#f06b60" stroke-width="4.6" stroke-linecap="round" stroke-dasharray="0 5.06"/><path d="M63,587.9C64.2,587.6 67.8,586.4 70.2,586.2C72.6,585.9 75,586 77.4,586.4C79.8,586.8 82.2,587.7 84.6,588.5C87,589.3 89.4,590.4 91.8,591C94.2,591.6 96.6,592.1 99,592.2C101.4,592.3 103.8,591.9 106.2,591.7C108.6,591.4 111,590.8 113.4,590.7C115.8,590.6 118.2,590.6 120.6,591C123,591.4 125.4,592.3 127.8,593.1C130.2,594 132.6,595.2 135,596C137.4,596.8 139.8,597.5 142.2,597.9C144.6,598.2 147,598.1 149.4,598.1C151.8,598 154.2,597.6 156.6,597.6C159,597.6 161.4,597.7 163.8,598.2C166.2,598.8 168.6,599.7 171,600.7C173.4,601.7 175.8,603.4 178.2,604.2C180.6,605.1 183,605.9 185.4,606C187.8,606 190.2,605.2 192.6,604.5C195,603.9 197.4,602.8 199.8,602.1C202.2,601.4 204.6,600.7 207,600.4C209.4,600.2 211.8,600.3 214.2,600.6C216.6,600.8 219,601.5 221.4,601.8C223.8,602.1 226.2,602.5 228.6,602.3C231,602.2 233.4,601.7 235.8,601.1C238.2,600.5 240.6,599.3 243,598.5C245.4,597.7 247.8,596.8 250.2,596.4C252.6,595.9 255,595.8 257.4,595.8C259.8,595.8 262.2,596.3 264.6,596.5C267,596.7 269.4,597 271.8,596.7C274.2,596.5 276.6,596 279,595.2C281.4,594.4 283.8,593.1 286.2,592.1C288.6,591.1 291,589.8 293.4,589.3C295.8,588.7 298.2,588.7 300.6,588.7C303,588.8 305.4,589.3 307.8,589.6C310.2,589.9 312.6,590.4 315,590.4C317.4,590.4 319.8,590.1 322.2,589.5C324.6,589 327,587.9 329.4,587.1C331.8,586.3 334.2,585.3 336.6,584.7C339,584.1 341.4,583.8 343.8,583.8C346.2,583.8 349.8,584.4 351,584.6" fill="none" stroke="#f06b60" stroke-width="2.8" stroke-linecap="round" stroke-dasharray="0 3.08"/><path d="M63,595.6C64.2,595.4 67.8,594.8 70.2,594.6C72.6,594.4 75,594.3 77.4,594.4C79.8,594.5 82.2,594.8 84.6,595.2C87,595.6 89.4,596.1 91.8,596.6C94.2,597.2 96.6,597.9 99,598.6C101.4,599.3 103.8,600.1 106.2,600.8C108.6,601.5 111,602.3 113.4,602.9C115.8,603.6 118.2,604.3 120.6,604.9C123,605.6 125.4,606.2 127.8,606.8C130.2,607.4 132.6,608 135,608.6C137.4,609.2 139.8,609.9 142.2,610.5C144.6,611.1 147,611.8 149.4,612.3C151.8,612.9 154.2,613.5 156.6,613.9C159,614.4 161.4,614.8 163.8,615.1C166.2,615.4 168.6,615.5 171,615.6C173.4,615.6 175.8,615.7 178.2,615.4C180.6,615.2 183,614.8 185.4,614.2C187.8,613.6 190.2,612.5 192.6,611.8C195,611 197.4,610.3 199.8,609.7C202.2,609.1 204.6,608.6 207,608.1C209.4,607.7 211.8,607.4 214.2,607.1C216.6,606.8 219,606.6 221.4,606.4C223.8,606.2 226.2,606.1 228.6,605.9C231,605.8 233.4,605.6 235.8,605.5C238.2,605.4 240.6,605.3 243,605.2C245.4,605.2 247.8,605.1 250.2,605.2C252.6,605.2 255,605.3 257.4,605.4C259.8,605.6 262.2,605.8 264.6,606.1C267,606.3 269.4,606.6 271.8,606.8C274.2,607.1 276.6,607.3 279,607.5C281.4,607.6 283.8,607.6 286.2,607.6C288.6,607.5 291,607.3 293.4,607.1C295.8,606.9 298.2,606.7 300.6,606.4C303,606.1 305.4,605.7 307.8,605.2C310.2,604.8 312.6,604.3 315,603.9C317.4,603.4 319.8,603 322.2,602.6C324.6,602.2 327,601.8 329.4,601.5C331.8,601.2 334.2,600.9 336.6,600.6C339,600.4 341.4,600.1 343.8,599.8C346.2,599.6 349.8,599.2 351,599" fill="none" stroke="#f06b60" stroke-width="5.2" stroke-linecap="round" stroke-dasharray="0 5.72"/><path d="M63,605.4C64.2,605.4 67.8,605.5 70.2,605.8C72.6,606.1 75,606.6 77.4,607C79.8,607.4 82.2,607.9 84.6,608.2C87,608.5 89.4,608.7 91.8,608.8C94.2,608.9 96.6,608.9 99,608.9C101.4,608.9 103.8,608.8 106.2,608.8C108.6,608.9 111,608.9 113.4,609.2C115.8,609.4 118.2,609.7 120.6,610.1C123,610.5 125.4,611.1 127.8,611.5C130.2,612 132.6,612.6 135,613C137.4,613.4 139.8,613.8 142.2,614.1C144.6,614.4 147,614.6 149.4,614.9C151.8,615.2 154.2,615.4 156.6,615.8C159,616.2 161.4,616.6 163.8,617.1C166.2,617.7 168.6,618.4 171,619.1C173.4,619.8 175.8,620.9 178.2,621.5C180.6,622.1 183,622.6 185.4,622.7C187.8,622.8 190.2,622.2 192.6,621.9C195,621.5 197.4,621 199.8,620.5C202.2,619.9 204.6,619.3 207,618.8C209.4,618.3 211.8,617.8 214.2,617.4C216.6,616.9 219,616.6 221.4,616.3C223.8,615.9 226.2,615.7 228.6,615.3C231,615 233.4,614.6 235.8,614.1C238.2,613.6 240.6,613 243,612.3C245.4,611.5 247.8,610.7 250.2,609.8C252.6,609 255,608.1 257.4,607.3C259.8,606.5 262.2,605.7 264.6,605.1C267,604.4 269.4,603.9 271.8,603.5C274.2,603 276.6,602.7 279,602.3C281.4,601.9 283.8,601.5 286.2,601.1C288.6,600.7 291,600.1 293.4,599.7C295.8,599.3 298.2,599 300.6,598.7C303,598.4 305.4,598.1 307.8,597.9C310.2,597.6 312.6,597.5 315,597.5C317.4,597.5 319.8,597.6 322.2,597.8C324.6,598 327,598.3 329.4,598.5C331.8,598.7 334.2,599 336.6,599.1C339,599.2 341.4,599.2 343.8,599.2C346.2,599.1 349.8,598.8 351,598.7" fill="none" stroke="#f06b60" stroke-width="5.2" stroke-linecap="round" stroke-dasharray="0 5.72"/><path d="M63,609C64.2,608.8 67.8,608 70.2,608C72.6,607.9 75,608.4 77.4,608.9C79.8,609.5 82.2,610.6 84.6,611.3C87,612.1 89.4,613.1 91.8,613.7C94.2,614.2 96.6,614.6 99,614.8C101.4,615 103.8,614.8 106.2,614.7C108.6,614.7 111,614.5 113.4,614.6C115.8,614.8 118.2,615.1 120.6,615.8C123,616.4 125.4,617.4 127.8,618.3C130.2,619.2 132.6,620.4 135,621.3C137.4,622.1 139.8,622.8 142.2,623.3C144.6,623.7 147,623.8 149.4,623.9C151.8,624 154.2,623.7 156.6,623.8C159,623.9 161.4,624 163.8,624.4C166.2,624.9 168.6,625.7 171,626.5C173.4,627.3 175.8,628.6 178.2,629.3C180.6,630 183,630.7 185.4,630.7C187.8,630.7 190.2,630 192.6,629.3C195,628.6 197.4,627.6 199.8,626.7C202.2,625.9 204.6,624.9 207,624.2C209.4,623.6 211.8,623.2 214.2,623C216.6,622.8 219,622.9 221.4,622.9C223.8,622.9 226.2,623 228.6,622.8C231,622.6 233.4,622.2 235.8,621.5C238.2,620.8 240.6,619.7 243,618.7C245.4,617.8 247.8,616.5 250.2,615.6C252.6,614.7 255,613.9 257.4,613.4C259.8,612.9 262.2,612.8 264.6,612.7C267,612.5 269.4,612.7 271.8,612.5C274.2,612.4 276.6,612.2 279,611.7C281.4,611.2 283.8,610.3 286.2,609.4C288.6,608.6 291,607.2 293.4,606.5C295.8,605.7 298.2,605.1 300.6,604.8C303,604.4 305.4,604.4 307.8,604.5C310.2,604.7 312.6,605.2 315,605.5C317.4,605.7 319.8,606.2 322.2,606.3C324.6,606.3 327,606.2 329.4,605.8C331.8,605.5 334.2,604.8 336.6,604.2C339,603.7 341.4,603 343.8,602.7C346.2,602.3 349.8,602.4 351,602.3" fill="none" stroke="#f06b60" stroke-width="2.8" stroke-linecap="round" stroke-dasharray="0 3.08"/><path d="M63,613.8C64.2,613.8 67.8,613.4 70.2,613.7C72.6,613.9 75,614.5 77.4,615.3C79.8,616 82.2,617.3 84.6,618.3C87,619.2 89.4,620.3 91.8,620.9C94.2,621.4 96.6,621.7 99,621.8C101.4,621.9 103.8,621.5 106.2,621.5C108.6,621.5 111,621.4 113.4,621.7C115.8,622 118.2,622.7 120.6,623.3C123,624 125.4,624.9 127.8,625.4C130.2,625.9 132.6,626.2 135,626.3C137.4,626.3 139.8,625.9 142.2,625.7C144.6,625.5 147,625 149.4,625.1C151.8,625.1 154.2,625.4 156.6,625.9C159,626.3 161.4,627.3 163.8,628C166.2,628.7 168.6,629.5 171,629.9C173.4,630.3 175.8,630.6 178.2,630.5C180.6,630.4 183,629.9 185.4,629.5C187.8,629.1 190.2,628.3 192.6,628.1C195,628 197.4,628.3 199.8,628.5C202.2,628.7 204.6,629.3 207,629.4C209.4,629.5 211.8,629.5 214.2,629.2C216.6,628.9 219,628.2 221.4,627.7C223.8,627.2 226.2,626.5 228.6,626.2C231,626 233.4,626 235.8,626.1C238.2,626.2 240.6,626.8 243,627C245.4,627.2 247.8,627.4 250.2,627.2C252.6,627 255,626.4 257.4,625.7C259.8,625.1 262.2,624 264.6,623.3C267,622.6 269.4,621.9 271.8,621.6C274.2,621.2 276.6,621.3 279,621.2C281.4,621.1 283.8,621.3 286.2,621C288.6,620.7 291,620.1 293.4,619.5C295.8,618.9 298.2,618 300.6,617.3C303,616.6 305.4,615.7 307.8,615.2C310.2,614.8 312.6,614.7 315,614.7C317.4,614.8 319.8,615.2 322.2,615.3C324.6,615.5 327,615.6 329.4,615.5C331.8,615.3 334.2,614.7 336.6,614.2C339,613.7 341.4,612.8 343.8,612.5C346.2,612.1 349.8,612.1 351,612" fill="none" stroke="#f06b60" stroke-width="4" stroke-linecap="round" stroke-dasharray="0 4.4"/><path d="M63,611.4C64.2,611.4 67.8,610.9 70.2,611.2C72.6,611.4 75,612 77.4,612.8C79.8,613.6 82.2,614.9 84.6,616.1C87,617.3 89.4,618.8 91.8,620C94.2,621.3 96.6,622.6 99,623.7C101.4,624.7 103.8,625.6 106.2,626.3C108.6,626.9 111,627.3 113.4,627.7C115.8,628 118.2,628.2 120.6,628.5C123,628.8 125.4,629 127.8,629.5C130.2,630 132.6,630.6 135,631.4C137.4,632.2 139.8,633.2 142.2,634.2C144.6,635.2 147,636.3 149.4,637.2C151.8,638.1 154.2,638.9 156.6,639.5C159,640 161.4,640.4 163.8,640.5C166.2,640.7 168.6,640.5 171,640.3C173.4,640.2 175.8,640 178.2,639.7C180.6,639.4 183,638.9 185.4,638.3C187.8,637.8 190.2,636.8 192.6,636.3C195,635.8 197.4,635.6 199.8,635.4C202.2,635.1 204.6,635.1 207,634.9C209.4,634.6 211.8,634.4 214.2,633.9C216.6,633.4 219,632.8 221.4,632C223.8,631.3 226.2,630.2 228.6,629.4C231,628.5 233.4,627.4 235.8,626.7C238.2,625.9 240.6,625.3 243,624.9C245.4,624.5 247.8,624.4 250.2,624.4C252.6,624.5 255,624.8 257.4,625.1C259.8,625.3 262.2,625.8 264.6,626C267,626.2 269.4,626.3 271.8,626.2C274.2,626.1 276.6,625.7 279,625.3C281.4,624.8 283.8,624 286.2,623.4C288.6,622.7 291,621.8 293.4,621.4C295.8,621 298.2,621 300.6,621C303,621 305.4,621.3 307.8,621.6C310.2,621.8 312.6,622.4 315,622.7C317.4,623.1 319.8,623.6 322.2,623.7C324.6,623.9 327,623.9 329.4,623.6C331.8,623.4 334.2,622.8 336.6,622.2C339,621.6 341.4,620.6 343.8,619.8C346.2,619 349.8,617.8 351,617.4" fill="none" stroke="#f06b60" stroke-width="3.4" stroke-linecap="round" stroke-dasharray="0 3.74"/><path d="M63,618.3C64.2,618.2 67.8,617.5 70.2,617.9C72.6,618.3 75,619.6 77.4,620.7C79.8,621.9 82.2,623.9 84.6,625.1C87,626.2 89.4,627.2 91.8,627.8C94.2,628.3 96.6,628.1 99,628.4C101.4,628.6 103.8,628.5 106.2,629.1C108.6,629.7 111,630.8 113.4,632.1C115.8,633.3 118.2,635.3 120.6,636.6C123,637.9 125.4,639.2 127.8,639.9C130.2,640.6 132.6,640.6 135,640.8C137.4,640.9 139.8,640.6 142.2,641C144.6,641.4 147,642 149.4,643C151.8,644 154.2,645.7 156.6,646.9C159,648.1 161.4,649.5 163.8,650.1C166.2,650.8 168.6,650.9 171,650.9C173.4,650.9 175.8,650.5 178.2,650.3C180.6,650.1 183,649.9 185.4,649.7C187.8,649.5 190.2,649.4 192.6,649.2C195,649.1 197.4,649.3 199.8,648.8C202.2,648.3 204.6,647.3 207,646.1C209.4,645 211.8,643 214.2,641.7C216.6,640.4 219,638.9 221.4,638.1C223.8,637.3 226.2,637.2 228.6,636.9C231,636.7 233.4,637 235.8,636.6C238.2,636.2 240.6,635.5 243,634.5C245.4,633.5 247.8,631.7 250.2,630.4C252.6,629.1 255,627.5 257.4,626.6C259.8,625.7 262.2,625.4 264.6,625.2C267,625 269.4,625.5 271.8,625.4C274.2,625.3 276.6,625.1 279,624.4C281.4,623.7 283.8,622.3 286.2,621.3C288.6,620.2 291,618.6 293.4,618C295.8,617.4 298.2,617.6 300.6,617.9C303,618.2 305.4,619.3 307.8,619.8C310.2,620.4 312.6,621.1 315,621.2C317.4,621.3 319.8,620.8 322.2,620.3C324.6,619.8 327,618.8 329.4,618.4C331.8,618 334.2,617.8 336.6,618.1C339,618.4 341.4,619.4 343.8,620.1C346.2,620.7 349.8,621.7 351,622" fill="none" stroke="#f06b60" stroke-width="2.8" stroke-linecap="round" stroke-dasharray="0 3.08"/><path d="M63,639.9C64.2,640.1 67.8,640.9 70.2,641.1C72.6,641.3 75,641 77.4,641C79.8,641 82.2,640.8 84.6,641.1C87,641.5 89.4,642.3 91.8,643.2C94.2,644 96.6,645.5 99,646.4C101.4,647.2 103.8,648 106.2,648.4C108.6,648.8 111,648.5 113.4,648.5C115.8,648.5 118.2,648.2 120.6,648.6C123,648.9 125.4,649.6 127.8,650.4C130.2,651.2 132.6,652.6 135,653.4C137.4,654.1 139.8,654.8 142.2,655C144.6,655.2 147,654.7 149.4,654.6C151.8,654.5 154.2,654 156.6,654.2C159,654.4 161.4,655 163.8,655.6C166.2,656.2 168.6,657.4 171,658C173.4,658.6 175.8,659.2 178.2,659C180.6,658.9 183,658 185.4,657.2C187.8,656.4 190.2,654.8 192.6,654.1C195,653.4 197.4,653.1 199.8,652.9C202.2,652.6 204.6,652.9 207,652.6C209.4,652.3 211.8,651.9 214.2,651.1C216.6,650.3 219,648.8 221.4,647.7C223.8,646.6 226.2,645.3 228.6,644.6C231,643.8 233.4,643.6 235.8,643.4C238.2,643.2 240.6,643.5 243,643.3C245.4,643.1 247.8,642.7 250.2,641.9C252.6,641.2 255,639.8 257.4,638.9C259.8,637.9 262.2,636.7 264.6,636.1C267,635.6 269.4,635.5 271.8,635.5C274.2,635.4 276.6,635.9 279,635.8C281.4,635.8 283.8,635.5 286.2,635C288.6,634.4 291,633.1 293.4,632.5C295.8,631.9 298.2,631.2 300.6,631.1C303,631 305.4,631.4 307.8,631.8C310.2,632.2 312.6,633.1 315,633.4C317.4,633.8 319.8,633.9 322.2,633.7C324.6,633.5 327,632.7 329.4,632.2C331.8,631.8 334.2,631.2 336.6,631.1C339,631.1 341.4,631.6 343.8,632C346.2,632.4 349.8,633.4 351,633.7" fill="none" stroke="#f06b60" stroke-width="5.2" stroke-linecap="round" stroke-dasharray="0 5.72"/><path d="M63,639.3C64.2,639.5 67.8,640.4 70.2,641C72.6,641.6 75,642.4 77.4,643C79.8,643.6 82.2,644.2 84.6,644.7C87,645.2 89.4,645.5 91.8,645.9C94.2,646.2 96.6,646.5 99,646.7C101.4,647 103.8,647.2 106.2,647.5C108.6,647.8 111,648 113.4,648.3C115.8,648.5 118.2,648.8 120.6,649C123,649.2 125.4,649.3 127.8,649.5C130.2,649.6 132.6,649.7 135,649.8C137.4,649.9 139.8,649.9 142.2,650.1C144.6,650.3 147,650.5 149.4,650.8C151.8,651.1 154.2,651.5 156.6,652.1C159,652.6 161.4,653.2 163.8,653.9C166.2,654.6 168.6,655.4 171,656.2C173.4,656.9 175.8,657.9 178.2,658.5C180.6,659.1 183,659.6 185.4,659.7C187.8,659.8 190.2,659.3 192.6,659.2C195,659 197.4,658.9 199.8,658.8C202.2,658.7 204.6,658.7 207,658.6C209.4,658.6 211.8,658.6 214.2,658.5C216.6,658.5 219,658.4 221.4,658.2C223.8,657.9 226.2,657.6 228.6,657.2C231,656.8 233.4,656.3 235.8,655.7C238.2,655.1 240.6,654.4 243,653.7C245.4,653 247.8,652.2 250.2,651.5C252.6,650.8 255,650.1 257.4,649.3C259.8,648.6 262.2,647.9 264.6,647.1C267,646.4 269.4,645.6 271.8,644.8C274.2,644 276.6,643.1 279,642.3C281.4,641.4 283.8,640.5 286.2,639.6C288.6,638.8 291,637.8 293.4,637.3C295.8,636.8 298.2,636.6 300.6,636.4C303,636.2 305.4,636.1 307.8,636.1C310.2,636 312.6,636.1 315,636.3C317.4,636.4 319.8,636.5 322.2,636.7C324.6,636.9 327,637 329.4,637.2C331.8,637.3 334.2,637.5 336.6,637.6C339,637.8 341.4,638 343.8,638.2C346.2,638.4 349.8,638.9 351,639" fill="none" stroke="#f06b60" stroke-width="2.8" stroke-linecap="round" stroke-dasharray="0 3.08"/><path d="M63,645.4C64.2,645.6 67.8,646.2 70.2,646.7C72.6,647.1 75,647.8 77.4,648.4C79.8,649.1 82.2,649.8 84.6,650.5C87,651.2 89.4,651.9 91.8,652.5C94.2,653.1 96.6,653.7 99,654.1C101.4,654.6 103.8,654.9 106.2,655.2C108.6,655.4 111,655.5 113.4,655.5C115.8,655.6 118.2,655.5 120.6,655.6C123,655.6 125.4,655.7 127.8,655.9C130.2,656 132.6,656.3 135,656.6C137.4,657 139.8,657.5 142.2,657.9C144.6,658.4 147,659 149.4,659.5C151.8,660 154.2,660.6 156.6,661.1C159,661.7 161.4,662.3 163.8,662.9C166.2,663.6 168.6,664.3 171,665.2C173.4,666 175.8,667.2 178.2,667.9C180.6,668.7 183,669.5 185.4,669.7C187.8,670 190.2,669.6 192.6,669.4C195,669.2 197.4,668.9 199.8,668.5C202.2,668.1 204.6,667.5 207,666.9C209.4,666.3 211.8,665.6 214.2,664.9C216.6,664.2 219,663.4 221.4,662.7C223.8,661.9 226.2,661.2 228.6,660.4C231,659.7 233.4,658.9 235.8,658.1C238.2,657.2 240.6,656.3 243,655.3C245.4,654.4 247.8,653.3 250.2,652.3C252.6,651.3 255,650.2 257.4,649.3C259.8,648.4 262.2,647.5 264.6,646.8C267,646.1 269.4,645.5 271.8,645.1C274.2,644.6 276.6,644.3 279,644C281.4,643.7 283.8,643.5 286.2,643.2C288.6,643 291,642.6 293.4,642.6C295.8,642.5 298.2,642.7 300.6,642.8C303,642.9 305.4,643 307.8,643.1C310.2,643.2 312.6,643.4 315,643.6C317.4,643.8 319.8,644 322.2,644.1C324.6,644.2 327,644.3 329.4,644.2C331.8,644.1 334.2,643.9 336.6,643.6C339,643.3 341.4,642.7 343.8,642.2C346.2,641.7 349.8,640.7 351,640.4" fill="none" stroke="#f06b60" stroke-width="3.4" stroke-linecap="round" stroke-dasharray="0 3.74"/><path d="M63,656.7C64.2,656.9 67.8,657.4 70.2,657.7C72.6,658.1 75,658.5 77.4,658.7C79.8,658.9 82.2,659.1 84.6,659.1C87,659.1 89.4,659 91.8,659C94.2,659 96.6,659 99,659.1C101.4,659.3 103.8,659.6 106.2,659.9C108.6,660.3 111,660.8 113.4,661.2C115.8,661.7 118.2,662.1 120.6,662.5C123,662.8 125.4,663 127.8,663.2C130.2,663.5 132.6,663.5 135,663.7C137.4,663.9 139.8,664.1 142.2,664.5C144.6,665 147,665.6 149.4,666.3C151.8,667 154.2,668 156.6,669C159,670 161.4,671.1 163.8,672.1C166.2,673.1 168.6,674.1 171,674.9C173.4,675.7 175.8,676.6 178.2,677.1C180.6,677.6 183,677.8 185.4,677.7C187.8,677.7 190.2,677 192.6,676.8C195,676.6 197.4,676.5 199.8,676.4C202.2,676.3 204.6,676.4 207,676.2C209.4,676.1 211.8,676 214.2,675.6C216.6,675.2 219,674.6 221.4,673.9C223.8,673.3 226.2,672.3 228.6,671.4C231,670.5 233.4,669.5 235.8,668.6C238.2,667.8 240.6,666.9 243,666.2C245.4,665.5 247.8,664.9 250.2,664.3C252.6,663.6 255,663.1 257.4,662.3C259.8,661.6 262.2,660.8 264.6,659.9C267,659 269.4,657.9 271.8,656.8C274.2,655.8 276.6,654.6 279,653.6C281.4,652.6 283.8,651.7 286.2,651C288.6,650.3 291,649.7 293.4,649.5C295.8,649.3 298.2,649.6 300.6,649.7C303,649.8 305.4,650 307.8,650.1C310.2,650.1 312.6,650.1 315,650C317.4,650 319.8,649.8 322.2,649.7C324.6,649.6 327,649.4 329.4,649.5C331.8,649.6 334.2,649.8 336.6,650.1C339,650.4 341.4,650.9 343.8,651.3C346.2,651.7 349.8,652.4 351,652.6" fill="none" stroke="#f06b60" stroke-width="3.4" stroke-linecap="round" stroke-dasharray="0 3.74"/><path d="M63,667.1C64.2,667.1 67.8,666.8 70.2,666.9C72.6,667 75,667.3 77.4,667.7C79.8,668.1 82.2,668.8 84.6,669.5C87,670.1 89.4,671 91.8,671.8C94.2,672.6 96.6,673.5 99,674.3C101.4,675 103.8,675.7 106.2,676.3C108.6,676.8 111,677.3 113.4,677.6C115.8,677.9 118.2,678 120.6,678.2C123,678.3 125.4,678.3 127.8,678.5C130.2,678.6 132.6,678.7 135,678.9C137.4,679.2 139.8,679.5 142.2,679.9C144.6,680.3 147,680.8 149.4,681.3C151.8,681.7 154.2,682.3 156.6,682.7C159,683.2 161.4,683.6 163.8,683.9C166.2,684.2 168.6,684.3 171,684.4C173.4,684.5 175.8,684.6 178.2,684.4C180.6,684.3 183,684 185.4,683.6C187.8,683.2 190.2,682.5 192.6,682.1C195,681.7 197.4,681.5 199.8,681.4C202.2,681.3 204.6,681.3 207,681.4C209.4,681.5 211.8,681.7 214.2,681.9C216.6,682 219,682.2 221.4,682.2C223.8,682.2 226.2,682.1 228.6,682C231,681.8 233.4,681.5 235.8,681.1C238.2,680.8 240.6,680.3 243,679.9C245.4,679.5 247.8,679.1 250.2,678.8C252.6,678.5 255,678.3 257.4,678.1C259.8,677.9 262.2,677.9 264.6,677.9C267,677.8 269.4,677.9 271.8,677.8C274.2,677.7 276.6,677.6 279,677.4C281.4,677.2 283.8,676.8 286.2,676.4C288.6,675.9 291,675.2 293.4,674.7C295.8,674.2 298.2,673.7 300.6,673.2C303,672.7 305.4,672.2 307.8,671.8C310.2,671.5 312.6,671.2 315,671.1C317.4,671 319.8,671.1 322.2,671.2C324.6,671.3 327,671.6 329.4,671.8C331.8,672 334.2,672.4 336.6,672.5C339,672.7 342.6,672.9 343.8,673" fill="none" stroke="#f06b60" stroke-width="5.2" stroke-linecap="round" stroke-dasharray="0 5.72"/><path d="M63,669.1C64.2,668.8 67.8,667.9 70.2,667.4C72.6,667 75,666.3 77.4,666.2C79.8,666.2 82.2,666.4 84.6,667C87,667.6 89.4,668.7 91.8,669.7C94.2,670.7 96.6,672 99,672.9C101.4,673.7 103.8,674.4 106.2,674.8C108.6,675.2 111,675.1 113.4,675.3C115.8,675.5 118.2,675.5 120.6,676.1C123,676.6 125.4,677.5 127.8,678.6C130.2,679.7 132.6,681.3 135,682.6C137.4,683.9 139.8,685.5 142.2,686.5C144.6,687.5 147,688.1 149.4,688.5C151.8,689 154.2,688.8 156.6,689C159,689.2 161.4,689.1 163.8,689.6C166.2,690 168.6,690.8 171,691.7C173.4,692.5 175.8,694 178.2,694.7C180.6,695.4 183,696.1 185.4,695.8C187.8,695.6 190.2,694.2 192.6,693.1C195,692 197.4,690.4 199.8,689.1C202.2,687.9 204.6,686.6 207,685.8C209.4,685 211.8,684.6 214.2,684.3C216.6,683.9 219,684.1 221.4,683.8C223.8,683.6 226.2,683.3 228.6,682.7C231,682 233.4,681 235.8,679.9C238.2,678.9 240.6,677.5 243,676.6C245.4,675.7 247.8,674.9 250.2,674.6C252.6,674.3 255,674.5 257.4,674.7C259.8,674.9 262.2,675.5 264.6,675.7C267,675.8 269.4,675.9 271.8,675.6C274.2,675.3 276.6,674.5 279,673.9C281.4,673.2 283.8,672.1 286.2,671.6C288.6,671.1 291,670.6 293.4,670.8C295.8,670.9 298.2,671.8 300.6,672.4C303,673 305.4,673.8 307.8,674.1C310.2,674.4 312.6,674.5 315,674.2C317.4,673.8 319.8,672.9 322.2,672.2C324.6,671.5 327,670.5 329.4,669.9C331.8,669.4 334.2,669 336.6,668.9C339,668.9 342.6,669.3 343.8,669.4" fill="none" stroke="#f06b60" stroke-width="5.2" stroke-linecap="round" stroke-dasharray="0 5.72"/><path d="M70.2,689.3C71.4,689.4 75,689.6 77.4,689.7C79.8,689.9 82.2,690 84.6,690.2C87,690.5 89.4,690.7 91.8,691.1C94.2,691.4 96.6,691.9 99,692.3C101.4,692.8 103.8,693.4 106.2,693.9C108.6,694.4 111,695 113.4,695.4C115.8,695.8 118.2,696.2 120.6,696.5C123,696.8 125.4,697 127.8,697.1C130.2,697.2 132.6,697.2 135,697.2C137.4,697.2 139.8,697.1 142.2,697.1C144.6,697.1 147,697.1 149.4,697.2C151.8,697.4 154.2,697.5 156.6,697.8C159,698 161.4,698.3 163.8,698.6C166.2,698.9 168.6,699.2 171,699.5C173.4,699.7 175.8,700 178.2,700C180.6,700 183,699.8 185.4,699.4C187.8,698.9 190.2,698 192.6,697.3C195,696.6 197.4,695.8 199.8,695.1C202.2,694.4 204.6,693.7 207,693.2C209.4,692.6 211.8,692.2 214.2,691.8C216.6,691.4 219,691.1 221.4,690.8C223.8,690.5 226.2,690.3 228.6,690C231,689.8 233.4,689.5 235.8,689.1C238.2,688.8 240.6,688.4 243,687.9C245.4,687.4 247.8,686.8 250.2,686.3C252.6,685.7 255,685.1 257.4,684.6C259.8,684.1 262.2,683.6 264.6,683.2C267,682.9 269.4,682.6 271.8,682.4C274.2,682.2 276.6,682.1 279,682.1C281.4,682 283.8,682 286.2,682C288.6,682 291,681.9 293.4,681.9C295.8,681.9 298.2,682 300.6,681.9C303,681.8 305.4,681.7 307.8,681.5C310.2,681.3 312.6,681.1 315,680.9C317.4,680.7 319.8,680.5 322.2,680.4C324.6,680.3 328.2,680.3 329.4,680.3" fill="none" stroke="#f06b60" stroke-width="4" stroke-linecap="round" stroke-dasharray="0 4.4"/><path d="M63,682C64.2,682.2 67.8,683.1 70.2,683.5C72.6,684 75,684.5 77.4,684.6C79.8,684.7 82.2,684.5 84.6,684.2C87,683.9 89.4,683.2 91.8,683C94.2,682.7 96.6,682.4 99,682.6C101.4,682.7 103.8,683.3 106.2,684C108.6,684.7 111,685.9 113.4,686.9C115.8,687.8 118.2,689 120.6,689.7C123,690.4 125.4,691 127.8,691.3C130.2,691.7 132.6,691.6 135,691.8C137.4,691.9 139.8,691.9 142.2,692.3C144.6,692.8 147,693.4 149.4,694.4C151.8,695.4 154.2,696.9 156.6,698.2C159,699.6 161.4,701.4 163.8,702.7C166.2,704 168.6,705.2 171,706.1C173.4,706.9 175.8,707.5 178.2,707.6C180.6,707.7 183,707.2 185.4,706.6C187.8,706 190.2,704.6 192.6,704C195,703.3 197.4,702.9 199.8,702.6C202.2,702.4 204.6,702.5 207,702.3C209.4,702.2 211.8,702.1 214.2,701.6C216.6,701.1 219,700.3 221.4,699.2C223.8,698.1 226.2,696.6 228.6,695.2C231,693.7 233.4,692 235.8,690.7C238.2,689.5 240.6,688.3 243,687.6C245.4,686.8 247.8,686.5 250.2,686.2C252.6,685.9 255,686 257.4,685.8C259.8,685.6 262.2,685.4 264.6,684.9C267,684.4 269.4,683.5 271.8,682.6C274.2,681.7 276.6,680.4 279,679.5C281.4,678.5 283.8,677.5 286.2,677C288.6,676.5 291,676.3 293.4,676.5C295.8,676.8 298.2,677.9 300.6,678.6C303,679.3 305.4,680.3 307.8,680.7C310.2,681.2 312.6,681.5 315,681.5C317.4,681.4 319.8,680.9 322.2,680.5C324.6,680 328.2,679 329.4,678.7" fill="none" stroke="#f06b60" stroke-width="4" stroke-linecap="round" stroke-dasharray="0 4.4"/><path d="M64,551.5C73.3,551.5 100.3,551.5 120,551.5C139.7,551.5 160.3,551.5 182,551.5C203.7,551.5 222,551.5 250,551.5C278,551.5 333.3,551.5 350,551.5" fill="none" stroke="#f06b60" stroke-width="4.4" stroke-linecap="round" stroke-dasharray="0 4.84"/><path d="M170,574.6C173.3,574.5 184,574.3 190,574C196,573.7 197.7,573 206,573C214.3,573 230.2,573.3 240,574C249.8,574.7 260.8,576.5 265,577" fill="none" stroke="#0a6aff" stroke-width="4.4" stroke-linecap="round" stroke-dasharray="0 4.84"/><path d="M170,574.6C173.3,574.5 184,574.3 190,574C196,573.7 197.7,573 206,573C214.3,573 230.2,573.3 240,574C249.8,574.7 260.8,576.5 265,577" fill="none" stroke="#f06b60" stroke-width="1.8" stroke-linecap="round" stroke-dasharray="0 4.84"/><path d="M164.8,600 L166.2,600.3 L167.9,600.7 L170.1,601 L172.4,601.4 L174.9,601.8 L177.5,602.2 L179.9,602.6 L182.2,603 L184.5,603 L187,603 L189.6,603 L192.1,603.1 L194.5,603.1 L196.6,603.1 L198.4,603 L199.8,603 L200.2,595 L198.9,594.8 L197.1,594.6 L195,594.3 L192.6,594.1 L190.1,593.8 L187.6,593.5 L185.1,593.3 L182.8,593 L180.5,593.1 L178,593.2 L175.4,593.3 L172.9,593.4 L170.5,593.6 L168.3,593.7 L166.5,593.8 L165.2,594Z" fill="#f06b60"/><path d="M64,626.7C73.3,626.7 100.3,626.7 120,626.7C139.7,626.8 166.6,627 182,627C197.4,627 201.2,627.2 212.6,627C224,626.8 237.4,626.3 250.3,625.8C263.2,625.3 283.4,624.3 290,624" fill="none" stroke="#0a6aff" stroke-width="4" stroke-linecap="round" stroke-dasharray="0 4.4"/><path d="M64,626.7C73.3,626.7 100.3,626.7 120,626.7C139.7,626.8 166.6,627 182,627C197.4,627 201.2,627.2 212.6,627C224,626.8 237.4,626.3 250.3,625.8C263.2,625.3 283.4,624.3 290,624" fill="none" stroke="#f06b60" stroke-width="1.6" stroke-linecap="round" stroke-dasharray="0 4.4"/><path d="M85,666C88.1,666 97.8,666.7 103.8,666C109.8,665.3 116.1,663.1 121.3,661.6C126.5,660.1 132.7,657.8 135,657" fill="none" stroke="#f06b60" stroke-width="5.6" stroke-linecap="round" stroke-dasharray="0 6.16"/><path d="M255.3,663.5C261.6,661.4 280.4,659.4 293,651C305.6,642.6 321.8,620.4 330.6,613.3C339.4,606.2 343.2,609.1 345.7,608.3" fill="none" stroke="#0a6aff" stroke-width="4" stroke-linecap="round" stroke-dasharray="0 4.4"/><path d="M255.3,663.5C261.6,661.4 280.4,659.4 293,651C305.6,642.6 321.8,620.4 330.6,613.3C339.4,606.2 343.2,609.1 345.7,608.3" fill="none" stroke="#f06b60" stroke-width="1.6" stroke-linecap="round" stroke-dasharray="0 4.4"/><path d="M180,678.3C186.4,677 205.5,674.1 218.3,670.7C231.1,667.3 245.1,661.3 256.6,657.9C268.1,654.5 276.7,652.4 287.3,650.2C297.9,648.1 314.6,645.9 320,645" fill="none" stroke="#0a6aff" stroke-width="4" stroke-linecap="round" stroke-dasharray="0 4.4"/><path d="M180,678.3C186.4,677 205.5,674.1 218.3,670.7C231.1,667.3 245.1,661.3 256.6,657.9C268.1,654.5 276.7,652.4 287.3,650.2C297.9,648.1 314.6,645.9 320,645" fill="none" stroke="#f06b60" stroke-width="1.6" stroke-linecap="round" stroke-dasharray="0 4.4"/><path d="M64,676C71.7,677 95.7,680 110,682C124.3,684 138,686.7 150,688C162,689.3 168.7,690 182,690C195.3,690 215.4,690 230,688C244.6,686 257.7,681.2 269.4,678.3C281.1,675.4 289.9,672.4 300,670.7C310.1,669 325,668.5 330,668" fill="none" stroke="#0a6aff" stroke-width="3.6" stroke-linecap="round" stroke-dasharray="0 3.96"/><path d="M64,676C71.7,677 95.7,680 110,682C124.3,684 138,686.7 150,688C162,689.3 168.7,690 182,690C195.3,690 215.4,690 230,688C244.6,686 257.7,681.2 269.4,678.3C281.1,675.4 289.9,672.4 300,670.7C310.1,669 325,668.5 330,668" fill="none" stroke="#f06b60" stroke-width="1.6" stroke-linecap="round" stroke-dasharray="0 3.96"/><path d="M64,692.3C67,692.6 74.3,693.4 82,694.4C89.7,695.4 100.3,696.6 110,698C119.7,699.4 130,701.7 140,703C150,704.3 165,705.5 170,706" fill="none" stroke="#f06b60" stroke-width="3.6" stroke-linecap="round" stroke-dasharray="0 3.96"/><path d="M125.7,690C129.8,691 140.9,693.8 150,696C159.1,698.2 170.4,702.2 180.4,703.2C190.4,704.2 205.1,702.2 210,702" fill="none" stroke="#0a6aff" stroke-width="3.2" stroke-linecap="round" stroke-dasharray="0 3.52"/><path d="M125.7,690C129.8,691 140.9,693.8 150,696C159.1,698.2 170.4,702.2 180.4,703.2C190.4,704.2 205.1,702.2 210,702" fill="none" stroke="#f06b60" stroke-width="1.6" stroke-linecap="round" stroke-dasharray="0 3.52"/><path d="M63,685.7C69.8,686.1 93.3,686.1 103.8,687.9C114.2,689.7 118.4,693.3 125.7,696.6C133,699.9 138.5,704.3 147.6,707.6C156.7,710.9 168.6,714.8 180.4,716.3C192.2,717.8 205.6,717.8 218.3,716.6C231,715.4 243.8,712 256.6,709C269.4,706 283.9,702.2 295,698.8C306.1,695.4 313.8,691.1 323,688.5C332.2,685.9 345.5,684.2 350,683.4" fill="none" stroke="#0a6aff" stroke-width="6.4" stroke-linecap="round" stroke-dasharray="0 7.04"/><path d="M63,685.7C69.8,686.1 93.3,686.1 103.8,687.9C114.2,689.7 118.4,693.3 125.7,696.6C133,699.9 138.5,704.3 147.6,707.6C156.7,710.9 168.6,714.8 180.4,716.3C192.2,717.8 205.6,717.8 218.3,716.6C231,715.4 243.8,712 256.6,709C269.4,706 283.9,702.2 295,698.8C306.1,695.4 313.8,691.1 323,688.5C332.2,685.9 345.5,684.2 350,683.4" fill="none" stroke="#f06b60" stroke-width="1.8" stroke-linecap="round" stroke-dasharray="0 7.04"/><path d="M63,692C69.8,692.3 93.3,692.3 103.8,694C114.2,695.7 118.4,699 125.7,702C133,705 138.5,709 147.6,712C156.7,715 170,718.5 180.4,720C190.8,721.5 205.1,720.8 210,721" fill="none" stroke="#0a6aff" stroke-width="5.2" stroke-linecap="round" stroke-dasharray="0 5.72"/><path d="M63,692C69.8,692.3 93.3,692.3 103.8,694C114.2,695.7 118.4,699 125.7,702C133,705 138.5,709 147.6,712C156.7,715 170,718.5 180.4,720C190.8,721.5 205.1,720.8 210,721" fill="none" stroke="#f06b60" stroke-width="1.8" stroke-linecap="round" stroke-dasharray="0 5.72"/><path d="M63,722.9C68,722.5 82.3,718.2 92.8,720.7C103.2,723.2 114.8,734.2 125.7,738.2C136.7,742.2 149.4,743.5 158.5,744.8C167.6,746.1 174.3,745 180.4,745.9C186.5,746.8 186.9,752.2 195.3,749.9C203.8,747.6 220,737.1 231.1,732C242.2,726.9 251.2,723.9 261.8,719.2C272.4,714.5 284.8,707.3 295,703.9C305.2,700.5 313.8,699.2 323,698.8C332.2,698.4 345.5,700.9 350,701.3" fill="none" stroke="#0a6aff" stroke-width="6.6" stroke-linecap="round" stroke-dasharray="0 7.26"/><path d="M63,722.9C68,722.5 82.3,718.2 92.8,720.7C103.2,723.2 114.8,734.2 125.7,738.2C136.7,742.2 149.4,743.5 158.5,744.8C167.6,746.1 174.3,745 180.4,745.9C186.5,746.8 186.9,752.2 195.3,749.9C203.8,747.6 220,737.1 231.1,732C242.2,726.9 251.2,723.9 261.8,719.2C272.4,714.5 284.8,707.3 295,703.9C305.2,700.5 313.8,699.2 323,698.8C332.2,698.4 345.5,700.9 350,701.3" fill="none" stroke="#f06b60" stroke-width="1.8" stroke-linecap="round" stroke-dasharray="0 7.26"/><path d="M63,727C68,726.7 82.3,722.5 92.8,725C103.2,727.5 114.8,738 125.7,742C136.7,746 149.4,747.5 158.5,748.8C167.6,750.1 176.8,749.8 180.4,750" fill="none" stroke="#0a6aff" stroke-width="5.2" stroke-linecap="round" stroke-dasharray="0 5.72"/><path d="M63,727C68,726.7 82.3,722.5 92.8,725C103.2,727.5 114.8,738 125.7,742C136.7,746 149.4,747.5 158.5,748.8C167.6,750.1 176.8,749.8 180.4,750" fill="none" stroke="#f06b60" stroke-width="1.8" stroke-linecap="round" stroke-dasharray="0 5.72"/><path d="M63,731.7C68,731.3 84.1,728.8 92.8,729.5C101.5,730.2 107.1,733.1 115,736C122.9,738.9 131.7,744.3 140,747C148.3,749.7 158,750.5 165,752C172,753.5 179.2,755.3 182,756" fill="none" stroke="#0a6aff" stroke-width="5.2" stroke-linecap="round" stroke-dasharray="0 5.72"/><path d="M63,731.7C68,731.3 84.1,728.8 92.8,729.5C101.5,730.2 107.1,733.1 115,736C122.9,738.9 131.7,744.3 140,747C148.3,749.7 158,750.5 165,752C172,753.5 179.2,755.3 182,756" fill="none" stroke="#f06b60" stroke-width="1.8" stroke-linecap="round" stroke-dasharray="0 5.72"/><path d="M200,752C206.7,749.7 228.3,742.7 240,738C251.7,733.3 260.8,728.3 270,724C279.2,719.7 286.2,715.2 295,712C303.8,708.8 313.8,705.8 323,705C332.2,704.2 345.5,706.7 350,707" fill="none" stroke="#0a6aff" stroke-width="6" stroke-linecap="round" stroke-dasharray="0 6.6"/><path d="M200,752C206.7,749.7 228.3,742.7 240,738C251.7,733.3 260.8,728.3 270,724C279.2,719.7 286.2,715.2 295,712C303.8,708.8 313.8,705.8 323,705C332.2,704.2 345.5,706.7 350,707" fill="none" stroke="#f06b60" stroke-width="1.8" stroke-linecap="round" stroke-dasharray="0 6.6"/><path d="M282.2,734.5C287.3,732 301.6,722.6 312.9,719.2C324.2,715.8 343.8,715 350,714.1" fill="none" stroke="#0a6aff" stroke-width="5.6" stroke-linecap="round" stroke-dasharray="0 6.16"/><path d="M282.2,734.5C287.3,732 301.6,722.6 312.9,719.2C324.2,715.8 343.8,715 350,714.1" fill="none" stroke="#f06b60" stroke-width="1.8" stroke-linecap="round" stroke-dasharray="0 6.16"/><path d="M300,738C302.1,737 307.3,734.3 312.9,732C318.4,729.7 327.1,725.6 333.3,724.3C339.5,723 347.2,724.3 350,724.3" fill="none" stroke="#0a6aff" stroke-width="7.2" stroke-linecap="round" stroke-dasharray="0 7.92"/><path d="M300,738C302.1,737 307.3,734.3 312.9,732C318.4,729.7 327.1,725.6 333.3,724.3C339.5,723 347.2,724.3 350,724.3" fill="none" stroke="#f06b60" stroke-width="1.8" stroke-linecap="round" stroke-dasharray="0 7.92"/><path d="M205,752C209.3,749.5 221.6,741.7 231.1,737C240.6,732.3 251.2,728.7 261.8,724C272.4,719.3 284.8,712.3 295,709C305.2,705.7 313.8,704.5 323,704C332.2,703.5 345.5,705.7 350,706" fill="none" stroke="#0a6aff" stroke-width="6.8" stroke-linecap="round" stroke-dasharray="0 7.48"/><path d="M205,752C209.3,749.5 221.6,741.7 231.1,737C240.6,732.3 251.2,728.7 261.8,724C272.4,719.3 284.8,712.3 295,709C305.2,705.7 313.8,704.5 323,704C332.2,703.5 345.5,705.7 350,706" fill="none" stroke="#f06b60" stroke-width="1.8" stroke-linecap="round" stroke-dasharray="0 7.48"/><path d="M240,735C243.7,733.7 253.7,730.2 262,727C270.3,723.8 280.3,718.8 290,716C299.7,713.2 310,710.8 320,710C330,709.2 345,710.8 350,711" fill="none" stroke="#0a6aff" stroke-width="6" stroke-linecap="round" stroke-dasharray="0 6.6"/><path d="M240,735C243.7,733.7 253.7,730.2 262,727C270.3,723.8 280.3,718.8 290,716C299.7,713.2 310,710.8 320,710C330,709.2 345,710.8 350,711" fill="none" stroke="#f06b60" stroke-width="1.8" stroke-linecap="round" stroke-dasharray="0 6.6"/><path d="M305,745C308.3,743.3 317.5,737.5 325,735C332.5,732.5 345.8,730.8 350,730" fill="none" stroke="#0a6aff" stroke-width="6.4" stroke-linecap="round" stroke-dasharray="0 7.04"/><path d="M305,745C308.3,743.3 317.5,737.5 325,735C332.5,732.5 345.8,730.8 350,730" fill="none" stroke="#f06b60" stroke-width="1.8" stroke-linecap="round" stroke-dasharray="0 7.04"/><path d="M256.6,713C263,711.3 283.9,706.3 295,703C306.1,699.7 313.8,695.5 323,693C332.2,690.5 345.5,688.8 350,688" fill="none" stroke="#0a6aff" stroke-width="6" stroke-linecap="round" stroke-dasharray="0 6.6"/><path d="M256.6,713C263,711.3 283.9,706.3 295,703C306.1,699.7 313.8,695.5 323,693C332.2,690.5 345.5,688.8 350,688" fill="none" stroke="#f06b60" stroke-width="1.8" stroke-linecap="round" stroke-dasharray="0 6.6"/><path d="M289.9,752.4C295,750.7 310.5,744.5 320.5,742.2C330.5,739.9 345.1,739 350,738.4" fill="none" stroke="#0a6aff" stroke-width="5.2" stroke-linecap="round" stroke-dasharray="0 5.72"/><path d="M289.9,752.4C295,750.7 310.5,744.5 320.5,742.2C330.5,739.9 345.1,739 350,738.4" fill="none" stroke="#f06b60" stroke-width="1.8" stroke-linecap="round" stroke-dasharray="0 5.72"/><path d="M63,754C67.3,755.3 80.9,759.7 89,762C97.1,764.3 102.2,766.3 111.6,768C121,769.7 133.7,770.7 145.5,772C157.3,773.3 176.3,775.3 182.5,776" fill="none" stroke="#0a6aff" stroke-width="5.2" stroke-linecap="round" stroke-dasharray="0 5.72"/><path d="M63,754C67.3,755.3 80.9,759.7 89,762C97.1,764.3 102.2,766.3 111.6,768C121,769.7 133.7,770.7 145.5,772C157.3,773.3 176.3,775.3 182.5,776" fill="none" stroke="#f06b60" stroke-width="1.8" stroke-linecap="round" stroke-dasharray="0 5.72"/><path d="M120,752C125,753.7 139.6,758 150,762C160.4,766 177.1,773.7 182.5,776" fill="none" stroke="#0a6aff" stroke-width="6" stroke-linecap="round" stroke-dasharray="0 6.6"/><path d="M120,752C125,753.7 139.6,758 150,762C160.4,766 177.1,773.7 182.5,776" fill="none" stroke="#f06b60" stroke-width="1.8" stroke-linecap="round" stroke-dasharray="0 6.6"/><path d="M140,755C143.3,756.5 152.9,760.5 160,764C167.1,767.5 178.8,774 182.5,776" fill="none" stroke="#0a6aff" stroke-width="5.2" stroke-linecap="round" stroke-dasharray="0 5.72"/><path d="M140,755C143.3,756.5 152.9,760.5 160,764C167.1,767.5 178.8,774 182.5,776" fill="none" stroke="#f06b60" stroke-width="1.8" stroke-linecap="round" stroke-dasharray="0 5.72"/><path d="M182.5,776C186.3,774.6 197.4,770.4 205.5,767.7C213.6,765 220.3,762.5 231,760C241.7,757.5 257.9,754.7 269.4,752.4C280.9,750.1 294.9,747.1 300,746" fill="none" stroke="#0a6aff" stroke-width="6" stroke-linecap="round" stroke-dasharray="0 6.6"/><path d="M182.5,776C186.3,774.6 197.4,770.4 205.5,767.7C213.6,765 220.3,762.5 231,760C241.7,757.5 257.9,754.7 269.4,752.4C280.9,750.1 294.9,747.1 300,746" fill="none" stroke="#f06b60" stroke-width="1.8" stroke-linecap="round" stroke-dasharray="0 6.6"/><path d="M182.5,776C187.9,775.3 204.8,773.8 215,772C225.2,770.2 234.8,767.3 243.9,765C253,762.7 260,760.2 269.4,758C278.8,755.8 286.6,754.2 300,752C313.4,749.8 341.7,746.2 350,745" fill="none" stroke="#0a6aff" stroke-width="4.8" stroke-linecap="round" stroke-dasharray="0 5.28"/><path d="M182.5,776C187.9,775.3 204.8,773.8 215,772C225.2,770.2 234.8,767.3 243.9,765C253,762.7 260,760.2 269.4,758C278.8,755.8 286.6,754.2 300,752C313.4,749.8 341.7,746.2 350,745" fill="none" stroke="#f06b60" stroke-width="1.8" stroke-linecap="round" stroke-dasharray="0 5.28"/><path d="M182.5,776C187.1,775.2 200.4,773.3 210,771C219.6,768.7 231.7,765.2 240,762C248.3,758.8 256.7,753.7 260,752" fill="none" stroke="#0a6aff" stroke-width="5.6" stroke-linecap="round" stroke-dasharray="0 6.16"/><path d="M182.5,776C187.1,775.2 200.4,773.3 210,771C219.6,768.7 231.7,765.2 240,762C248.3,758.8 256.7,753.7 260,752" fill="none" stroke="#f06b60" stroke-width="1.8" stroke-linecap="round" stroke-dasharray="0 6.16"/><path d="M243.9,783C248.2,780.5 260.9,772.4 269.4,767.7C277.9,763 290.7,757.1 295,755" fill="none" stroke="#0a6aff" stroke-width="4" stroke-linecap="round" stroke-dasharray="0 4.4"/><path d="M243.9,783C248.2,780.5 260.9,772.4 269.4,767.7C277.9,763 290.7,757.1 295,755" fill="none" stroke="#f06b60" stroke-width="1.8" stroke-linecap="round" stroke-dasharray="0 4.4"/><path d="M64,783.5C70,783.5 85.7,782.9 100,783.5C114.3,784.1 141.7,786.3 150,786.9" fill="none" stroke="#0a6aff" stroke-width="4" stroke-linecap="round" stroke-dasharray="0 4.4"/><path d="M64,783.5C70,783.5 85.7,782.9 100,783.5C114.3,784.1 141.7,786.3 150,786.9" fill="none" stroke="#f06b60" stroke-width="1.8" stroke-linecap="round" stroke-dasharray="0 4.4"/><path d="M100,745C103.3,745.8 113.3,748.2 120,750C126.7,751.8 136.7,755 140,756" fill="none" stroke="#0a6aff" stroke-width="4.4" stroke-linecap="round" stroke-dasharray="0 4.84"/><path d="M100,745C103.3,745.8 113.3,748.2 120,750C126.7,751.8 136.7,755 140,756" fill="none" stroke="#f06b60" stroke-width="1.8" stroke-linecap="round" stroke-dasharray="0 4.84"/><path d="M103.8,708.7C109.3,709.6 127.5,711.8 136.6,714.2C145.7,716.6 151.2,720.7 158.5,722.9C165.8,725.1 171.8,727.3 180.4,727.3C189,727.3 199.8,725.9 210,722.9C220.2,719.9 229.3,713.9 241.3,709C253.3,704.1 271.1,696.7 282.2,693.7C293.3,690.7 300.9,692.8 307.7,691.1C314.5,689.4 315.9,685.1 323,683.4C330.1,681.7 345.5,681.3 350,680.9" fill="none" stroke="#f06b60" stroke-width="4.4" stroke-linecap="round" stroke-dasharray="0 4.84"/><path d="M307.7,767.7C311.4,768.1 322.9,769.1 330,770C337.1,770.9 346.7,772.4 350,772.9" fill="none" stroke="#f06b60" stroke-width="3.6" stroke-linecap="round" stroke-dasharray="0 3.96"/><path d="M64,740C68.3,740.3 80.7,740.7 90,742C99.3,743.3 115,747 120,748" fill="none" stroke="#f06b60" stroke-width="3.2" stroke-linecap="round" stroke-dasharray="0 3.52"/><path d="M144.7,769.5 L146.2,770 L148.3,770.6 L150.7,771.2 L153.5,772 L156.3,772.7 L159.2,773.5 L161.9,774.2 L164.3,774.9 L166.5,775.6 L168.6,776.3 L170.8,777.1 L172.9,777.9 L175.2,778.6 L177.5,779.2 L179.9,779.7 L182.5,780 L185,779.7 L187.5,779.3 L189.8,778.7 L192,777.9 L194.2,777.2 L196.4,776.4 L198.5,775.6 L200.7,774.9 L203.2,774.1 L205.9,773.3 L208.8,772.3 L211.6,771.4 L214.4,770.6 L216.8,769.7 L218.9,769 L220.4,768.5 L219.6,765.5 L218,765.8 L215.9,766.1 L213.3,766.6 L210.5,767.1 L207.6,767.6 L204.7,768.2 L201.8,768.7 L199.3,769.1 L196.9,769.6 L194.5,770.1 L192.3,770.7 L190.1,771.2 L188.1,771.6 L186.2,771.9 L184.3,772 L182.5,772 L180.7,772 L178.9,771.9 L176.9,771.6 L174.9,771.1 L172.7,770.6 L170.5,770.1 L168.1,769.5 L165.7,769.1 L163.1,768.7 L160.2,768.3 L157.3,767.9 L154.3,767.5 L151.5,767.2 L149,766.9 L146.9,766.7 L145.3,766.5Z" fill="#0a6aff"/><path d="M77.4,790.9C78.6,790.8 82.2,790.9 84.6,790.2C87,789.6 89.4,788 91.8,787C94.2,786 96.6,784.6 99,784.1C101.4,783.6 103.8,783.8 106.2,783.9C108.6,784 111,784.8 113.4,784.7C115.8,784.6 118.2,783.9 120.6,783.2C123,782.5 125.4,781 127.8,780.5C130.2,779.9 132.6,779.7 135,779.9C137.4,780.1 139.8,781.2 142.2,781.6C144.6,782 147,782.5 149.4,782.3C151.8,782.1 154.2,781.1 156.6,780.6C159,780.1 161.4,779.3 163.8,779.4C166.2,779.4 168.6,780.3 171,780.9C173.4,781.5 175.8,782.5 178.2,782.9C180.6,783.2 183,783 185.4,783.1C187.8,783.1 190.2,782.8 192.6,783.1C195,783.5 197.4,784.2 199.8,785.1C202.2,786.1 204.6,787.9 207,788.9C209.4,789.9 211.8,790.8 214.2,791.1C216.6,791.3 219,790.7 221.4,790.6C223.8,790.5 226.2,790.1 228.6,790.5C231,790.8 233.4,792 235.8,792.8C238.2,793.6 240.6,794.9 243,795.2C245.4,795.6 249,795 250.2,794.9" fill="none" stroke="#f06b60" stroke-width="3.2" stroke-linecap="round" stroke-dasharray="0 3.52"/><path d="M70.2,792.3C71.4,792.3 75,791.9 77.4,792.1C79.8,792.2 82.2,792.8 84.6,793.1C87,793.3 89.4,793.6 91.8,793.4C94.2,793.3 96.6,792.7 99,792.1C101.4,791.5 103.8,790.4 106.2,789.8C108.6,789.3 111,788.8 113.4,788.7C115.8,788.7 118.2,789.2 120.6,789.7C123,790.2 125.4,791.2 127.8,791.7C130.2,792.2 132.6,792.7 135,792.6C137.4,792.6 139.8,792.1 142.2,791.6C144.6,791.2 147,790.3 149.4,789.9C151.8,789.5 154.2,789.2 156.6,789.3C159,789.4 161.4,790 163.8,790.4C166.2,790.8 168.6,791.7 171,791.9C173.4,792.2 175.8,792.2 178.2,791.8C180.6,791.5 183,790.6 185.4,790C187.8,789.4 190.2,788.5 192.6,788.1C195,787.7 197.4,787.5 199.8,787.6C202.2,787.7 204.6,788.4 207,788.8C209.4,789.2 211.8,789.9 214.2,790.1C216.6,790.2 219,790.1 221.4,789.7C223.8,789.4 226.2,788.4 228.6,787.8C231,787.1 233.4,786.2 235.8,785.9C238.2,785.6 241.8,785.9 243,785.9" fill="none" stroke="#f06b60" stroke-width="5.2" stroke-linecap="round" stroke-dasharray="0 5.72"/><path d="M63,801.3C64.2,801.5 67.8,802.4 70.2,802.3C72.6,802.2 75,801.2 77.4,800.6C79.8,800 82.2,798.9 84.6,798.6C87,798.4 89.4,798.7 91.8,799.1C94.2,799.5 96.6,800.7 99,801.1C101.4,801.4 103.8,801.6 106.2,801.3C108.6,801 111,799.9 113.4,799.4C115.8,799 118.2,798.4 120.6,798.5C123,798.6 125.4,799.5 127.8,800.1C130.2,800.7 132.6,801.7 135,801.9C137.4,802.1 139.8,801.7 142.2,801.3C144.6,800.9 147,799.7 149.4,799.4C151.8,799 154.2,798.9 156.6,799.2C159,799.4 161.4,800.5 163.8,801C166.2,801.4 168.6,802 171,801.8C173.4,801.6 175.8,800.6 178.2,800C180.6,799.4 183,798.4 185.4,798.4C187.8,798.3 190.2,799.1 192.6,799.7C195,800.3 197.4,801.7 199.8,802.2C202.2,802.7 204.6,802.8 207,802.7C209.4,802.5 211.8,801.4 214.2,801C216.6,800.6 219,800.1 221.4,800.3C223.8,800.4 226.2,801.4 228.6,802C231,802.6 233.4,803.6 235.8,803.8C238.2,804 240.6,803.5 243,803.1C245.4,802.7 247.8,801.6 250.2,801.3C252.6,801.1 255,801.1 257.4,801.5C259.8,801.9 262.2,803.2 264.6,803.8C267,804.4 270.6,804.9 271.8,805.1" fill="none" stroke="#f06b60" stroke-width="5.2" stroke-linecap="round" stroke-dasharray="0 5.72"/><path d="M63,830.9C64.2,831 67.8,831.6 70.2,831.3C72.6,831.1 75,830.4 77.4,829.6C79.8,828.9 82.2,827.7 84.6,827C87,826.3 89.4,825.6 91.8,825.3C94.2,825.1 96.6,825.2 99,825.4C101.4,825.6 103.8,826.2 106.2,826.4C108.6,826.7 111,827 113.4,826.8C115.8,826.6 118.2,826 120.6,825.2C123,824.4 125.4,823.1 127.8,822C130.2,820.9 132.6,819.6 135,818.7C137.4,817.8 139.8,817.1 142.2,816.6C144.6,816.1 147,816 149.4,815.7C151.8,815.4 154.2,815.3 156.6,814.7C159,814.1 161.4,813.3 163.8,812.2C166.2,811.1 168.6,809.6 171,808.1C173.4,806.7 175.8,804.7 178.2,803.6C180.6,802.6 183,801.7 185.4,801.6C187.8,801.6 190.2,802.6 192.6,803.4C195,804.1 197.4,805.3 199.8,806.2C202.2,807 204.6,807.9 207,808.4C209.4,809 211.8,809.2 214.2,809.4C216.6,809.5 219,809.3 221.4,809.5C223.8,809.7 226.2,809.8 228.6,810.4C231,811 233.4,812 235.8,813.1C238.2,814.2 240.6,815.8 243,817.1C245.4,818.4 247.8,819.9 250.2,820.8C252.6,821.8 255,822.4 257.4,822.8C259.8,823.2 262.2,823.1 264.6,823.1C267,823.1 269.4,822.8 271.8,822.9C274.2,823 276.6,823.3 279,823.8C281.4,824.3 283.8,825.2 286.2,825.9C288.6,826.6 291,827.8 293.4,828.1C295.8,828.5 299.4,828 300.6,828" fill="none" stroke="#f06b60" stroke-width="4" stroke-linecap="round" stroke-dasharray="0 4.4"/><path d="M63,818C64.2,818.1 67.8,818.4 70.2,818.5C72.6,818.7 75,818.8 77.4,818.9C79.8,819 82.2,819 84.6,819C87,819 89.4,819 91.8,818.9C94.2,818.9 96.6,818.8 99,818.7C101.4,818.6 103.8,818.4 106.2,818.3C108.6,818.2 111,818.1 113.4,818.1C115.8,818 118.2,818 120.6,818C123,818 125.4,818 127.8,818C130.2,818 132.6,818 135,817.9C137.4,817.9 139.8,817.8 142.2,817.6C144.6,817.5 147,817.3 149.4,817.1C151.8,816.9 154.2,816.6 156.6,816.3C159,816.1 161.4,815.8 163.8,815.5C166.2,815.3 168.6,815.1 171,814.8C173.4,814.6 175.8,814.4 178.2,814.3C180.6,814.2 183,814.2 185.4,814.3C187.8,814.4 190.2,814.8 192.6,814.9C195,815.1 197.4,815.3 199.8,815.4C202.2,815.5 204.6,815.6 207,815.7C209.4,815.7 211.8,815.8 214.2,815.8C216.6,815.9 219,816 221.4,816.1C223.8,816.2 226.2,816.3 228.6,816.5C231,816.7 233.4,817 235.8,817.3C238.2,817.5 240.6,817.9 243,818.2C245.4,818.5 247.8,818.8 250.2,819.1C252.6,819.4 255,819.6 257.4,819.9C259.8,820.1 262.2,820.3 264.6,820.5C267,820.7 269.4,820.9 271.8,821.2C274.2,821.4 276.6,821.6 279,821.9C281.4,822.2 283.8,822.6 286.2,822.9C288.6,823.3 291,823.8 293.4,824.1C295.8,824.5 299.4,824.9 300.6,825.1" fill="none" stroke="#f06b60" stroke-width="3.2" stroke-linecap="round" stroke-dasharray="0 3.52"/><path d="M63,844.2C64.2,844 67.8,843.5 70.2,843C72.6,842.5 75,841.9 77.4,841.3C79.8,840.8 82.2,840.2 84.6,839.8C87,839.4 89.4,839.1 91.8,838.9C94.2,838.6 96.6,838.5 99,838.3C101.4,838.1 103.8,837.9 106.2,837.7C108.6,837.4 111,837.1 113.4,836.8C115.8,836.4 118.2,836 120.6,835.6C123,835.1 125.4,834.6 127.8,834.3C130.2,833.9 132.6,833.5 135,833.2C137.4,832.9 139.8,832.8 142.2,832.6C144.6,832.4 147,832.4 149.4,832.2C151.8,832.1 154.2,832 156.6,831.8C159,831.6 161.4,831.3 163.8,830.9C166.2,830.5 168.6,830 171,829.5C173.4,829 175.8,828.2 178.2,827.8C180.6,827.4 183,827.1 185.4,827.1C187.8,827.2 190.2,827.9 192.6,828.3C195,828.8 197.4,829.3 199.8,829.8C202.2,830.2 204.6,830.7 207,831.1C209.4,831.5 211.8,831.8 214.2,832C216.6,832.3 219,832.4 221.4,832.4C223.8,832.5 226.2,832.5 228.6,832.5C231,832.5 233.4,832.4 235.8,832.5C238.2,832.6 240.6,832.7 243,832.9C245.4,833 247.8,833.3 250.2,833.6C252.6,833.9 255,834.3 257.4,834.5C259.8,834.8 262.2,835.1 264.6,835.3C267,835.4 269.4,835.6 271.8,835.6C274.2,835.7 276.6,835.7 279,835.7C281.4,835.8 283.8,835.8 286.2,835.9C288.6,836.1 291,836.3 293.4,836.5C295.8,836.6 298.2,836.6 300.6,836.8C303,836.9 305.4,837.2 307.8,837.4C310.2,837.6 313.8,838 315,838.1" fill="none" stroke="#f06b60" stroke-width="5.2" stroke-linecap="round" stroke-dasharray="0 5.72"/><path d="M63,840.1C64.2,840.1 67.8,840.3 70.2,839.8C72.6,839.4 75,838.3 77.4,837.5C79.8,836.8 82.2,835.9 84.6,835.5C87,835.2 89.4,835.4 91.8,835.6C94.2,835.8 96.6,836.5 99,836.7C101.4,836.8 103.8,836.8 106.2,836.4C108.6,836 111,834.9 113.4,834.2C115.8,833.5 118.2,832.5 120.6,832.2C123,831.9 125.4,832 127.8,832.2C130.2,832.5 132.6,833.3 135,833.7C137.4,834 139.8,834.3 142.2,834.1C144.6,834 147,833.2 149.4,832.6C151.8,832.1 154.2,831.2 156.6,830.9C159,830.7 161.4,830.8 163.8,831.2C166.2,831.5 168.6,832.5 171,833C173.4,833.6 175.8,834.1 178.2,834.3C180.6,834.4 183,833.9 185.4,833.7C187.8,833.5 190.2,833 192.6,833C195,833 197.4,833.3 199.8,833.9C202.2,834.5 204.6,835.7 207,836.5C209.4,837.3 211.8,838.4 214.2,838.8C216.6,839.2 219,839 221.4,838.9C223.8,838.8 226.2,838 228.6,837.9C231,837.8 233.4,837.8 235.8,838.2C238.2,838.6 240.6,839.6 243,840.3C245.4,841 247.8,842 250.2,842.4C252.6,842.7 255,842.6 257.4,842.3C259.8,842.1 262.2,841.2 264.6,840.8C267,840.5 269.4,840.1 271.8,840.3C274.2,840.4 276.6,841.2 279,841.7C281.4,842.2 283.8,843.2 286.2,843.5C288.6,843.7 291,843.7 293.4,843.3C295.8,842.9 298.2,841.8 300.6,841.3C303,840.7 305.4,840 307.8,840C310.2,839.9 313.8,840.6 315,840.7" fill="none" stroke="#f06b60" stroke-width="5.2" stroke-linecap="round" stroke-dasharray="0 5.72"/><path d="M63,846.7C64.2,846.9 67.8,847.7 70.2,848.2C72.6,848.6 75,849.1 77.4,849.4C79.8,849.7 82.2,850 84.6,850.1C87,850.3 89.4,850.4 91.8,850.5C94.2,850.5 96.6,850.6 99,850.6C101.4,850.7 103.8,850.8 106.2,850.9C108.6,851 111,851.1 113.4,851.2C115.8,851.2 118.2,851.3 120.6,851.2C123,851.1 125.4,850.9 127.8,850.6C130.2,850.3 132.6,849.8 135,849.3C137.4,848.8 139.8,848.1 142.2,847.5C144.6,846.9 147,846.2 149.4,845.7C151.8,845.2 154.2,844.7 156.6,844.3C159,843.9 161.4,843.6 163.8,843.3C166.2,843 168.6,842.8 171,842.5C173.4,842.2 175.8,841.8 178.2,841.5C180.6,841.3 183,841 185.4,841C187.8,841 190.2,841.2 192.6,841.4C195,841.7 197.4,842 199.8,842.5C202.2,843 204.6,843.6 207,844.3C209.4,845 211.8,845.8 214.2,846.6C216.6,847.3 219,848.1 221.4,848.7C223.8,849.4 226.2,850 228.6,850.5C231,851.1 233.4,851.5 235.8,851.9C238.2,852.4 240.6,852.8 243,853.2C245.4,853.7 247.8,854.2 250.2,854.6C252.6,855.1 255,855.6 257.4,856C259.8,856.5 262.2,856.9 264.6,857.1C267,857.4 269.4,857.5 271.8,857.6C274.2,857.6 276.6,857.4 279,857.3C281.4,857.1 283.8,856.8 286.2,856.6C288.6,856.3 291,856.1 293.4,855.9C295.8,855.7 298.2,855.4 300.6,855.3C303,855.2 305.4,855.1 307.8,855.1C310.2,855 312.6,855 315,854.9C317.4,854.9 319.8,854.8 322.2,854.7C324.6,854.6 328.2,854.5 329.4,854.4" fill="none" stroke="#f06b60" stroke-width="2.6" stroke-linecap="round" stroke-dasharray="0 2.86"/><path d="M63,860.8C64.2,860.7 67.8,860.4 70.2,860C72.6,859.7 75,859.1 77.4,858.6C79.8,858.1 82.2,857.5 84.6,857.1C87,856.7 89.4,856.3 91.8,856.1C94.2,855.9 96.6,855.8 99,855.8C101.4,855.9 103.8,856 106.2,856.2C108.6,856.3 111,856.5 113.4,856.6C115.8,856.7 118.2,856.7 120.6,856.6C123,856.5 125.4,856.3 127.8,856C130.2,855.8 132.6,855.4 135,855.1C137.4,854.9 139.8,854.6 142.2,854.4C144.6,854.3 147,854.2 149.4,854.3C151.8,854.3 154.2,854.5 156.6,854.7C159,854.9 161.4,855.2 163.8,855.3C166.2,855.5 168.6,855.6 171,855.6C173.4,855.6 175.8,855.4 178.2,855.2C180.6,854.9 183,854.6 185.4,854.3C187.8,854.1 190.2,853.9 192.6,853.7C195,853.6 197.4,853.4 199.8,853.4C202.2,853.4 204.6,853.5 207,853.6C209.4,853.8 211.8,854 214.2,854.2C216.6,854.4 219,854.6 221.4,854.7C223.8,854.8 226.2,854.8 228.6,854.7C231,854.5 233.4,854.2 235.8,853.9C238.2,853.6 240.6,853.1 243,852.8C245.4,852.4 247.8,852 250.2,851.8C252.6,851.6 255,851.5 257.4,851.5C259.8,851.5 262.2,851.6 264.6,851.8C267,851.9 269.4,852.2 271.8,852.4C274.2,852.6 276.6,852.8 279,852.9C281.4,853 283.8,853 286.2,852.9C288.6,852.8 291,852.6 293.4,852.4C295.8,852.2 298.2,851.8 300.6,851.6C303,851.5 305.4,851.3 307.8,851.4C310.2,851.4 312.6,851.6 315,851.9C317.4,852.1 319.8,852.5 322.2,852.9C324.6,853.3 328.2,853.8 329.4,854" fill="none" stroke="#f06b60" stroke-width="3.2" stroke-linecap="round" stroke-dasharray="0 3.52"/><path d="M63,872.3C64.2,872.3 67.8,872.4 70.2,872.3C72.6,872.2 75,872 77.4,871.6C79.8,871.3 82.2,870.6 84.6,870.1C87,869.5 89.4,868.8 91.8,868.4C94.2,867.9 96.6,867.6 99,867.4C101.4,867.2 103.8,867.2 106.2,867.1C108.6,867 111,867 113.4,866.8C115.8,866.5 118.2,866.2 120.6,865.8C123,865.4 125.4,864.9 127.8,864.6C130.2,864.3 132.6,864.1 135,864C137.4,863.9 139.8,864.1 142.2,864.1C144.6,864.1 147,864.3 149.4,864.2C151.8,864.1 154.2,863.9 156.6,863.6C159,863.4 161.4,862.9 163.8,862.6C166.2,862.4 168.6,862.2 171,862.1C173.4,862 175.8,862 178.2,862.2C180.6,862.4 183,862.8 185.4,863.2C187.8,863.7 190.2,864.4 192.6,864.9C195,865.4 197.4,865.6 199.8,866C202.2,866.5 204.6,866.9 207,867.4C209.4,868 211.8,868.8 214.2,869.4C216.6,870.1 219,870.9 221.4,871.5C223.8,872 226.2,872.4 228.6,872.7C231,873.1 233.4,873.1 235.8,873.4C238.2,873.6 240.6,873.8 243,874.2C245.4,874.5 247.8,875.1 250.2,875.6C252.6,876.1 255,876.7 257.4,877.1C259.8,877.5 262.2,877.8 264.6,878C267,878.2 269.4,878.2 271.8,878.3C274.2,878.4 276.6,878.4 279,878.6C281.4,878.9 283.8,879.3 286.2,879.7C288.6,880.1 291,880.7 293.4,880.9C295.8,881.2 298.2,881.1 300.6,881C303,880.9 305.4,880.6 307.8,880.4C310.2,880.3 312.6,880 315,880C317.4,880 319.8,880.1 322.2,880.3C324.6,880.5 327,880.9 329.4,881.1C331.8,881.4 334.2,881.6 336.6,881.6C339,881.7 341.4,881.5 343.8,881.5C346.2,881.5 349.8,881.5 351,881.5" fill="none" stroke="#f06b60" stroke-width="4" stroke-linecap="round" stroke-dasharray="0 4.4"/><path d="M63,883.5C64.2,883.3 67.8,882.7 70.2,882.1C72.6,881.5 75,880.5 77.4,880C79.8,879.4 82.2,879.2 84.6,878.9C87,878.7 89.4,878.9 91.8,878.6C94.2,878.4 96.6,877.9 99,877.3C101.4,876.7 103.8,875.7 106.2,875.1C108.6,874.5 111,873.9 113.4,873.7C115.8,873.5 118.2,873.8 120.6,873.7C123,873.6 125.4,873.7 127.8,873.4C130.2,873 132.6,872.3 135,871.8C137.4,871.3 139.8,870.6 142.2,870.4C144.6,870.2 147,870.4 149.4,870.6C151.8,870.7 154.2,871.1 156.6,871.1C159,871.1 161.4,870.8 163.8,870.5C166.2,870.2 168.6,869.5 171,869.2C173.4,869 175.8,868.9 178.2,869.2C180.6,869.4 183,870.3 185.4,870.8C187.8,871.4 190.2,872.3 192.6,872.7C195,873.2 197.4,873.1 199.8,873.4C202.2,873.7 204.6,873.9 207,874.5C209.4,875.1 211.8,876.1 214.2,876.9C216.6,877.7 219,878.6 221.4,879.1C223.8,879.6 226.2,879.6 228.6,879.8C231,880 233.4,879.8 235.8,880.1C238.2,880.4 240.6,881.1 243,881.6C245.4,882.2 247.8,883.2 250.2,883.7C252.6,884.1 255,884.4 257.4,884.5C259.8,884.5 262.2,884.1 264.6,884.1C267,884.2 269.4,884.2 271.8,884.6C274.2,884.9 276.6,885.7 279,886.1C281.4,886.5 283.8,887 286.2,887.1C288.6,887.1 291,886.8 293.4,886.5C295.8,886.3 298.2,885.6 300.6,885.5C303,885.4 305.4,885.8 307.8,886C310.2,886.1 312.6,886.6 315,886.6C317.4,886.7 319.8,886.3 322.2,886C324.6,885.8 327,885.1 329.4,884.9C331.8,884.7 334.2,884.8 336.6,885C339,885.2 341.4,885.8 343.8,886.1C346.2,886.3 349.8,886.4 351,886.5" fill="none" stroke="#f06b60" stroke-width="4" stroke-linecap="round" stroke-dasharray="0 4.4"/><path d="M63,892.3C64.2,891.9 67.8,890.7 70.2,889.8C72.6,888.9 75,887.8 77.4,887C79.8,886.3 82.2,885.7 84.6,885.4C87,885.1 89.4,885.2 91.8,885.2C94.2,885.2 96.6,885.6 99,885.6C101.4,885.6 103.8,885.6 106.2,885.2C108.6,884.8 111,884.1 113.4,883.4C115.8,882.6 118.2,881.5 120.6,880.6C123,879.8 125.4,878.8 127.8,878.3C130.2,877.7 132.6,877.4 135,877.4C137.4,877.3 139.8,877.7 142.2,878C144.6,878.2 147,878.8 149.4,879C151.8,879.2 154.2,879.3 156.6,879.1C159,878.9 161.4,878.4 163.8,877.9C166.2,877.4 168.6,876.5 171,876C173.4,875.4 175.8,874.8 178.2,874.7C180.6,874.6 183,874.8 185.4,875.3C187.8,875.8 190.2,876.9 192.6,877.7C195,878.4 197.4,879.4 199.8,880C202.2,880.6 204.6,881 207,881.2C209.4,881.3 211.8,881.1 214.2,880.9C216.6,880.7 219,880.2 221.4,880C223.8,879.8 226.2,879.7 228.6,879.9C231,880.1 233.4,880.7 235.8,881.2C238.2,881.8 240.6,882.8 243,883.5C245.4,884.2 247.8,885 250.2,885.3C252.6,885.7 255,885.8 257.4,885.6C259.8,885.5 262.2,884.9 264.6,884.5C267,884 269.4,883.3 271.8,882.9C274.2,882.5 276.6,882.3 279,882.3C281.4,882.3 283.8,882.7 286.2,883C288.6,883.4 291,884.1 293.4,884.4C295.8,884.7 298.2,884.9 300.6,884.8C303,884.7 305.4,884.3 307.8,883.7C310.2,883.1 312.6,882.1 315,881.3C317.4,880.5 319.8,879.6 322.2,879C324.6,878.4 327,878 329.4,877.9C331.8,877.7 334.2,878 336.6,878.2C339,878.4 341.4,879 343.8,879.1C346.2,879.3 349.8,879.2 351,879.2" fill="none" stroke="#f06b60" stroke-width="5.2" stroke-linecap="round" stroke-dasharray="0 5.72"/><path d="M63,902.9C64.2,903 67.8,903.4 70.2,903.3C72.6,903.2 75,902.8 77.4,902.3C79.8,901.8 82.2,901 84.6,900.4C87,899.8 89.4,899 91.8,898.6C94.2,898.1 96.6,897.6 99,897.5C101.4,897.3 103.8,897.3 106.2,897.4C108.6,897.5 111,897.9 113.4,898.1C115.8,898.4 118.2,898.8 120.6,898.9C123,899.1 125.4,899.2 127.8,899C130.2,898.9 132.6,898.5 135,898.1C137.4,897.6 139.8,896.9 142.2,896.2C144.6,895.6 147,894.7 149.4,894.1C151.8,893.5 154.2,892.9 156.6,892.5C159,892.1 161.4,892 163.8,891.9C166.2,891.8 168.6,892 171,892C173.4,892.1 175.8,892.3 178.2,892.4C180.6,892.6 183,892.8 185.4,893C187.8,893.2 190.2,893.5 192.6,893.5C195,893.6 197.4,893.3 199.8,893.1C202.2,892.9 204.6,892.6 207,892.4C209.4,892.2 211.8,892 214.2,892C216.6,892 219,892.2 221.4,892.6C223.8,892.9 226.2,893.6 228.6,894.2C231,894.8 233.4,895.6 235.8,896.2C238.2,896.9 240.6,897.6 243,898C245.4,898.5 247.8,898.8 250.2,899C252.6,899.1 255,899.1 257.4,899C259.8,898.9 262.2,898.6 264.6,898.5C267,898.4 269.4,898.3 271.8,898.4C274.2,898.5 276.6,898.7 279,899.2C281.4,899.6 283.8,900.3 286.2,901C288.6,901.7 291,902.8 293.4,903.5C295.8,904.2 298.2,904.8 300.6,905.3C303,905.7 305.4,906.1 307.8,906.3C310.2,906.5 312.6,906.4 315,906.3C317.4,906.2 319.8,905.8 322.2,905.6C324.6,905.4 327,905.1 329.4,905C331.8,904.9 334.2,904.8 336.6,905C339,905.2 341.4,905.6 343.8,906.1C346.2,906.6 349.8,907.6 351,907.9" fill="none" stroke="#f06b60" stroke-width="3.2" stroke-linecap="round" stroke-dasharray="0 3.52"/><path d="M63,915.7C64.2,915.5 67.8,915.5 70.2,914.9C72.6,914.4 75,913.4 77.4,912.5C79.8,911.6 82.2,910.4 84.6,909.6C87,908.8 89.4,908.1 91.8,907.8C94.2,907.4 96.6,907.5 99,907.5C101.4,907.5 103.8,907.9 106.2,908C108.6,908 111,908.1 113.4,907.8C115.8,907.6 118.2,907 120.6,906.5C123,906 125.4,905.1 127.8,904.7C130.2,904.2 132.6,903.8 135,903.7C137.4,903.6 139.8,903.9 142.2,904.1C144.6,904.4 147,905.1 149.4,905.4C151.8,905.7 154.2,906 156.6,906C159,905.9 161.4,905.6 163.8,905.1C166.2,904.7 168.6,903.8 171,903.3C173.4,902.7 175.8,901.9 178.2,901.7C180.6,901.5 183,901.6 185.4,902C187.8,902.5 190.2,903.6 192.6,904.3C195,904.9 197.4,905.7 199.8,906C202.2,906.3 204.6,906.3 207,906.1C209.4,906 211.8,905.4 214.2,905.1C216.6,904.8 219,904.3 221.4,904.2C223.8,904.1 226.2,904.2 228.6,904.5C231,904.7 233.4,905.4 235.8,905.9C238.2,906.3 240.6,906.9 243,907.2C245.4,907.5 247.8,907.5 250.2,907.4C252.6,907.3 255,906.9 257.4,906.6C259.8,906.4 262.2,905.9 264.6,905.9C267,905.9 269.4,906.1 271.8,906.6C274.2,907 276.6,907.9 279,908.7C281.4,909.5 283.8,910.5 286.2,911.2C288.6,911.9 291,912.5 293.4,912.7C295.8,912.9 298.2,912.6 300.6,912.5C303,912.4 305.4,912.1 307.8,912.1C310.2,912.2 312.6,912.3 315,912.8C317.4,913.2 319.8,914 322.2,914.8C324.6,915.5 327,916.5 329.4,917.2C331.8,917.8 334.2,918.3 336.6,918.6C339,918.8 341.4,918.6 343.8,918.5C346.2,918.3 349.8,917.7 351,917.6" fill="none" stroke="#f06b60" stroke-width="4" stroke-linecap="round" stroke-dasharray="0 4.4"/><path d="M63,932.6C64.2,932.2 67.8,930.9 70.2,930C72.6,929.1 75,927.7 77.4,927C79.8,926.3 82.2,926 84.6,925.8C87,925.6 89.4,926.1 91.8,925.9C94.2,925.8 96.6,925.7 99,925C101.4,924.4 103.8,923.1 106.2,922.1C108.6,921.1 111,919.6 113.4,918.8C115.8,918 118.2,917.6 120.6,917.4C123,917.3 125.4,917.8 127.8,917.8C130.2,917.9 132.6,918.1 135,917.7C137.4,917.4 139.8,916.5 142.2,915.6C144.6,914.7 147,913.3 149.4,912.5C151.8,911.7 154.2,911.1 156.6,910.9C159,910.6 161.4,911.1 163.8,911.2C166.2,911.4 168.6,911.9 171,911.7C173.4,911.5 175.8,910.7 178.2,910.2C180.6,909.6 183,908.4 185.4,908.2C187.8,908 190.2,908.2 192.6,908.7C195,909.2 197.4,910.3 199.8,911.3C202.2,912.3 204.6,913.7 207,914.5C209.4,915.3 211.8,915.8 214.2,915.9C216.6,916.1 219,915.6 221.4,915.5C223.8,915.3 226.2,915 228.6,915.2C231,915.5 233.4,916.2 235.8,917C238.2,917.8 240.6,919.2 243,919.9C245.4,920.7 247.8,921.4 250.2,921.5C252.6,921.7 255,921.2 257.4,921C259.8,920.8 262.2,920.1 264.6,920.2C267,920.2 269.4,920.6 271.8,921.2C274.2,921.8 276.6,923 279,923.8C281.4,924.6 283.8,925.5 286.2,925.7C288.6,926 291,925.8 293.4,925.4C295.8,925 298.2,923.9 300.6,923.5C303,923.1 305.4,922.9 307.8,923.1C310.2,923.3 312.6,924.1 315,924.7C317.4,925.2 319.8,926.1 322.2,926.2C324.6,926.4 327,926.2 329.4,925.9C331.8,925.5 334.2,924.6 336.6,924.2C339,923.8 341.4,923.4 343.8,923.6C346.2,923.8 349.8,925 351,925.2" fill="none" stroke="#f06b60" stroke-width="5.2" stroke-linecap="round" stroke-dasharray="0 5.72"/><path d="M63,935C64.2,935.1 67.8,935.6 70.2,935.4C72.6,935.2 75,934.5 77.4,933.8C79.8,933.1 82.2,931.9 84.6,931.2C87,930.5 89.4,929.8 91.8,929.5C94.2,929.2 96.6,929.3 99,929.4C101.4,929.5 103.8,929.9 106.2,930C108.6,930.1 111,930.2 113.4,929.9C115.8,929.6 118.2,929 120.6,928.4C123,927.8 125.4,926.8 127.8,926.3C130.2,925.7 132.6,925.2 135,925.1C137.4,924.9 139.8,925.2 142.2,925.3C144.6,925.4 147,925.8 149.4,925.7C151.8,925.7 154.2,925.5 156.6,925C159,924.4 161.4,923.5 163.8,922.6C166.2,921.8 168.6,920.7 171,919.9C173.4,919.2 175.8,918.4 178.2,918.3C180.6,918.1 183,918.5 185.4,919C187.8,919.6 190.2,920.9 192.6,921.5C195,922.1 197.4,922.5 199.8,922.6C202.2,922.8 204.6,922.6 207,922.5C209.4,922.5 211.8,922.3 214.2,922.6C216.6,922.8 219,923.3 221.4,924C223.8,924.7 226.2,925.9 228.6,926.8C231,927.7 233.4,928.8 235.8,929.5C238.2,930.2 240.6,930.7 243,931C245.4,931.4 247.8,931.3 250.2,931.5C252.6,931.8 255,931.9 257.4,932.5C259.8,933.1 262.2,934 264.6,935C267,936 269.4,937.4 271.8,938.5C274.2,939.6 276.6,940.8 279,941.6C281.4,942.4 283.8,942.8 286.2,943.1C288.6,943.5 291,943.5 293.4,943.6C295.8,943.7 298.2,943.4 300.6,943.7C303,944 305.4,944.6 307.8,945.2C310.2,945.8 312.6,946.7 315,947.3C317.4,947.8 319.8,948.4 322.2,948.5C324.6,948.6 327,948.3 329.4,948.1C331.8,947.8 334.2,947.1 336.6,946.9C339,946.6 341.4,946.4 343.8,946.5C346.2,946.6 349.8,947.4 351,947.6" fill="none" stroke="#f06b60" stroke-width="5.2" stroke-linecap="round" stroke-dasharray="0 5.72"/><path d="M63,937.7C64.2,937.6 67.8,937.6 70.2,937.4C72.6,937.2 75,936.9 77.4,936.6C79.8,936.4 82.2,936 84.6,935.7C87,935.4 89.4,935.2 91.8,934.9C94.2,934.6 96.6,934.3 99,933.9C101.4,933.6 103.8,933.2 106.2,932.9C108.6,932.5 111,932.1 113.4,931.8C115.8,931.5 118.2,931.2 120.6,930.9C123,930.6 125.4,930.3 127.8,930C130.2,929.7 132.6,929.3 135,929C137.4,928.7 139.8,928.3 142.2,928C144.6,927.8 147,927.5 149.4,927.2C151.8,927 154.2,926.8 156.6,926.6C159,926.4 161.4,926.1 163.8,925.9C166.2,925.7 168.6,925.4 171,925.2C173.4,925 175.8,924.7 178.2,924.6C180.6,924.6 183,924.6 185.4,924.9C187.8,925.1 190.2,925.7 192.6,926.1C195,926.5 197.4,926.9 199.8,927.2C202.2,927.6 204.6,928 207,928.4C209.4,928.8 211.8,929.3 214.2,929.7C216.6,930.2 219,930.7 221.4,931.1C223.8,931.6 226.2,932 228.6,932.4C231,932.8 233.4,933.2 235.8,933.6C238.2,934 240.6,934.4 243,934.9C245.4,935.3 247.8,935.8 250.2,936.2C252.6,936.6 255,937.1 257.4,937.4C259.8,937.8 262.2,938.2 264.6,938.5C267,938.8 269.4,939.2 271.8,939.5C274.2,939.8 276.6,940.2 279,940.5C281.4,940.9 283.8,941.3 286.2,941.5C288.6,941.8 291,942.2 293.4,942.3C295.8,942.4 298.2,942.4 300.6,942.4C303,942.5 305.4,942.5 307.8,942.6C310.2,942.6 312.6,942.7 315,942.8C317.4,942.8 319.8,942.9 322.2,942.9C324.6,942.9 327,942.9 329.4,942.8C331.8,942.8 334.2,942.8 336.6,942.8C339,942.8 341.4,942.8 343.8,942.8C346.2,942.9 349.8,942.9 351,942.9" fill="none" stroke="#f06b60" stroke-width="4" stroke-linecap="round" stroke-dasharray="0 4.4"/><path d="M106.2,952.7C107.4,952.3 111,951.1 113.4,950.2C115.8,949.4 118.2,948.7 120.6,947.8C123,947 125.4,946.1 127.8,945.2C130.2,944.3 132.6,943.3 135,942.4C137.4,941.5 139.8,940.5 142.2,939.8C144.6,939.1 147,938.4 149.4,937.9C151.8,937.5 154.2,937.2 156.6,936.9C159,936.7 161.4,936.5 163.8,936.3C166.2,936.1 168.6,935.9 171,935.7C173.4,935.4 175.8,934.9 178.2,934.8C180.6,934.7 183,934.7 185.4,935.2C187.8,935.6 190.2,936.8 192.6,937.5C195,938.3 197.4,939.2 199.8,939.9C202.2,940.7 204.6,941.3 207,941.8C209.4,942.3 211.8,942.6 214.2,942.9C216.6,943.1 219,943.1 221.4,943.2C223.8,943.3 226.2,943.3 228.6,943.4C231,943.5 233.4,943.6 235.8,943.8C238.2,943.9 240.6,944.1 243,944.3C245.4,944.4 247.8,944.6 250.2,944.6C252.6,944.7 255,944.7 257.4,944.8C259.8,944.9 262.2,944.9 264.6,945.2C267,945.4 269.4,945.8 271.8,946.3C274.2,946.8 276.6,947.5 279,948.2C281.4,948.9 283.8,949.8 286.2,950.6C288.6,951.4 291,952.3 293.4,952.8C295.8,953.4 299.4,953.7 300.6,953.9" fill="none" stroke="#f06b60" stroke-width="4" stroke-linecap="round" stroke-dasharray="0 4.4"/><path d="M63,950.9C64.2,950.9 67.8,950.9 70.2,950.8C72.6,950.7 75,950.6 77.4,950.4C79.8,950.2 82.2,949.8 84.6,949.5C87,949.1 89.4,948.7 91.8,948.5C94.2,948.2 96.6,948.1 99,948C101.4,947.9 103.8,947.9 106.2,947.8C108.6,947.7 111,947.5 113.4,947.2C115.8,947 118.2,946.6 120.6,946.4C123,946.2 125.4,946 127.8,945.9C130.2,945.8 132.6,945.9 135,945.8C137.4,945.8 139.8,945.8 142.2,945.7C144.6,945.6 147,945.3 149.4,945.1C151.8,944.9 154.2,944.6 156.6,944.5C159,944.4 161.4,944.4 163.8,944.4C166.2,944.3 168.6,944.5 171,944.4C173.4,944.4 175.8,944.2 178.2,944.1C180.6,944 183,943.8 185.4,943.9C187.8,944 190.2,944.3 192.6,944.7C195,945 197.4,945.4 199.8,945.8C202.2,946.2 204.6,946.6 207,946.8C209.4,947.1 211.8,947.2 214.2,947.3C216.6,947.4 219,947.5 221.4,947.7C223.8,947.9 226.2,948.2 228.6,948.5C231,948.8 233.4,949.2 235.8,949.4C238.2,949.6 240.6,949.8 243,949.9C245.4,950 247.8,950 250.2,950C252.6,950.1 255,950.2 257.4,950.4C259.8,950.6 262.2,950.9 264.6,951.1C267,951.3 269.4,951.6 271.8,951.7C274.2,951.8 276.6,951.8 279,951.8C281.4,951.8 283.8,951.8 286.2,951.8C288.6,951.9 291,952.2 293.4,952.3C295.8,952.4 298.2,952.5 300.6,952.5C303,952.6 305.4,952.5 307.8,952.4C310.2,952.3 312.6,952.1 315,952C317.4,951.9 319.8,951.8 322.2,951.9C324.6,951.9 327,952.1 329.4,952.2C331.8,952.3 334.2,952.5 336.6,952.5C339,952.5 341.4,952.4 343.8,952.3C346.2,952.3 349.8,952.2 351,952.2" fill="none" stroke="#f06b60" stroke-width="4" stroke-linecap="round" stroke-dasharray="0 4.4"/><path d="M99,953.4C100.2,953.4 103.8,953.3 106.2,953.3C108.6,953.4 112.2,953.7 113.4,953.8" fill="none" stroke="#f06b60" stroke-width="4" stroke-linecap="round" stroke-dasharray="0 4.4"/><path d="M135,953.9L142.2,953.9" fill="none" stroke="#f06b60" stroke-width="4" stroke-linecap="round" stroke-dasharray="0 4.4"/><path d="M163.8,953.9C165,953.7 168.6,953.2 171,952.8C173.4,952.5 175.8,951.9 178.2,951.6C180.6,951.3 183,951.1 185.4,951.1C187.8,951.2 190.2,951.6 192.6,951.8C195,952 197.4,952.3 199.8,952.4C202.2,952.5 204.6,952.5 207,952.6C209.4,952.6 211.8,952.5 214.2,952.6C216.6,952.7 220.2,953 221.4,953" fill="none" stroke="#f06b60" stroke-width="4" stroke-linecap="round" stroke-dasharray="0 4.4"/><path d="M200,790C206.7,790.8 226.7,793.3 240,795C253.3,796.7 266.7,798.2 280,800C293.3,801.8 308.3,804.7 320,806C331.7,807.3 345,807.7 350,808" fill="none" stroke="#f06b60" stroke-width="3.6" stroke-linecap="round" stroke-dasharray="0 3.96"/><path d="M253,806C259.2,806.3 278.8,807.5 290,808C301.2,808.5 310,808.5 320,809C330,809.5 345,810.7 350,811" fill="none" stroke="#0a6aff" stroke-width="4" stroke-linecap="round" stroke-dasharray="0 4.4"/><path d="M253,806C259.2,806.3 278.8,807.5 290,808C301.2,808.5 310,808.5 320,809C330,809.5 345,810.7 350,811" fill="none" stroke="#f06b60" stroke-width="1.6" stroke-linecap="round" stroke-dasharray="0 4.4"/><path d="M303,828C306.7,828 317.2,828 325,828C332.8,828 345.8,828 350,828" fill="none" stroke="#0a6aff" stroke-width="4" stroke-linecap="round" stroke-dasharray="0 4.4"/><path d="M303,828C306.7,828 317.2,828 325,828C332.8,828 345.8,828 350,828" fill="none" stroke="#f06b60" stroke-width="1.6" stroke-linecap="round" stroke-dasharray="0 4.4"/><path d="M230,782C236.7,783.3 258.3,787 270,790C281.7,793 290,796.3 300,800C310,803.7 321.7,809 330,812C338.3,815 346.7,817 350,818" fill="none" stroke="#f06b60" stroke-width="3" stroke-linecap="round" stroke-dasharray="0 3.3"/><path d="M290,884C295,884.5 310,886.2 320,887C330,887.8 345,888.7 350,889" fill="none" stroke="#f06b60" stroke-width="6.4" stroke-linecap="round" stroke-dasharray="0 7.04"/><path d="M280,895C285.8,894.7 303.3,893 315,893C326.7,893 344.2,894.7 350,895" fill="none" stroke="#f06b60" stroke-width="5.6" stroke-linecap="round" stroke-dasharray="0 6.16"/><path d="M144.2,795.7C147.7,794.4 158.6,790.1 165,788C171.4,785.9 177,783 182.8,782.8C188.6,782.6 194.6,784.9 200,787C205.4,789.1 212.5,794.2 215,795.7" fill="none" stroke="#f06b60" stroke-width="4" stroke-linecap="round" stroke-dasharray="0 4.4"/><path d="M100,884C102,882.1 107.3,877.1 112,872.8C116.7,868.5 122.6,862.8 128,858C133.4,853.2 138.3,849.5 144.2,843.9C150.1,838.3 158.2,830 163.5,824.6C168.8,819.2 173.1,814.5 176.3,811.7C179.5,808.9 181.7,808.6 182.8,808" fill="none" stroke="#f06b60" stroke-width="7.2" stroke-linecap="round" stroke-dasharray="0 3.2"/><path d="M182.8,808C184.8,808.5 189.6,808.8 195,811C200.4,813.2 207.4,817 215,821.4C222.6,825.8 233.1,832.6 240.6,837.4C248.1,842.2 252.3,846.5 259.8,850.3C267.3,854.1 281.2,858.4 285.5,860" fill="none" stroke="#f06b60" stroke-width="6.12" stroke-linecap="round" stroke-dasharray="0 3"/><path d="M100,888C102,886.1 107.3,881.1 112,876.8C116.7,872.5 122.6,866.8 128,862C133.4,857.2 138.3,853.5 144.2,847.9C150.1,842.3 158.2,834 163.5,828.6C168.8,823.2 173.1,818.5 176.3,815.7C179.5,812.9 181.7,812.6 182.8,812" fill="none" stroke="#f06b60" stroke-width="6.4" stroke-linecap="round" stroke-dasharray="0 3.2"/><path d="M182.8,812C184.8,812.5 189.6,812.8 195,815C200.4,817.2 207.4,821 215,825.4C222.6,829.8 233.1,836.6 240.6,841.4C248.1,846.2 252.3,850.5 259.8,854.3C267.3,858.1 281.2,862.4 285.5,864" fill="none" stroke="#f06b60" stroke-width="5.44" stroke-linecap="round" stroke-dasharray="0 3"/><path d="M100,881C102,879.1 107.3,874.1 112,869.8C116.7,865.5 122.6,859.8 128,855C133.4,850.2 138.3,846.5 144.2,840.9C150.1,835.3 158.2,827 163.5,821.6C168.8,816.2 173.1,811.5 176.3,808.7C179.5,805.9 181.7,805.6 182.8,805" fill="none" stroke="#f06b60" stroke-width="5.2" stroke-linecap="round" stroke-dasharray="0 3.2"/><path d="M182.8,805C184.8,805.5 189.6,805.8 195,808C200.4,810.2 207.4,814 215,818.4C222.6,822.8 233.1,829.6 240.6,834.4C248.1,839.2 252.3,843.5 259.8,847.3C267.3,851.1 281.2,855.4 285.5,857" fill="none" stroke="#f06b60" stroke-width="4.42" stroke-linecap="round" stroke-dasharray="0 3"/><path d="M100,893C103.3,890.5 113.3,883.2 120,878C126.7,872.8 133.3,867.5 140,862C146.7,856.5 154.2,850.3 160,845C165.8,839.7 172.5,832.5 175,830" fill="none" stroke="#f06b60" stroke-width="5.2" stroke-linecap="round" stroke-dasharray="0 5.72"/><path d="M200,822C204.2,824 216.7,829.7 225,834C233.3,838.3 242.5,844 250,848C257.5,852 262.5,855 270,858C277.5,861 290.8,864.7 295,866" fill="none" stroke="#f06b60" stroke-width="4.8" stroke-linecap="round" stroke-dasharray="0 5.28"/><path d="M158.3,814.8 L159.4,814.7 L160.9,814.4 L162.5,814.1 L164.3,813.7 L166.2,813.4 L168,813.1 L169.6,812.9 L171,812.9 L172.2,812.9 L173.4,812.9 L174.7,813 L176.1,813.2 L177.5,813.4 L179,813.6 L180.6,813.8 L182.2,814 L183.8,813.9 L185.4,813.9 L186.9,813.8 L188.3,813.7 L189.7,813.7 L191.1,813.7 L192.5,813.8 L193.8,813.9 L195.3,814 L197,814.2 L198.8,814.5 L200.7,814.8 L202.5,815.2 L204.2,815.5 L205.6,815.7 L206.8,815.8 L209.2,808.2 L208.3,807.6 L207.1,807 L205.6,806.2 L203.9,805.3 L202,804.4 L200,803.6 L198.1,802.8 L196.2,802.1 L194.3,801.7 L192.6,801.3 L190.8,801 L189.1,800.8 L187.5,800.6 L185.9,800.4 L184.3,800.2 L182.8,800 L181.3,800.1 L179.8,800.1 L178.2,800.1 L176.5,800.2 L174.7,800.3 L172.9,800.5 L171,800.7 L169,801.1 L167,801.7 L165,802.5 L163,803.4 L161.1,804.3 L159.4,805.1 L157.8,805.9 L156.6,806.6 L155.7,807.2Z" fill="#f06b60"/><path d="M170,826C172.7,826.1 180.7,826.2 186,826.5C191.3,826.8 199.3,827.6 202,827.8" fill="none" stroke="#0a6aff" stroke-width="6" stroke-linecap="round" stroke-dasharray="0 6.6"/><path d="M170,826C172.7,826.1 180.7,826.2 186,826.5C191.3,826.8 199.3,827.6 202,827.8" fill="none" stroke="#f06b60" stroke-width="1.8" stroke-linecap="round" stroke-dasharray="0 6.6"/><path d="M144,872.8C147.5,872.8 158,872.8 165,872.8C172,872.8 182.5,872.8 186,872.8" fill="none" stroke="#0a6aff" stroke-width="5.2" stroke-linecap="round" stroke-dasharray="0 5.72"/><path d="M144,872.8C147.5,872.8 158,872.8 165,872.8C172,872.8 182.5,872.8 186,872.8" fill="none" stroke="#f06b60" stroke-width="1.6" stroke-linecap="round" stroke-dasharray="0 5.72"/><path d="M173,884L195.6,884" fill="none" stroke="#f06b60" stroke-width="4.8" stroke-linecap="round" stroke-dasharray="0 5.28"/><path d="M294.8,842C299,842.7 310.8,844.7 320,846C329.2,847.3 345,849.3 350,850" fill="none" stroke="#f06b60" stroke-width="6" stroke-linecap="round" stroke-dasharray="0 6.6"/><path d="M64,883C66.7,883.3 74,883.8 80,885C86,886.2 96.7,889.2 100,890" fill="none" stroke="#f06b60" stroke-width="6.4" stroke-linecap="round" stroke-dasharray="0 7.04"/><path d="M63.9,892 L66,892.1 L68.7,892.3 L72,892.4 L75.7,892.6 L79.4,892.7 L83.2,893 L86.6,893.2 L89.7,893.5 L92.5,893.7 L95.4,893.9 L98.3,894.2 L101.1,894.5 L103.7,894.8 L106.1,895.1 L108.1,895.3 L109.6,895.5 L110.4,890.5 L108.9,890.2 L107,889.7 L104.7,889.2 L102.1,888.6 L99.3,888 L96.3,887.5 L93.3,886.9 L90.3,886.5 L87.1,886.3 L83.5,886.2 L79.7,886.1 L75.8,886.1 L72.2,886 L68.9,886 L66.1,886 L64.1,886Z" fill="#f06b60"/><path d="M120,908C125,908.5 139.7,910.2 150,911C160.3,911.8 171.2,912.7 182,913C192.8,913.3 205.3,913.5 215,913C224.7,912.5 235.8,910.5 240,910" fill="none" stroke="#f06b60" stroke-width="6" stroke-linecap="round" stroke-dasharray="0 6.6"/><path d="M130,917C135,917.2 151.3,917.7 160,918C168.7,918.3 173.7,919 182,919C190.3,919 205.3,918.2 210,918" fill="none" stroke="#f06b60" stroke-width="4.8" stroke-linecap="round" stroke-dasharray="0 5.28"/><path d="M75,868L100,868" fill="none" stroke="#0a6aff" stroke-width="4" stroke-linecap="round" stroke-dasharray="0 4.4"/><path d="M75,868L100,868" fill="none" stroke="#f06b60" stroke-width="1.6" stroke-linecap="round" stroke-dasharray="0 4.4"/><path d="M150,885C153.3,885.5 163.3,886.8 170,888C176.7,889.2 186.7,891.3 190,892" fill="none" stroke="#0a6aff" stroke-width="4" stroke-linecap="round" stroke-dasharray="0 4.4"/><path d="M150,885C153.3,885.5 163.3,886.8 170,888C176.7,889.2 186.7,891.3 190,892" fill="none" stroke="#f06b60" stroke-width="1.6" stroke-linecap="round" stroke-dasharray="0 4.4"/></g><line x1="63.6" y1="752.3" x2="349.8" y2="752.3" stroke="#000" stroke-width="2.2"/><line x1="182.5" y1="552.3" x2="182.5" y2="954.3" stroke="#000" stroke-width="2.6" stroke-dasharray="9.5,4.5"/><rect x="63.6" y="550.3" width="286.2" height="404" fill="none" stroke="#000" stroke-width="2.4"/><g stroke="#000" stroke-width="2.4"><line x1="63.6" y1="954.3" x2="72.6" y2="954.3"/><line x1="349.8" y1="954.3" x2="340.8" y2="954.3"/><line x1="63.6" y1="887" x2="72.6" y2="887"/><line x1="349.8" y1="887" x2="340.8" y2="887"/><line x1="63.6" y1="819.7" x2="72.6" y2="819.7"/><line x1="349.8" y1="819.7" x2="340.8" y2="819.7"/><line x1="63.6" y1="752.3" x2="72.6" y2="752.3"/><line x1="349.8" y1="752.3" x2="340.8" y2="752.3"/><line x1="63.6" y1="685" x2="72.6" y2="685"/><line x1="349.8" y1="685" x2="340.8" y2="685"/><line x1="63.6" y1="617.7" x2="72.6" y2="617.7"/><line x1="349.8" y1="617.7" x2="340.8" y2="617.7"/><line x1="63.6" y1="550.4" x2="72.6" y2="550.4"/><line x1="349.8" y1="550.4" x2="340.8" y2="550.4"/></g><circle cx="74.4" cy="751.7" r="11.3" fill="none" stroke="#1b2b55" stroke-width="2"/><text x="80.6" y="782.4" font-size="20" font-weight="bold" text-anchor="middle">D</text><circle cx="340.6" cy="890.2" r="11.3" fill="none" stroke="#1b2b55" stroke-width="2"/><text x="339.5" y="874.3" font-size="20" font-weight="bold" text-anchor="middle">C</text><rect x="67.4" y="555.2" width="106.8" height="69.6" rx="4" fill="#fff" stroke="#c9c9c9" stroke-width="2.6"/><circle cx="90.1" cy="566.5" r="8.4" fill="#f9b23f"/><text x="109.2" y="571.8" font-size="19">Ge-<tspan font-style="italic">s</tspan></text><circle cx="90.1" cy="587.8" r="8.4" fill="#0a6aff"/><text x="109.2" y="593.1" font-size="19">Ge-<tspan font-style="italic">p</tspan><tspan font-style="italic" font-size="14.5" dy="3.8">z</tspan></text><circle cx="90.1" cy="609.1" r="8.4" fill="#f06b60"/><text x="109.2" y="614.4" font-size="19">Ge-<tspan font-style="italic">p</tspan><tspan font-style="italic" font-size="14.5" dy="3.8">xy</tspan></text><g font-size="19"><text x="53.6" y="961.3" text-anchor="end">−3</text><text x="53.6" y="894" text-anchor="end">−2</text><text x="53.6" y="826.7" text-anchor="end">−1</text><text x="53.6" y="759.3" text-anchor="end">0</text><text x="53.6" y="692" text-anchor="end">1</text><text x="53.6" y="624.7" text-anchor="end">2</text><text x="53.6" y="557.4" text-anchor="end">3</text></g><g font-size="19"><text x="63.6" y="978.3" text-anchor="middle">M'</text><text x="182.5" y="978.3" text-anchor="middle">Γ</text><text x="349.8" y="978.3" text-anchor="middle">X</text><text x="457" y="978.3" text-anchor="middle">0.25</text><text x="551.2" y="978.3" text-anchor="middle">0.5</text><text x="457.5" y="1006.4" text-anchor="middle">PDOS (arb. units)</text></g><text transform="translate(15.6,752.2) rotate(-90)" font-size="19" text-anchor="middle"><tspan font-style="italic">E</tspan> − <tspan font-style="italic">E</tspan><tspan font-style="italic" font-size="14.5" dy="3.8">F</tspan><tspan dy="-3.8"> (eV)</tspan></text><g clip-path="url(#clipPb)"><path d="M360.1,547.3 L556,549C556,565 573.2,628.6 556,645C538.8,661.4 471.6,646.9 452.6,647.6C433.6,648.3 442.1,648.5 442.1,649.4C442.1,650.3 452.3,651.4 452.6,652.9C452.9,654.4 443.7,656.6 443.8,658.1C443.9,659.6 450.2,660.4 453.4,661.6C456.6,662.8 461.1,663.9 463.1,665.1C465.1,666.3 464.7,667.4 465.3,668.6C465.9,669.8 469.3,670.9 466.6,672.1C463.9,673.3 451.1,674.4 449.1,675.6C447.1,676.8 456.7,677.6 454.4,679.1C452.1,680.6 439.3,682.9 435.1,684.4C430.9,685.9 431.5,686.7 429.4,687.9C427.4,689.1 422.7,690.5 422.8,691.4C422.9,692.3 430.7,692.6 429.8,693.5C428.9,694.4 421.2,695.8 417.4,697C413.7,698.2 408.7,699.4 407.1,700.5C405.5,701.6 407.2,702.6 407.9,703.6C408.6,704.6 410.3,705.6 411.1,706.6C411.9,707.7 412.2,708.7 413,709.7C413.8,710.7 416.5,711.4 415.8,712.8C415.1,714.2 409.5,716.5 408.8,718C408.1,719.5 410.8,720.3 411.4,721.5C412.1,722.7 412.4,723.8 412.9,725C413.3,726.2 414.1,727.3 414.1,728.5C414.1,729.7 413.2,730.8 412.6,732C412.1,733.2 411.4,734.3 410.7,735.5C410.1,736.7 409.8,737.8 408.8,739C407.8,740.2 406.3,741.4 404.6,742.5C402.9,743.7 400.1,744.9 398.5,746.1C396.8,747.2 395.3,748.4 394.8,749.6C394.3,750.8 395.2,751.9 395.2,753.1C395.2,754.2 394.8,755.4 395,756.5C395.2,757.7 397.4,758.5 396.5,760C395.6,761.5 390.1,763.9 389.5,765.3C388.9,766.7 392.3,767.4 392.8,768.4C393.4,769.4 392,770.4 392.7,771.5C393.4,772.5 396.1,773.5 397,774.5C397.9,775.5 398.3,776.5 398.3,777.6C398.3,778.7 396.8,779.9 396.7,781.1C396.7,782.3 398.1,783.4 398.1,784.6C398.1,785.8 397,786.9 396.8,788.1C396.5,789.3 396.6,790.4 396.6,791.6C396.5,792.8 394.7,793.9 396.5,795.1C398.3,796.3 403.9,797.4 407.1,798.6C410.3,799.8 412.2,800.9 415.8,802.1C419.4,803.3 423.8,804.4 428.5,805.6C433.1,806.8 442.6,807.9 443.8,809.1C445,810.3 437.7,811.4 435.6,812.6C433.4,813.8 433.1,814.9 431,816.1C428.8,817.3 422.6,818.5 422.8,819.6C423,820.7 429.4,821.8 432.4,822.8C435.4,823.9 437.3,825 440.8,826C444.2,827.1 449.4,828.2 452.8,829.3C456.2,830.4 460.9,831.3 461,832.5C461.1,833.7 456.6,835.1 453.5,836.4C450.3,837.7 445.5,838.9 442.3,840.2C439.2,841.5 434.9,842.9 434.6,844.1C434.3,845.4 438.5,846.5 440.3,847.7C442,848.9 443.3,850.2 445.3,851.4C447.3,852.6 451.3,853.8 452.2,855C453.1,856.2 450.9,857.2 450.6,858.3C450.2,859.4 447.5,860.3 450,861.6C452.5,862.9 460.5,864.5 465.6,866C470.7,867.5 480.3,868.9 480.6,870.4C480.9,871.9 471.6,873.3 467.6,874.8C463.6,876.2 457.2,877.6 456.5,879.1C455.8,880.6 461.5,882 463.7,883.5C465.9,885 467.7,886.6 469.7,887.9C471.7,889.2 473.5,890.1 475.7,891.2C478,892.3 480.7,893.3 483.4,894.4C486,895.5 491.7,896.5 491.6,897.7C491.5,898.9 485.9,900.3 482.6,901.5C479.4,902.8 471,904.1 471.9,905.4C472.8,906.7 482.6,908 488,909.2C493.5,910.5 504,911.8 504.7,913.1C505.4,914.4 496.4,915.6 492.4,916.9C488.4,918.2 480.3,919.5 480.6,920.7C480.9,921.9 489.6,922.9 494,924C498.4,925.1 507.9,926.2 506.9,927.3C505.9,928.4 494.4,929.5 488.2,930.6C482,931.7 470.3,932.8 469.7,933.9C469.1,935 479.6,936.1 484.7,937.1C489.8,938.2 499.4,939.3 500.3,940.4C501.2,941.5 493.2,942.6 490.2,943.7C487.3,944.8 482.9,945.5 482.8,947C482.7,948.5 488.4,950.8 489.4,952.5C490.4,954.2 489.1,956.2 489,957 L360.1,957.3Z" fill="#e6e6e6"/><path d="M556,549C556,565 573.2,628.6 556,645C538.8,661.4 471.6,646.9 452.6,647.6C433.6,648.3 442.1,648.5 442.1,649.4C442.1,650.3 452.3,651.4 452.6,652.9C452.9,654.4 443.7,656.6 443.8,658.1C443.9,659.6 450.2,660.4 453.4,661.6C456.6,662.8 461.1,663.9 463.1,665.1C465.1,666.3 464.7,667.4 465.3,668.6C465.9,669.8 469.3,670.9 466.6,672.1C463.9,673.3 451.1,674.4 449.1,675.6C447.1,676.8 456.7,677.6 454.4,679.1C452.1,680.6 439.3,682.9 435.1,684.4C430.9,685.9 431.5,686.7 429.4,687.9C427.4,689.1 422.7,690.5 422.8,691.4C422.9,692.3 430.7,692.6 429.8,693.5C428.9,694.4 421.2,695.8 417.4,697C413.7,698.2 408.7,699.4 407.1,700.5C405.5,701.6 407.2,702.6 407.9,703.6C408.6,704.6 410.3,705.6 411.1,706.6C411.9,707.7 412.2,708.7 413,709.7C413.8,710.7 416.5,711.4 415.8,712.8C415.1,714.2 409.5,716.5 408.8,718C408.1,719.5 410.8,720.3 411.4,721.5C412.1,722.7 412.4,723.8 412.9,725C413.3,726.2 414.1,727.3 414.1,728.5C414.1,729.7 413.2,730.8 412.6,732C412.1,733.2 411.4,734.3 410.7,735.5C410.1,736.7 409.8,737.8 408.8,739C407.8,740.2 406.3,741.4 404.6,742.5C402.9,743.7 400.1,744.9 398.5,746.1C396.8,747.2 395.3,748.4 394.8,749.6C394.3,750.8 395.2,751.9 395.2,753.1C395.2,754.2 394.8,755.4 395,756.5C395.2,757.7 397.4,758.5 396.5,760C395.6,761.5 390.1,763.9 389.5,765.3C388.9,766.7 392.3,767.4 392.8,768.4C393.4,769.4 392,770.4 392.7,771.5C393.4,772.5 396.1,773.5 397,774.5C397.9,775.5 398.3,776.5 398.3,777.6C398.3,778.7 396.8,779.9 396.7,781.1C396.7,782.3 398.1,783.4 398.1,784.6C398.1,785.8 397,786.9 396.8,788.1C396.5,789.3 396.6,790.4 396.6,791.6C396.5,792.8 394.7,793.9 396.5,795.1C398.3,796.3 403.9,797.4 407.1,798.6C410.3,799.8 412.2,800.9 415.8,802.1C419.4,803.3 423.8,804.4 428.5,805.6C433.1,806.8 442.6,807.9 443.8,809.1C445,810.3 437.7,811.4 435.6,812.6C433.4,813.8 433.1,814.9 431,816.1C428.8,817.3 422.6,818.5 422.8,819.6C423,820.7 429.4,821.8 432.4,822.8C435.4,823.9 437.3,825 440.8,826C444.2,827.1 449.4,828.2 452.8,829.3C456.2,830.4 460.9,831.3 461,832.5C461.1,833.7 456.6,835.1 453.5,836.4C450.3,837.7 445.5,838.9 442.3,840.2C439.2,841.5 434.9,842.9 434.6,844.1C434.3,845.4 438.5,846.5 440.3,847.7C442,848.9 443.3,850.2 445.3,851.4C447.3,852.6 451.3,853.8 452.2,855C453.1,856.2 450.9,857.2 450.6,858.3C450.2,859.4 447.5,860.3 450,861.6C452.5,862.9 460.5,864.5 465.6,866C470.7,867.5 480.3,868.9 480.6,870.4C480.9,871.9 471.6,873.3 467.6,874.8C463.6,876.2 457.2,877.6 456.5,879.1C455.8,880.6 461.5,882 463.7,883.5C465.9,885 467.7,886.6 469.7,887.9C471.7,889.2 473.5,890.1 475.7,891.2C478,892.3 480.7,893.3 483.4,894.4C486,895.5 491.7,896.5 491.6,897.7C491.5,898.9 485.9,900.3 482.6,901.5C479.4,902.8 471,904.1 471.9,905.4C472.8,906.7 482.6,908 488,909.2C493.5,910.5 504,911.8 504.7,913.1C505.4,914.4 496.4,915.6 492.4,916.9C488.4,918.2 480.3,919.5 480.6,920.7C480.9,921.9 489.6,922.9 494,924C498.4,925.1 507.9,926.2 506.9,927.3C505.9,928.4 494.4,929.5 488.2,930.6C482,931.7 470.3,932.8 469.7,933.9C469.1,935 479.6,936.1 484.7,937.1C489.8,938.2 499.4,939.3 500.3,940.4C501.2,941.5 493.2,942.6 490.2,943.7C487.3,944.8 482.9,945.5 482.8,947C482.7,948.5 488.4,950.8 489.4,952.5C490.4,954.2 489.1,956.2 489,957" fill="none" stroke="#808080" stroke-width="3.1" stroke-linejoin="round"/><path d="M375.5,549C376.1,549.5 378.4,551.2 379.3,552.3C380.1,553.4 381,554.4 380.8,555.6C380.6,556.8 378.7,558.2 378.3,559.5C377.8,560.9 377.9,562.3 378.1,563.5C378.3,564.7 379.3,565.6 379.3,566.6C379.4,567.6 378.3,568.6 378.6,569.6C379,570.7 380.9,571.7 381.3,572.7C381.7,573.7 380.9,574.8 380.8,575.8C380.7,576.8 380.3,577.9 380.9,578.9C381.4,580 383.5,581 384.2,582.1C384.8,583.1 384.5,584.2 384.9,585.2C385.3,586.3 386.2,587.3 386.5,588.4C386.9,589.4 386.7,590.5 386.9,591.5C387.1,592.5 387.8,593.6 387.4,594.6C387.1,595.6 385.5,596.6 385,597.6C384.5,598.7 384.7,599.7 384.6,600.7C384.4,601.7 384.2,602.8 384.3,603.8C384.4,604.8 385.2,605.8 385.2,606.8C385.3,607.9 384.7,608.9 384.6,609.9C384.6,610.9 384.8,611.9 385,613C385.2,614 386.1,614.9 386,616C385.9,617.1 384.7,618.3 384.6,619.5C384.6,620.7 385.4,621.9 385.5,623C385.5,624.2 385.1,625.4 384.8,626.6C384.5,627.7 384.3,628.9 383.9,630.1C383.5,631.3 382.9,632.4 382.5,633.6C382.1,634.8 381.3,635.9 381.3,637.1C381.3,638.3 382.5,639.4 382.4,640.6C382.3,641.8 381.6,642.6 380.8,644.1C380,645.6 377.4,647.8 377.3,649.4C377.2,651 379.1,652.3 379.9,653.8C380.8,655.2 382.3,656.8 382.5,658.1C382.7,659.4 381.3,660.4 381,661.6C380.7,662.8 380.8,663.9 380.7,665.1C380.5,666.3 380,667.4 379.9,668.6C379.8,669.8 380.3,670.9 380.3,672.1C380.3,673.3 379.9,674.4 380.1,675.6C380.3,676.8 381.8,677.9 381.7,679.1C381.6,680.3 380.3,681.5 379.5,682.7C378.6,683.9 377.4,685.2 376.6,686.4C375.8,687.6 375.3,688.7 374.6,690C373.9,691.3 373.3,692.9 372.6,694.4C371.9,695.9 370.6,697.5 370.3,698.8C370,700.1 371,701.1 371,702.3C370.9,703.5 370.3,704.6 369.9,705.8C369.6,707 369,708.1 369,709.3C369,710.5 369.8,711.6 369.7,712.8C369.7,714 368.6,715.2 368.5,716.3C368.4,717.4 369.5,718.4 369.4,719.4C369.2,720.5 367.9,721.5 367.8,722.5C367.7,723.6 368.9,724.6 368.6,725.6C368.3,726.7 366.4,727.7 366,728.8C365.6,729.8 365.9,730.8 366,731.9C366.1,732.9 366.6,733.9 366.5,735C366.4,736.1 365.3,737.2 365.4,738.3C365.5,739.3 366.8,740.4 367,741.5C367.1,742.6 366.2,743.7 366.1,744.8C365.9,745.9 366,747 365.8,748C365.6,749.1 365.2,750.2 365,751.3C364.8,752.4 364.6,753.4 364.7,754.4C364.7,755.5 365,756.5 365.3,757.5C365.6,758.6 366.5,759.6 366.4,760.6C366.3,761.7 365,762.7 364.7,763.8C364.5,764.8 364.7,765.8 364.9,766.9C365.1,767.9 366,769 366,770C366,771 364.8,772.1 364.7,773.1C364.7,774.2 365.3,775.2 365.5,776.3C365.8,777.3 366.3,778.4 366.3,779.4C366.2,780.5 365.6,781.5 365.4,782.5C365.1,783.6 364.9,784.6 364.8,785.7C364.7,786.7 365,787.8 364.9,788.8C364.7,789.9 364,790.9 363.9,792C363.9,793 364.2,794.1 364.5,795.1C364.8,796.1 365.7,797.1 365.6,798.1C365.6,799.2 364.5,800.2 364.2,801.2C364,802.2 364,803.2 364,804.2C364,805.3 364,806.3 364.2,807.3C364.5,808.3 365.5,809.3 365.5,810.4C365.5,811.4 364.3,812.4 364.3,813.4C364.3,814.4 365.7,815.4 365.7,816.5C365.8,817.5 364.6,818.5 364.4,819.5C364.2,820.5 364.8,821.5 364.7,822.5C364.6,823.6 363.7,824.6 363.9,825.6C364.1,826.6 365.6,827.6 365.9,828.6C366.2,829.7 365.8,830.7 365.7,831.7C365.5,832.7 365.2,833.7 364.9,834.8C364.7,835.8 364.1,836.8 364.1,837.8C364.1,838.8 364.9,839.8 365.1,840.9C365.2,841.9 364.7,842.9 364.8,843.9C365,844.9 365.9,845.9 366,847C366,848 365.2,849 365.2,850C365.2,851 366.1,852 366.2,853.1C366.3,854.1 366,855.1 365.7,856.1C365.5,857.1 364.9,858.2 364.6,859.2C364.4,860.2 363.8,861.2 364,862.2C364.3,863.2 365.7,864.3 366.1,865.3C366.4,866.3 366.5,867.3 366.2,868.3C365.9,869.4 364.4,870.4 364.3,871.4C364.1,872.4 364.9,873.4 365.1,874.5C365.2,875.5 364.8,876.5 365,877.5C365.2,878.5 366.4,879.6 366.2,880.6C366,881.6 364.3,882.6 363.9,883.6C363.5,884.6 363.6,885.7 363.9,886.7C364.3,887.7 365.6,888.7 365.8,889.7C366,890.8 365.3,891.8 365.1,892.8C365,893.8 364.8,894.8 364.9,895.9C364.9,896.9 365.5,897.9 365.6,898.9C365.6,899.9 365.2,901 365.1,902C365.1,903 365.5,904 365.4,905C365.2,906 364.5,907.1 364.3,908.1C364,909.1 364,910.1 363.9,911.1C363.8,912.2 363.6,913.2 363.7,914.2C363.8,915.2 364.2,916.2 364.4,917.3C364.7,918.3 365.1,919.3 365.2,920.3C365.2,921.3 364.6,922.4 364.5,923.4C364.4,924.4 364.3,925.4 364.4,926.4C364.5,927.4 364.9,928.5 365,929.5C365.2,930.5 365.2,931.5 365.2,932.5C365.2,933.6 365.1,934.6 364.9,935.6C364.8,936.6 364.2,937.6 364.3,938.7C364.3,939.7 365.3,940.7 365.5,941.7C365.6,942.7 365.4,943.8 365.4,944.8C365.4,945.8 365.6,946.8 365.6,947.8C365.6,948.8 365.9,949.9 365.6,950.9C365.2,951.9 363.6,952.9 363.5,953.9C363.3,955 364.4,956.5 364.6,957" fill="none" stroke="#f9b23f" stroke-width="2.9" stroke-linejoin="round"/><path d="M390.4,549C391,549.5 392.4,551.2 393.9,552.3C395.3,553.4 398.5,554.5 399.2,555.6C399.9,556.7 398.6,557.8 398.2,558.8C397.8,559.9 397.2,561 396.6,562.1C396.1,563.1 394.5,564.1 394.8,565.3C395.1,566.5 397.5,567.8 398.2,569.1C398.9,570.4 398.3,571.6 398.9,572.9C399.5,574.2 402.1,575.4 401.8,576.7C401.5,578.1 397.8,579.7 397.4,581C397,582.3 398.3,583.3 399.1,584.5C400,585.7 401.8,586.8 402.6,588C403.5,589.2 404.5,590.2 404.4,591.5C404.3,592.8 402.7,594.4 401.7,595.9C400.7,597.4 398.9,598.9 398.3,600.3C397.7,601.7 398,602.8 398.3,604C398.5,605.3 399.4,606.5 399.6,607.8C399.8,609 399.3,610.2 399.3,611.5C399.4,612.7 400.4,613.9 400,615.2C399.6,616.5 398.3,617.8 397.2,619.2C396,620.5 394,621.9 393,623.1C392,624.3 391.6,625.2 391.2,626.3C390.8,627.3 390.6,628.4 390.6,629.4C390.6,630.5 391.6,631.5 391.4,632.6C391.2,633.6 389.7,634.7 389.2,635.7C388.8,636.8 389.3,637.8 388.7,638.9C388.1,640 386.4,641.2 385.8,642.4C385.1,643.6 385.4,644.7 384.8,645.9C384.1,647.1 381.9,648.1 381.7,649.4C381.5,650.7 382.9,652.3 383.3,653.8C383.7,655.2 384.3,656.8 384.3,658.1C384.3,659.4 383.4,660.4 383.5,661.6C383.5,662.8 384.3,663.9 384.4,665.1C384.6,666.3 384.1,667.5 384.3,668.6C384.5,669.7 385.3,670.6 385.3,671.7C385.4,672.7 384.6,673.7 384.8,674.8C385,675.8 386.3,676.8 386.6,677.8C387,678.9 387.2,679.9 386.9,680.9C386.6,681.9 385.1,682.9 384.5,683.9C384,684.9 383.9,686 383.6,687C383.2,688 383.1,688.8 382.5,690C381.9,691.2 380.3,692.9 379.7,694.4C379.2,695.9 379,697.6 379,698.8C379,700 379,700.8 379.6,701.8C380.2,702.9 382.3,703.9 382.8,704.9C383.3,705.9 382.5,706.9 382.7,708C383,709 383.8,709.9 384.3,711C384.8,712.1 385.8,713.3 385.9,714.5C386,715.7 385,716.8 385,718C385,719.2 385.7,720.3 385.8,721.5C386,722.7 386.2,723.8 386,725C385.8,726.2 385.4,727.3 384.8,728.5C384.2,729.7 383.3,730.9 382.2,732C381.2,733.2 379.5,734.4 378.8,735.6C378,736.7 378.4,737.9 377.8,739.1C377.3,740.3 375.9,741.4 375.5,742.6C375.1,743.8 375.8,744.9 375.6,746.1C375.5,747.2 374.7,748.4 374.4,749.6C374.1,750.7 373.8,751.9 374,753C374.2,754.2 375.6,755.4 375.7,756.5C375.8,757.7 374.8,758.8 374.6,760C374.4,761.2 374.6,762.4 374.4,763.5C374.2,764.7 373.6,765.9 373.5,767C373.4,768.2 373.8,769.4 373.9,770.6C373.9,771.8 373.8,772.8 373.8,774.1C373.8,775.4 373.7,777 374,778.5C374.3,780 375.3,781.7 375.5,782.9C375.7,784.1 375.3,784.9 374.9,786C374.5,787 373.6,788 372.9,789C372.2,790 371.1,791 370.6,792C370.2,793.1 369.8,794.1 370.3,795.1C370.8,796.1 373.1,797.2 373.9,798.3C374.6,799.3 374.2,800.4 374.9,801.4C375.6,802.5 377.3,803.5 378.2,804.6C379.1,805.6 379.3,806.7 380.4,807.7C381.4,808.8 384,809.8 384.3,810.9C384.6,812 383.1,813.2 381.9,814.4C380.8,815.6 378.6,816.7 377.5,817.9C376.4,819.1 374.9,820.3 375.5,821.4C376.1,822.5 379.6,823.5 381.4,824.6C383.2,825.7 384.3,826.7 386.2,827.8C388.1,828.9 392.4,829.9 393,831C393.6,832.1 390.9,833.4 390.1,834.6C389.2,835.8 388.6,837.1 387.6,838.3C386.7,839.5 384.6,840.8 384.3,841.9C384,843 385.5,844 386.1,845.1C386.6,846.1 387,847.2 387.6,848.2C388.1,849.3 388.8,850.3 389.4,851.4C389.9,852.5 390.3,853.5 390.9,854.6C391.6,855.6 392.6,856.7 393,857.7C393.5,858.8 393,859.8 393.5,860.9C394,862 395.5,863 396.1,864.1C396.8,865.1 396.7,866.2 397.3,867.2C397.8,868.3 400,869.1 399.6,870.4C399.2,871.7 396.8,873.3 395,874.8C393.2,876.2 389.5,877.8 388.7,879.1C387.9,880.4 390.3,881.3 390.3,882.4C390.3,883.5 388.9,884.6 388.7,885.7C388.6,886.8 389.1,887.9 389.4,889C389.8,890.1 389.6,891.2 390.8,892.3C392,893.4 395,894.5 396.8,895.5C398.6,896.6 401.1,897.7 401.8,898.8C402.5,899.9 401.4,901 400.9,902.1C400.3,903.2 398.8,904.3 398.4,905.4C398.1,906.5 399.2,907.6 399,908.7C398.8,909.8 397,910.9 397.4,912C397.8,913.1 400.3,914 401.1,915.1C402,916.1 401.9,917.1 402.5,918.1C403.1,919.1 404,920.2 405,921.2C405.9,922.2 407.2,923.2 408.1,924.2C409.1,925.3 411.1,926.2 410.6,927.3C410.1,928.4 407.3,929.5 405.1,930.6C402.9,931.7 398,932.6 397.4,933.9C396.8,935.2 399.8,936.8 401.2,938.2C402.7,939.7 406.5,941.1 406.2,942.6C405.9,944.1 400.5,945.7 399.6,947C398.7,948.3 400.2,949.2 400.6,950.3C401,951.4 401.2,952.6 401.8,953.7C402.4,954.8 403.6,956.4 404,957" fill="none" stroke="#0a6aff" stroke-width="2.9" stroke-linejoin="round"/><path d="M422.8,549C424.2,549.5 428.1,551.2 431,552.3C433.9,553.4 440.5,554.5 440.3,555.6C440.1,556.7 432.2,558 429.8,559.1C427.4,560.2 427.3,561.2 425.9,562.2C424.4,563.2 421.2,564.2 421.1,565.3C421,566.4 423.9,567.6 425,568.8C426.2,570 426.7,570.8 428.1,572.3C429.5,573.8 432.1,576.1 433.3,577.5C434.5,578.9 435.1,579.6 435.5,580.6C435.8,581.6 435,582.6 435.2,583.6C435.4,584.7 436.1,585.7 436.6,586.7C437.2,587.7 439.3,588.7 438.6,589.8C437.9,590.9 434.3,592.1 432.5,593.3C430.8,594.5 428.5,595.6 428.1,596.8C427.7,598 429.2,599.1 430,600.3C430.9,601.5 433.9,602.3 433.3,603.8C432.7,605.3 427.1,607.6 426.3,609.1C425.5,610.6 428.2,611.4 428.6,612.6C429.1,613.8 428.5,614.9 428.9,616.1C429.4,617.3 431.1,618.4 431.6,619.6C432.1,620.8 431.7,621.9 431.7,623.1C431.7,624.3 432.9,625.4 431.6,626.6C430.3,627.8 426.2,628.9 423.9,630.1C421.6,631.3 418.8,632.4 417.6,633.6C416.4,634.8 416.7,635.9 416.5,637.1C416.3,638.3 416.4,639.4 416.2,640.6C416.1,641.8 417.3,642.6 415.8,644.1C414.3,645.6 406.8,647.6 407.1,649.4C407.4,651.1 417.9,652.9 417.6,654.6C417.3,656.4 406,658.4 405.3,659.9C404.6,661.4 410.8,662.2 413.1,663.4C415.4,664.6 419,665.6 419.3,666.9C419.6,668.2 416.7,669.8 415.2,671.2C413.8,672.7 412.3,674.4 410.6,675.6C408.9,676.8 406.6,677.6 405,678.7C403.5,679.7 402.7,680.7 401.3,681.8C399.8,682.8 397.9,683.8 396.6,684.8C395.2,685.9 393.9,687 393,687.9C392.1,688.8 391.3,689.1 391.3,690C391.3,690.9 393.4,692.3 393,693.5C392.6,694.7 390.4,695.8 388.6,697C386.9,698.2 383.4,699.4 382.5,700.5C381.6,701.6 383.1,702.6 383.2,703.6C383.4,704.6 383.2,705.6 383.2,706.6C383.2,707.7 383.4,708.7 383.3,709.7C383.2,710.7 382.4,711.8 382.5,712.8C382.6,713.8 383.5,714.8 384,715.8C384.4,716.9 385,717.9 385.3,718.9C385.6,719.9 385.7,720.9 385.8,722C385.9,723 386.3,723.9 386,725C385.7,726.1 384.4,727.3 384.1,728.5C383.8,729.7 384.6,730.8 384.2,732C383.9,733.2 382.6,734.3 382.1,735.5C381.5,736.7 381.1,737.9 380.8,739C380.5,740.1 380.7,741 380.4,742C380.1,743 379.4,744 379,745C378.5,746 378,747 377.6,748C377.2,749 376.8,750 376.5,751C376.1,752 376,753 375.6,754C375.3,755 374.7,756 374.4,757C374,758 374,759 373.8,760C373.6,761 373.1,762.2 373.4,763.3C373.7,764.4 375.1,765.5 375.6,766.5C376,767.6 375.8,768.7 376,769.8C376.2,770.9 376.8,772 377,773.1C377.1,774.2 376.8,775.3 376.8,776.4C376.8,777.4 376.8,778.5 376.9,779.6C377,780.7 376.3,781.6 377.3,782.9C378.3,784.2 381.4,785.8 383.1,787.2C384.9,788.7 387.6,790 387.8,791.6C388,793.2 383.6,795.5 384.3,796.9C385,798.3 389.2,798.9 392.2,800C395.2,801 399.2,802 402.2,803C405.3,804 407.6,805 410.4,806C413.3,807.1 418.5,808.1 419.3,809.1C420.1,810.1 416.3,811.1 415,812.2C413.7,813.2 412.6,814.2 411.6,815.2C410.6,816.3 409.9,817.3 408.9,818.3C407.8,819.4 404.8,820.2 405.3,821.4C405.8,822.6 409.3,824 411.6,825.3C413.8,826.6 416.5,827.9 418.9,829.2C421.3,830.5 426,831.7 425.9,833.1C425.8,834.5 421.1,836 418.5,837.5C416,839 411.1,840.4 410.6,841.9C410.1,843.4 414,844.8 415.8,846.3C417.6,847.8 420.9,849.2 421.5,850.7C422.1,852.2 419.9,853.6 419.5,855C419.1,856.5 418.2,858.1 419.3,859.4C420.4,860.7 423.8,861.8 425.8,863.1C427.9,864.3 429.6,865.5 431.8,866.7C434,868 439,869.1 439,870.4C439,871.7 434,873.3 431.8,874.8C429.6,876.2 426.1,877.8 425.9,879.1C425.7,880.4 428.8,881.3 430.6,882.4C432.4,883.5 435.5,884.4 436.8,885.7C438.1,887 437.9,888.6 438.7,890C439.4,891.5 439.3,892.9 441.2,894.4C443.1,895.9 451.1,897.3 450,898.8C448.9,900.3 435.3,901.7 434.6,903.2C433.9,904.7 441.6,906.1 445.6,907.6C449.6,909.1 457.7,910.7 458.7,912C459.7,913.3 454,914.2 451.4,915.2C448.9,916.3 443.3,917.2 443.4,918.5C443.5,919.8 449.6,921.4 452.1,922.9C454.7,924.4 460,926 458.7,927.3C457.4,928.6 449,929.5 444.2,930.6C439.5,931.7 430.7,932.6 430.3,933.9C429.9,935.2 438.1,936.8 441.8,938.2C445.4,939.7 452.3,941.1 452.2,942.6C452.1,944.1 442.6,945.7 441.2,947C439.8,948.3 443.4,949.2 443.7,950.3C444,951.4 442.7,952.6 443,953.7C443.4,954.8 445.2,956.4 445.6,957" fill="none" stroke="#f06b60" stroke-width="2.9" stroke-linejoin="round"/></g><rect x="362.1" y="550.3" width="190.6" height="404" fill="none" stroke="#000" stroke-width="2.4"/><g stroke="#000" stroke-width="2.4"><line x1="362.1" y1="954.3" x2="371.1" y2="954.3"/><line x1="552.7" y1="954.3" x2="543.7" y2="954.3"/><line x1="362.1" y1="887" x2="371.1" y2="887"/><line x1="552.7" y1="887" x2="543.7" y2="887"/><line x1="362.1" y1="819.7" x2="371.1" y2="819.7"/><line x1="552.7" y1="819.7" x2="543.7" y2="819.7"/><line x1="362.1" y1="752.3" x2="371.1" y2="752.3"/><line x1="552.7" y1="752.3" x2="543.7" y2="752.3"/><line x1="362.1" y1="685" x2="371.1" y2="685"/><line x1="552.7" y1="685" x2="543.7" y2="685"/><line x1="362.1" y1="617.7" x2="371.1" y2="617.7"/><line x1="552.7" y1="617.7" x2="543.7" y2="617.7"/><line x1="362.1" y1="550.4" x2="371.1" y2="550.4"/><line x1="552.7" y1="550.4" x2="543.7" y2="550.4"/><line x1="457.6" y1="954.3" x2="457.6" y2="945.3"/><line x1="457.6" y1="550.3" x2="457.6" y2="559.3"/></g><rect x="455" y="553.8" width="94.2" height="101" rx="4" fill="#fff" stroke="#c9c9c9" stroke-width="2.6"/><line x1="457" y1="564.9" x2="478.5" y2="564.9" stroke="#808080" stroke-width="2.6"/><text x="485.5" y="572.3" font-size="19">Total</text><line x1="457" y1="589.5" x2="478.5" y2="589.5" stroke="#f9b23f" stroke-width="2.6"/><text x="485.5" y="596.9" font-size="19">Ge-<tspan font-style="italic">s</tspan></text><line x1="457" y1="614.1" x2="478.5" y2="614.1" stroke="#0a6aff" stroke-width="2.6"/><text x="485.5" y="621.5" font-size="19">Ge-<tspan font-style="italic">p</tspan><tspan font-style="italic" font-size="14.5" dy="3.8">z</tspan></text><line x1="457" y1="638.7" x2="478.5" y2="638.7" stroke="#f06b60" stroke-width="2.6"/><text x="485.5" y="646.1" font-size="19">Ge-<tspan font-style="italic">p</tspan><tspan font-style="italic" font-size="14.5" dy="3.8">xy</tspan></text><clipPath id="clipIb"><rect x="450.2" y="704.6" width="85.4" height="95.2"/></clipPath><rect x="450.2" y="704.6" width="85.4" height="95.2" fill="#fff"/><g clip-path="url(#clipIb)"><path d="M447.2,701.6C461,702 518.8,701 530.2,704C541.6,707 517.1,715.7 515.7,719.7C514.3,723.8 523.8,725.2 521.6,728.3C519.4,731.4 506.4,734.5 502.6,738.1C498.8,741.7 498.6,746.3 498.6,750C498.6,753.7 503.7,756.9 502.6,760.4C501.5,763.9 493.5,767.5 492,771C490.5,774.5 491.6,777.8 493.4,781.5C495.2,785.2 501.5,790.2 502.6,793.3C503.7,796.4 509.2,798.4 500,800C490.8,801.6 456,802.3 447.2,802.8Z" fill="#e6e6e6"/><path d="M530.2,704C527.8,706.6 517.1,715.7 515.7,719.7C514.3,723.8 523.8,725.2 521.6,728.3C519.4,731.4 506.4,734.5 502.6,738.1C498.8,741.7 498.6,746.3 498.6,750C498.6,753.7 503.7,756.9 502.6,760.4C501.5,763.9 493.5,767.5 492,771C490.5,774.5 491.6,777.8 493.4,781.5C495.2,785.2 501.5,790.2 502.6,793.3C503.7,796.4 500.4,798.9 500,800" fill="none" stroke="#808080" stroke-width="3.4"/><path d="M459.9,704C459.4,707.7 458,718.2 457.2,726.3C456.4,734.4 455.5,743.9 455.3,752.6C455.1,761.4 455.9,770.9 455.9,778.8C455.9,786.7 455.4,796.5 455.3,800" fill="none" stroke="#f9b23f" stroke-width="3.2"/><path d="M487.5,704C486.5,706 482.7,712.1 481.5,715.8C480.3,719.5 481.9,722.4 480.2,726.3C478.4,730.2 472.8,735 471,739.4C469.2,743.8 470.5,747.3 469.7,752.6C468.9,757.9 466.3,765.6 466.4,771C466.4,776.4 468.8,780.2 470,785C471.2,789.8 473.1,797.5 473.7,800" fill="none" stroke="#0a6aff" stroke-width="3.2"/><path d="M482.2,704C481.6,706.6 478.4,715.6 478.3,719.7C478.2,723.9 482.5,725.6 481.5,728.9C480.5,732.2 474.1,735.9 472.3,739.4C470.6,742.9 470.8,746.5 471,750C471.2,753.5 474.1,756.9 473.7,760.4C473.3,763.9 468.7,766.8 468.4,771C468.1,775.2 471.5,780.6 471.7,785.4C471.9,790.2 470,797.6 469.7,800" fill="none" stroke="#f06b60" stroke-width="3.2"/></g><rect x="450.2" y="704.6" width="85.4" height="95.2" fill="none" stroke="#000" stroke-width="2.4"/><g stroke="#000" stroke-width="2.2"><line x1="506.5" y1="704.6" x2="506.5" y2="712.6"/><line x1="506.5" y1="799.8" x2="506.5" y2="791.8"/><line x1="450.2" y1="752.2" x2="458.2" y2="752.2"/><line x1="535.6" y1="752.2" x2="527.6" y2="752.2"/></g><line x1="372" y1="736.4" x2="444.7" y2="705.8" stroke="#000" stroke-width="2.6" stroke-dasharray="10,4.5"/><line x1="372" y1="768" x2="444.7" y2="798.6" stroke="#000" stroke-width="2.6" stroke-dasharray="10,4.5"/><g font-size="19" text-anchor="end"><text x="439" y="710.8">0.3</text><text x="439" y="758.4">0.0</text><text x="439" y="806">−0.3</text></g><g font-size="19" text-anchor="middle"><text x="450.5" y="824.3">0</text><text x="506.5" y="824.3">0.1</text></g><clipPath id="clipSC"><rect x="573" y="550.4" width="53.4" height="198.4"/></clipPath><rect x="573" y="550.4" width="53.4" height="198.4" fill="#6666fc"/><g clip-path="url(#clipSC)"><circle cx="574" cy="562.8" r="7.2" fill="url(#gG)"/><circle cx="599.8" cy="562.8" r="7.2" fill="url(#gG)"/><circle cx="625.4" cy="562.8" r="7.2" fill="url(#gG)"/><circle cx="574" cy="591" r="7.2" fill="url(#gG)"/><circle cx="599.8" cy="591" r="7.2" fill="url(#gG)"/><circle cx="625.4" cy="591" r="7.2" fill="url(#gG)"/><ellipse cx="600.5" cy="619" rx="14" ry="17" fill="url(#gW)"/><ellipse cx="600.8" cy="609.4" rx="6.5" ry="5" fill="url(#gR)"/><ellipse cx="600.8" cy="628.5" rx="6.5" ry="5" fill="url(#gR)"/><circle cx="574" cy="619.2" r="7.2" fill="url(#gG)"/><circle cx="599.8" cy="619.2" r="7.2" fill="url(#gG)"/><circle cx="625.4" cy="619.2" r="7.2" fill="url(#gG)"/><ellipse cx="600" cy="654" rx="30" ry="20" fill="url(#gW)"/><ellipse cx="601.5" cy="653" rx="13" ry="10" fill="url(#gR2)"/><ellipse cx="604" cy="700" rx="16" ry="15" fill="url(#gW)"/><ellipse cx="604" cy="700" rx="8" ry="9.5" fill="url(#gR2)"/><ellipse cx="598" cy="724" rx="34" ry="14" fill="url(#gW)"/><ellipse cx="603" cy="724" rx="22" ry="6.5" fill="url(#gP)"/><ellipse cx="606" cy="724" rx="12" ry="4" fill="url(#gR)" opacity="0.7"/><ellipse cx="578" cy="738" rx="12" ry="12" fill="url(#gW)"/><ellipse cx="580" cy="740" rx="7" ry="6" fill="url(#gP)"/><g stroke="#c58038" stroke-width="2.0" stroke-linecap="round"><line x1="580.2" y1="646.3" x2="586.7" y2="658.3"/><line x1="619.3" y1="646.3" x2="612.7" y2="658.3"/><line x1="580.2" y1="646.3" x2="612.7" y2="658.3"/><line x1="619.3" y1="646.3" x2="586.7" y2="658.3"/><line x1="586.7" y1="658.3" x2="573.7" y2="670.2"/><line x1="612.7" y1="658.3" x2="624.7" y2="670.2"/><line x1="580.2" y1="646.3" x2="573.7" y2="670.2"/><line x1="619.3" y1="646.3" x2="624.7" y2="670.2"/><line x1="573.7" y1="670.2" x2="599.7" y2="689.7"/><line x1="624.7" y1="670.2" x2="599.7" y2="689.7"/><line x1="599.7" y1="689.7" x2="599.7" y2="709.3"/><line x1="599.7" y1="709.3" x2="573.7" y2="728.8"/><line x1="599.7" y1="709.3" x2="624.7" y2="728.8"/><line x1="573.7" y1="728.8" x2="573.7" y2="746"/><line x1="624.7" y1="728.8" x2="624.7" y2="746"/></g><circle cx="580.2" cy="646.3" r="5.8" fill="url(#gO)"/><circle cx="619.3" cy="646.3" r="5.8" fill="url(#gO)"/><circle cx="586.7" cy="658.3" r="5.8" fill="url(#gO)"/><circle cx="612.7" cy="658.3" r="5.8" fill="url(#gO)"/><circle cx="573.7" cy="670.2" r="5.8" fill="url(#gO)"/><circle cx="624.7" cy="670.2" r="5.8" fill="url(#gO)"/><circle cx="599.7" cy="689.7" r="5.8" fill="url(#gO)"/><circle cx="599.7" cy="709.3" r="5.8" fill="url(#gO)"/><circle cx="573.7" cy="728.8" r="5.8" fill="url(#gO)"/><circle cx="624.7" cy="728.8" r="5.8" fill="url(#gO)"/><circle cx="573.7" cy="746" r="5.8" fill="url(#gO)"/><circle cx="624.7" cy="746" r="5.8" fill="url(#gO)"/></g><path d="M626.4,550.4C626.4,558.8 624.9,591 626.6,600.8C628.3,610.6 633.3,606.5 636.6,609.4C639.9,612.3 647.5,615.2 646.4,618.1C645.3,621 632.5,623.9 630.1,626.8C627.8,629.7 626.9,632.2 632.3,635.5C637.7,638.8 654.8,642.9 662.7,646.3C670.7,649.7 681.1,653.2 680,656.1C678.9,659 663.1,661.2 656.1,663.7C649.1,666.2 637.7,668.4 637.7,671.3C637.7,674.2 650.3,676.8 656.1,681.1C661.9,685.4 673.8,693 672.4,697.3C671,701.6 649.5,703.6 647.5,707.1C645.5,710.6 660,715.1 660.5,718C661,720.9 648.2,721.1 650.7,724.5C653.2,727.9 675.5,734.6 675.7,738.6C675.9,742.6 655.8,747.1 651.8,748.8 L626.4,748.8 L626.4,550.4Z" fill="#a2d3ee"/><path d="M626.4,550.4C626.4,558.8 624.9,591 626.6,600.8C628.3,610.6 633.3,606.5 636.6,609.4C639.9,612.3 647.5,615.2 646.4,618.1C645.3,621 632.5,623.9 630.1,626.8C627.8,629.7 626.9,632.2 632.3,635.5C637.7,638.8 654.8,642.9 662.7,646.3C670.7,649.7 681.1,653.2 680,656.1C678.9,659 663.1,661.2 656.1,663.7C649.1,666.2 637.7,668.4 637.7,671.3C637.7,674.2 650.3,676.8 656.1,681.1C661.9,685.4 673.8,693 672.4,697.3C671,701.6 649.5,703.6 647.5,707.1C645.5,710.6 660,715.1 660.5,718C661,720.9 648.2,721.1 650.7,724.5C653.2,727.9 675.5,734.6 675.7,738.6C675.9,742.6 655.8,747.1 651.8,748.8" fill="none" stroke="#3a7bb0" stroke-width="1.6"/><text x="640.5" y="575.8" font-size="20" font-weight="bold" text-anchor="middle">C</text><clipPath id="clipSD"><rect x="573" y="757.4" width="53.4" height="197.8"/></clipPath><rect x="573" y="757.4" width="53.4" height="197.8" fill="#6666fc"/><g clip-path="url(#clipSD)"><ellipse cx="600" cy="763" rx="7" ry="6" fill="url(#gW)"/><ellipse cx="603" cy="762" rx="3" ry="3" fill="url(#gP)"/><circle cx="574" cy="769.1" r="7.2" fill="url(#gG)"/><circle cx="599.8" cy="769.1" r="7.2" fill="url(#gG)"/><circle cx="625.4" cy="769.1" r="7.2" fill="url(#gG)"/><circle cx="574" cy="796.6" r="7.2" fill="url(#gG)"/><circle cx="599.8" cy="796.6" r="7.2" fill="url(#gG)"/><circle cx="625.4" cy="796.6" r="7.2" fill="url(#gG)"/><ellipse cx="600" cy="822" rx="11" ry="12" fill="url(#gW)"/><ellipse cx="591" cy="815" rx="3" ry="3" fill="url(#gP)"/><ellipse cx="608" cy="816" rx="3" ry="3" fill="url(#gP)"/><ellipse cx="591" cy="833" rx="3" ry="3" fill="url(#gP)"/><ellipse cx="608" cy="833" rx="3" ry="3" fill="url(#gP)"/><ellipse cx="582" cy="847" rx="12" ry="9" fill="url(#gW)"/><ellipse cx="620" cy="843" rx="10" ry="8" fill="url(#gW)"/><ellipse cx="583" cy="846" rx="4" ry="3" fill="url(#gP)"/><ellipse cx="620" cy="843" rx="4" ry="3" fill="url(#gP)"/><circle cx="574" cy="825.3" r="7.2" fill="url(#gG)"/><circle cx="599.8" cy="825.3" r="7.2" fill="url(#gG)"/><circle cx="625.4" cy="825.3" r="7.2" fill="url(#gG)"/><ellipse cx="594" cy="872" rx="20" ry="15" fill="url(#gW)"/><ellipse cx="593" cy="873" rx="9.5" ry="7.5" fill="url(#gR2)"/><g stroke="#c58038" stroke-width="2.0" stroke-linecap="round"><line x1="579.8" y1="853.9" x2="586.2" y2="865.5"/><line x1="619.7" y1="853.9" x2="613.8" y2="865.5"/><line x1="579.8" y1="853.9" x2="613.8" y2="865.5"/><line x1="619.7" y1="853.9" x2="586.2" y2="865.5"/><line x1="586.2" y1="865.5" x2="573.5" y2="877.2"/><line x1="613.8" y1="865.5" x2="624.4" y2="877.2"/><line x1="579.8" y1="853.9" x2="573.5" y2="877.2"/><line x1="619.7" y1="853.9" x2="624.4" y2="877.2"/><line x1="573.5" y1="877.2" x2="600" y2="897.3"/><line x1="624.4" y1="877.2" x2="600" y2="897.3"/><line x1="600" y1="897.3" x2="600" y2="917.5"/><line x1="600" y1="917.5" x2="574.5" y2="935.5"/><line x1="600" y1="917.5" x2="624.4" y2="935.5"/><line x1="574.5" y1="935.5" x2="574.5" y2="953"/><line x1="624.4" y1="935.5" x2="624.4" y2="953"/></g><circle cx="579.8" cy="853.9" r="5.8" fill="url(#gO)"/><circle cx="619.7" cy="853.9" r="5.8" fill="url(#gO)"/><circle cx="586.2" cy="865.5" r="5.8" fill="url(#gO)"/><circle cx="613.8" cy="865.5" r="5.8" fill="url(#gO)"/><circle cx="573.5" cy="877.2" r="5.8" fill="url(#gO)"/><circle cx="624.4" cy="877.2" r="5.8" fill="url(#gO)"/><circle cx="600" cy="897.3" r="5.8" fill="url(#gO)"/><circle cx="600" cy="917.5" r="5.8" fill="url(#gO)"/><circle cx="574.5" cy="935.5" r="5.8" fill="url(#gO)"/><circle cx="624.4" cy="935.5" r="5.8" fill="url(#gO)"/><circle cx="574.5" cy="953" r="5.8" fill="url(#gO)"/><circle cx="624.4" cy="953" r="5.8" fill="url(#gO)"/></g><path d="M626.4,757.4C631.7,757.4 651.8,756.5 658.3,757.4C664.8,758.3 665.7,761.1 665.7,762.7C665.7,764.3 657.9,765.6 658.3,767C658.6,768.4 666.8,768.4 667.8,771.2C668.8,774 666.9,780 664.6,783.9C662.3,787.8 654.4,791.7 654,794.5C653.6,797.3 661.8,798.8 662.5,800.9C663.2,803 657,804.4 658.3,807.2C659.5,810 669.1,815 670,817.8C670.9,820.6 665.9,821.4 663.6,824.2C661.3,827 653.4,831.1 656.2,834.8C659,838.5 681.9,842.1 680.5,846.5C679.1,850.9 649.3,856.9 647.7,861.3C646.1,865.7 670.3,868.6 671,873C671.7,877.4 657.9,883.2 651.9,887.8C645.9,892.4 637.1,896.3 635,900.5C632.9,904.7 640.3,908.2 639.2,913.2C638.1,918.2 630.7,923.5 628.6,930.2C626.5,936.9 627.2,949.3 626.9,953.5C626.6,957.7 626.8,954.9 626.8,955.2 L626.4,955.2 L626.4,757.4Z" fill="#a2d3ee"/><path d="M626.4,757.4C631.7,757.4 651.8,756.5 658.3,757.4C664.8,758.3 665.7,761.1 665.7,762.7C665.7,764.3 657.9,765.6 658.3,767C658.6,768.4 666.8,768.4 667.8,771.2C668.8,774 666.9,780 664.6,783.9C662.3,787.8 654.4,791.7 654,794.5C653.6,797.3 661.8,798.8 662.5,800.9C663.2,803 657,804.4 658.3,807.2C659.5,810 669.1,815 670,817.8C670.9,820.6 665.9,821.4 663.6,824.2C661.3,827 653.4,831.1 656.2,834.8C659,838.5 681.9,842.1 680.5,846.5C679.1,850.9 649.3,856.9 647.7,861.3C646.1,865.7 670.3,868.6 671,873C671.7,877.4 657.9,883.2 651.9,887.8C645.9,892.4 637.1,896.3 635,900.5C632.9,904.7 640.3,908.2 639.2,913.2C638.1,918.2 630.7,923.5 628.6,930.2C626.5,936.9 627.2,949.3 626.9,953.5C626.6,957.7 626.8,954.9 626.8,955.2" fill="none" stroke="#3a7bb0" stroke-width="1.6"/><text x="639.8" y="782.9" font-size="20" font-weight="bold" text-anchor="middle">D</text></svg></body></html>
